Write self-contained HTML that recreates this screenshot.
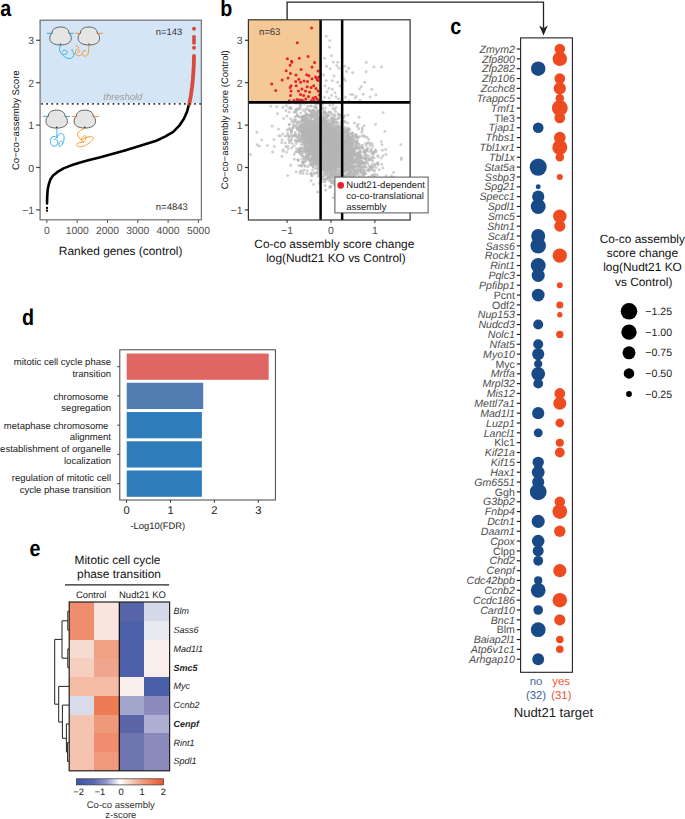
<!DOCTYPE html>
<html><head><meta charset="utf-8"><style>
html,body{margin:0;padding:0;background:#fff;}
body{width:685px;height:819px;overflow:hidden;}
svg{display:block;font-family:"Liberation Sans", sans-serif;text-rendering:geometricPrecision;}
</style></head><body>
<svg width="685" height="819" viewBox="0 0 685 819">
<rect width="685" height="819" fill="#fff"/>
<text transform="translate(0.2 15.6) scale(0.87 1)" font-size="22.7" font-weight="bold">a</text>
<text transform="translate(220.3 15.7) scale(0.87 1)" font-size="22.7" font-weight="bold">b</text>
<text transform="translate(450.2 33.5) scale(0.87 1)" font-size="22.7" font-weight="bold">c</text>
<text transform="translate(21.9 325.4) scale(0.87 1)" font-size="22.7" font-weight="bold">d</text>
<text transform="translate(29.6 555.5) scale(0.87 1)" font-size="22.7" font-weight="bold">e</text>
<rect x="40" y="20" width="161.5" height="83" fill="#d4e5f6"/>
<polyline fill="none" stroke="#000" stroke-width="2.6" stroke-linecap="round" stroke-linejoin="round" points="47.0,203.4 47.2,196.4 47.7,189.4 48.8,184.2 50.5,179.3 53.1,175.4 57.5,171.9 63.6,168.4 70.6,165.6 79.4,162.7 88.2,160.3 99.5,157.4 110.3,154.5 125.7,150.2 141,145.6 156.3,140.7 165.5,136.4 173.2,131.8 179.3,125.7 183.9,118.8 187,111.9 188.8,105 189.3,103.9"/>
<rect x="46" y="206.9" width="2" height="2" fill="#000"/><rect x="46" y="209.6" width="2" height="2" fill="#000"/>
<polyline fill="none" stroke="#d94a38" stroke-width="3.8" stroke-linecap="round" stroke-linejoin="round" points="189.3,103.9 190.8,96 191.9,88 192.8,80 193.4,72 193.8,64 194,56"/>
<circle cx="194" cy="28.8" r="2.0" fill="#d94a38"/>
<circle cx="194" cy="37" r="2.0" fill="#d94a38"/>
<circle cx="194" cy="39.9" r="2.0" fill="#d94a38"/>
<circle cx="194" cy="42.7" r="2.0" fill="#d94a38"/>
<circle cx="194" cy="47.8" r="2.0" fill="#d94a38"/>
<line x1="41.2" y1="103.9" x2="201.5" y2="103.9" stroke="#333" stroke-width="1.7" stroke-dasharray="1.7 3.4"/>
<rect x="40.1" y="20.2" width="161.3" height="199.6" fill="none" stroke="#7a7a7a" stroke-width="1.3"/>
<line x1="36.1" y1="40.3" x2="40" y2="40.3" stroke="#444" stroke-width="1.2"/>
<text x="34.20" y="44.31" font-size="10.5" text-anchor="end" fill="#4d4d4d">3</text>
<line x1="36.1" y1="82.7" x2="40" y2="82.7" stroke="#444" stroke-width="1.2"/>
<text x="34.20" y="86.71" font-size="10.5" text-anchor="end" fill="#4d4d4d">2</text>
<line x1="36.1" y1="125.1" x2="40" y2="125.1" stroke="#444" stroke-width="1.2"/>
<text x="34.20" y="129.11" font-size="10.5" text-anchor="end" fill="#4d4d4d">1</text>
<line x1="36.1" y1="167.5" x2="40" y2="167.5" stroke="#444" stroke-width="1.2"/>
<text x="34.20" y="171.51" font-size="10.5" text-anchor="end" fill="#4d4d4d">0</text>
<line x1="36.1" y1="209.9" x2="40" y2="209.9" stroke="#444" stroke-width="1.2"/>
<text x="34.20" y="213.91" font-size="10.5" text-anchor="end" fill="#4d4d4d">−1</text>
<line x1="46.9" y1="220" x2="46.9" y2="223" stroke="#555" stroke-width="1"/>
<text x="46.90" y="233.56" font-size="10.35" text-anchor="middle" fill="#4d4d4d">0</text>
<line x1="77.2" y1="220" x2="77.2" y2="223" stroke="#555" stroke-width="1"/>
<text x="77.20" y="233.56" font-size="10.35" text-anchor="middle" fill="#4d4d4d">1000</text>
<line x1="107.5" y1="220" x2="107.5" y2="223" stroke="#555" stroke-width="1"/>
<text x="107.50" y="233.56" font-size="10.35" text-anchor="middle" fill="#4d4d4d">2000</text>
<line x1="137.8" y1="220" x2="137.8" y2="223" stroke="#555" stroke-width="1"/>
<text x="137.80" y="233.56" font-size="10.35" text-anchor="middle" fill="#4d4d4d">3000</text>
<line x1="168.1" y1="220" x2="168.1" y2="223" stroke="#555" stroke-width="1"/>
<text x="168.10" y="233.56" font-size="10.35" text-anchor="middle" fill="#4d4d4d">4000</text>
<line x1="198.4" y1="220" x2="198.4" y2="223" stroke="#555" stroke-width="1"/>
<text x="198.40" y="233.56" font-size="10.35" text-anchor="middle" fill="#4d4d4d">5000</text>
<text x="120.65" y="254.70" font-size="11.9" text-anchor="middle" fill="#111">Ranked genes (control)</text>
<text x="19.20" y="120.20" font-size="9.6" text-anchor="middle" fill="#111" transform="rotate(-90 19.2 120.2)">Co−co−assemby Score</text>
<text x="155.80" y="34.60" font-size="9.4" fill="#333">n=143</text>
<text x="155.80" y="209.80" font-size="9.5" fill="#333">n=4843</text>
<text x="103.30" y="100.00" font-size="9.5" font-style="italic" fill="#a0a0a0">threshold</text>
<line x1="47" y1="33.3" x2="73.7" y2="33.3" stroke="#29abe2" stroke-width="1"/>
<path d="M-8.3,6.3 C-8.8,2.5 -5,0 0,0 C5,0 8.8,2.5 8.3,6.3 C10.5,7 11,10 10.6,12.5 C10,16 5.5,18 0,18 C-5.5,18 -10,16 -10.6,12.5 C-11,10 -10.5,7 -8.3,6.3 Z" transform="translate(60.5 27)" fill="#e5e5e5" stroke="#555" stroke-width="0.9"/>
<circle cx="60.5" cy="44.3" r="0.8" fill="#333"/>
<line x1="75.3" y1="33.3" x2="102.8" y2="33.3" stroke="#f7931e" stroke-width="1"/>
<path d="M-8.3,6.3 C-8.8,2.5 -5,0 0,0 C5,0 8.8,2.5 8.3,6.3 C10.5,7 11,10 10.6,12.5 C10,16 5.5,18 0,18 C-5.5,18 -10,16 -10.6,12.5 C-11,10 -10.5,7 -8.3,6.3 Z" transform="translate(88.9 27)" fill="#e5e5e5" stroke="#555" stroke-width="0.9"/>
<circle cx="88.9" cy="44.3" r="0.8" fill="#333"/>
<line x1="42.9" y1="116.39999999999999" x2="70.1" y2="116.39999999999999" stroke="#29abe2" stroke-width="1"/>
<path d="M-8.3,6.3 C-8.8,2.5 -5,0 0,0 C5,0 8.8,2.5 8.3,6.3 C10.5,7 11,10 10.6,12.5 C10,16 5.5,18 0,18 C-5.5,18 -10,16 -10.6,12.5 C-11,10 -10.5,7 -8.3,6.3 Z" transform="translate(56.65 110.1)" fill="#e5e5e5" stroke="#555" stroke-width="0.9"/>
<circle cx="56.65" cy="127.39999999999999" r="0.8" fill="#333"/>
<line x1="71.7" y1="116.39999999999999" x2="99" y2="116.39999999999999" stroke="#f7931e" stroke-width="1"/>
<path d="M-8.3,6.3 C-8.8,2.5 -5,0 0,0 C5,0 8.8,2.5 8.3,6.3 C10.5,7 11,10 10.6,12.5 C10,16 5.5,18 0,18 C-5.5,18 -10,16 -10.6,12.5 C-11,10 -10.5,7 -8.3,6.3 Z" transform="translate(84.8 110.1)" fill="#e5e5e5" stroke="#555" stroke-width="0.9"/>
<circle cx="84.8" cy="127.39999999999999" r="0.8" fill="#333"/>
<path d="M60.7,44.5 C59.5,47 58.8,50 60.5,52.5 C62.5,55.5 66,58.5 69.5,58.6 C72,58.6 74,56.5 74.2,53.5 M62,52.5 C62.5,49.5 66.5,49.5 67.2,52 C67.5,54 65,55 63,54" fill="none" stroke="#29abe2" stroke-width="0.9"/>
<path d="M72.5,49 C71.5,50 72,51.5 73,52 C74,52.5 74,54 73,54.5" fill="none" stroke="#29abe2" stroke-width="0.9"/>
<path d="M88.8,44.5 C89,48 88.5,52 88,54 C87,56.5 83.5,57 82.5,54.5 C81.5,52 83.5,50 86,51 M82,54 C80,57 76,56 75.5,53 C75,50 77.5,48 79,49.5 C80.5,51 78.5,53 77,52 M79,48 C78,46 76.5,45.5 75.5,46.5" fill="none" stroke="#f7931e" stroke-width="0.9"/>
<path d="M56.9,128.3 L56.9,138 C53,134 49.8,138 50.5,142.5 C51.2,147 56,147.5 57.5,144 C59,140.5 55,137.5 53.5,140 M56.9,138 C58,133 62.5,132 63.8,135.5 C65,139 63,144 61,146 C59.5,147.5 58,145 59.5,142.5 C61,140 63,141.5 62.5,144" fill="none" stroke="#29abe2" stroke-width="0.9"/>
<path d="M84.5,128.5 C83,129.5 78,131 77.5,134 C77,137 80.5,138 81.5,140 C82.5,142 80,139 83,136.5 C86,134 87,138 85,140.5 C83,143 80,141 83,139 C86.5,137 92,135.5 93,137.5 C94,140 89,143.5 85,145.5 C81,147.5 76.5,147 76.5,145 C76.5,143 80,142 84,142.5" fill="none" stroke="#f7931e" stroke-width="0.9"/>
<rect x="248.4" y="19.8" width="72.7" height="82.5" fill="#f5c995"/>
<polyline points="287.1,19.8 287.1,2.2 543.5,2.2 543.5,28" fill="none" stroke="#222" stroke-width="1.3"/>
<path d="M539.2,25.5 L543.5,35.4 L547.8,25.5 L543.5,28.2 Z" fill="#222"/>
<g fill="#b6b6b7" fill-opacity="0.65"><circle cx="343.1" cy="167.1" r="1.45"/><circle cx="340.1" cy="166.0" r="1.45"/><circle cx="339.7" cy="138.2" r="1.45"/><circle cx="320.5" cy="144.3" r="1.45"/><circle cx="328.8" cy="120.3" r="1.45"/><circle cx="341.4" cy="133.8" r="1.45"/><circle cx="330.6" cy="151.7" r="1.45"/><circle cx="335.4" cy="143.8" r="1.45"/><circle cx="342.3" cy="142.3" r="1.45"/><circle cx="335.7" cy="142.7" r="1.45"/><circle cx="315.6" cy="163.5" r="1.45"/><circle cx="319.1" cy="146.3" r="1.45"/><circle cx="304.4" cy="132.0" r="1.45"/><circle cx="328.4" cy="144.5" r="1.45"/><circle cx="345.1" cy="163.4" r="1.45"/><circle cx="332.7" cy="160.1" r="1.45"/><circle cx="342.8" cy="146.8" r="1.45"/><circle cx="327.0" cy="156.5" r="1.45"/><circle cx="306.1" cy="142.3" r="1.45"/><circle cx="383.0" cy="168.0" r="1.45"/><circle cx="330.2" cy="136.9" r="1.45"/><circle cx="323.6" cy="118.1" r="1.45"/><circle cx="328.9" cy="163.5" r="1.45"/><circle cx="320.6" cy="147.3" r="1.45"/><circle cx="330.9" cy="133.1" r="1.45"/><circle cx="376.0" cy="151.9" r="1.45"/><circle cx="369.0" cy="158.1" r="1.45"/><circle cx="364.2" cy="172.5" r="1.45"/><circle cx="332.9" cy="105.0" r="1.45"/><circle cx="356.5" cy="147.8" r="1.45"/><circle cx="311.8" cy="148.2" r="1.45"/><circle cx="319.7" cy="152.6" r="1.45"/><circle cx="351.4" cy="156.0" r="1.45"/><circle cx="336.2" cy="151.3" r="1.45"/><circle cx="358.3" cy="154.3" r="1.45"/><circle cx="345.9" cy="163.3" r="1.45"/><circle cx="326.5" cy="120.5" r="1.45"/><circle cx="300.1" cy="107.1" r="1.45"/><circle cx="378.1" cy="157.0" r="1.45"/><circle cx="319.6" cy="135.8" r="1.45"/><circle cx="323.4" cy="158.8" r="1.45"/><circle cx="329.1" cy="154.4" r="1.45"/><circle cx="306.8" cy="152.6" r="1.45"/><circle cx="326.4" cy="158.4" r="1.45"/><circle cx="321.6" cy="109.1" r="1.45"/><circle cx="335.5" cy="144.9" r="1.45"/><circle cx="319.1" cy="142.4" r="1.45"/><circle cx="366.3" cy="150.2" r="1.45"/><circle cx="333.2" cy="176.4" r="1.45"/><circle cx="339.2" cy="167.3" r="1.45"/><circle cx="267.3" cy="145.6" r="1.45"/><circle cx="321.2" cy="159.1" r="1.45"/><circle cx="300.1" cy="173.6" r="1.45"/><circle cx="354.1" cy="154.2" r="1.45"/><circle cx="345.3" cy="162.6" r="1.45"/><circle cx="331.2" cy="182.6" r="1.45"/><circle cx="321.6" cy="179.8" r="1.45"/><circle cx="305.0" cy="131.4" r="1.45"/><circle cx="314.5" cy="156.8" r="1.45"/><circle cx="311.0" cy="180.7" r="1.45"/><circle cx="315.5" cy="148.6" r="1.45"/><circle cx="326.8" cy="162.3" r="1.45"/><circle cx="294.3" cy="121.9" r="1.45"/><circle cx="335.1" cy="157.8" r="1.45"/><circle cx="295.0" cy="120.2" r="1.45"/><circle cx="355.5" cy="171.4" r="1.45"/><circle cx="329.1" cy="145.3" r="1.45"/><circle cx="315.4" cy="136.4" r="1.45"/><circle cx="324.6" cy="161.8" r="1.45"/><circle cx="297.2" cy="124.1" r="1.45"/><circle cx="331.3" cy="133.4" r="1.45"/><circle cx="328.6" cy="157.7" r="1.45"/><circle cx="338.2" cy="137.9" r="1.45"/><circle cx="355.5" cy="174.4" r="1.45"/><circle cx="319.0" cy="150.5" r="1.45"/><circle cx="310.1" cy="142.1" r="1.45"/><circle cx="312.2" cy="134.1" r="1.45"/><circle cx="317.1" cy="116.6" r="1.45"/><circle cx="322.6" cy="142.9" r="1.45"/><circle cx="327.5" cy="159.5" r="1.45"/><circle cx="323.8" cy="137.2" r="1.45"/><circle cx="317.4" cy="114.8" r="1.45"/><circle cx="329.1" cy="143.0" r="1.45"/><circle cx="345.9" cy="168.9" r="1.45"/><circle cx="291.3" cy="131.2" r="1.45"/><circle cx="340.8" cy="140.3" r="1.45"/><circle cx="319.7" cy="127.2" r="1.45"/><circle cx="335.3" cy="140.5" r="1.45"/><circle cx="315.3" cy="153.0" r="1.45"/><circle cx="314.1" cy="145.6" r="1.45"/><circle cx="321.2" cy="140.3" r="1.45"/><circle cx="320.9" cy="147.8" r="1.45"/><circle cx="318.3" cy="172.5" r="1.45"/><circle cx="329.1" cy="178.0" r="1.45"/><circle cx="314.5" cy="128.5" r="1.45"/><circle cx="346.7" cy="138.7" r="1.45"/><circle cx="318.5" cy="163.3" r="1.45"/><circle cx="290.4" cy="107.8" r="1.45"/><circle cx="333.7" cy="175.5" r="1.45"/><circle cx="302.0" cy="118.1" r="1.45"/><circle cx="327.2" cy="130.4" r="1.45"/><circle cx="328.9" cy="144.1" r="1.45"/><circle cx="332.4" cy="152.1" r="1.45"/><circle cx="333.2" cy="156.2" r="1.45"/><circle cx="310.8" cy="155.4" r="1.45"/><circle cx="316.7" cy="149.1" r="1.45"/><circle cx="352.2" cy="184.3" r="1.45"/><circle cx="317.5" cy="148.6" r="1.45"/><circle cx="318.0" cy="148.6" r="1.45"/><circle cx="323.3" cy="162.1" r="1.45"/><circle cx="350.4" cy="151.7" r="1.45"/><circle cx="374.7" cy="176.4" r="1.45"/><circle cx="334.1" cy="182.2" r="1.45"/><circle cx="328.0" cy="151.3" r="1.45"/><circle cx="315.5" cy="126.2" r="1.45"/><circle cx="308.8" cy="139.4" r="1.45"/><circle cx="323.3" cy="148.6" r="1.45"/><circle cx="373.0" cy="182.7" r="1.45"/><circle cx="346.9" cy="148.6" r="1.45"/><circle cx="355.2" cy="174.8" r="1.45"/><circle cx="335.2" cy="161.0" r="1.45"/><circle cx="319.5" cy="174.8" r="1.45"/><circle cx="323.7" cy="145.6" r="1.45"/><circle cx="349.1" cy="142.6" r="1.45"/><circle cx="354.2" cy="160.8" r="1.45"/><circle cx="320.8" cy="147.3" r="1.45"/><circle cx="337.7" cy="146.3" r="1.45"/><circle cx="340.3" cy="161.5" r="1.45"/><circle cx="329.4" cy="156.1" r="1.45"/><circle cx="320.5" cy="162.7" r="1.45"/><circle cx="307.3" cy="132.4" r="1.45"/><circle cx="351.6" cy="143.3" r="1.45"/><circle cx="315.4" cy="134.2" r="1.45"/><circle cx="318.2" cy="135.8" r="1.45"/><circle cx="319.5" cy="139.4" r="1.45"/><circle cx="339.9" cy="148.2" r="1.45"/><circle cx="335.6" cy="161.7" r="1.45"/><circle cx="329.2" cy="154.8" r="1.45"/><circle cx="316.7" cy="149.2" r="1.45"/><circle cx="361.8" cy="180.3" r="1.45"/><circle cx="302.4" cy="132.9" r="1.45"/><circle cx="331.7" cy="146.8" r="1.45"/><circle cx="329.9" cy="165.6" r="1.45"/><circle cx="331.7" cy="139.7" r="1.45"/><circle cx="283.6" cy="118.6" r="1.45"/><circle cx="327.7" cy="141.3" r="1.45"/><circle cx="347.3" cy="174.3" r="1.45"/><circle cx="340.0" cy="166.3" r="1.45"/><circle cx="326.3" cy="148.5" r="1.45"/><circle cx="317.7" cy="140.3" r="1.45"/><circle cx="314.6" cy="147.5" r="1.45"/><circle cx="356.3" cy="136.0" r="1.45"/><circle cx="327.6" cy="165.3" r="1.45"/><circle cx="326.3" cy="178.6" r="1.45"/><circle cx="346.4" cy="133.3" r="1.45"/><circle cx="352.3" cy="149.6" r="1.45"/><circle cx="340.7" cy="161.1" r="1.45"/><circle cx="355.6" cy="162.2" r="1.45"/><circle cx="336.0" cy="164.2" r="1.45"/><circle cx="350.5" cy="163.5" r="1.45"/><circle cx="338.2" cy="139.6" r="1.45"/><circle cx="319.8" cy="145.2" r="1.45"/><circle cx="324.6" cy="155.0" r="1.45"/><circle cx="318.4" cy="159.6" r="1.45"/><circle cx="356.8" cy="155.2" r="1.45"/><circle cx="259.2" cy="146.3" r="1.45"/><circle cx="321.9" cy="167.1" r="1.45"/><circle cx="331.7" cy="150.7" r="1.45"/><circle cx="334.6" cy="151.8" r="1.45"/><circle cx="310.6" cy="128.5" r="1.45"/><circle cx="314.4" cy="124.8" r="1.45"/><circle cx="301.6" cy="166.3" r="1.45"/><circle cx="377.9" cy="162.8" r="1.45"/><circle cx="314.7" cy="135.4" r="1.45"/><circle cx="322.6" cy="144.5" r="1.45"/><circle cx="315.0" cy="150.1" r="1.45"/><circle cx="315.8" cy="136.4" r="1.45"/><circle cx="313.0" cy="135.9" r="1.45"/><circle cx="328.2" cy="151.5" r="1.45"/><circle cx="334.5" cy="143.6" r="1.45"/><circle cx="305.3" cy="143.7" r="1.45"/><circle cx="354.6" cy="123.2" r="1.45"/><circle cx="346.2" cy="130.5" r="1.45"/><circle cx="287.1" cy="129.9" r="1.45"/><circle cx="295.3" cy="139.9" r="1.45"/><circle cx="295.6" cy="152.1" r="1.45"/><circle cx="317.9" cy="137.0" r="1.45"/><circle cx="333.2" cy="151.4" r="1.45"/><circle cx="329.1" cy="154.9" r="1.45"/><circle cx="318.6" cy="155.5" r="1.45"/><circle cx="326.6" cy="161.7" r="1.45"/><circle cx="342.4" cy="204.2" r="1.45"/><circle cx="318.1" cy="147.5" r="1.45"/><circle cx="303.6" cy="123.1" r="1.45"/><circle cx="341.5" cy="154.9" r="1.45"/><circle cx="328.7" cy="167.1" r="1.45"/><circle cx="318.5" cy="146.1" r="1.45"/><circle cx="307.6" cy="108.9" r="1.45"/><circle cx="325.5" cy="140.5" r="1.45"/><circle cx="348.7" cy="167.4" r="1.45"/><circle cx="315.6" cy="152.7" r="1.45"/><circle cx="326.5" cy="165.5" r="1.45"/><circle cx="335.9" cy="158.3" r="1.45"/><circle cx="323.2" cy="131.2" r="1.45"/><circle cx="338.0" cy="152.0" r="1.45"/><circle cx="340.9" cy="168.4" r="1.45"/><circle cx="324.1" cy="129.0" r="1.45"/><circle cx="350.4" cy="161.4" r="1.45"/><circle cx="326.4" cy="147.3" r="1.45"/><circle cx="338.6" cy="184.5" r="1.45"/><circle cx="330.0" cy="140.7" r="1.45"/><circle cx="306.6" cy="143.0" r="1.45"/><circle cx="326.6" cy="143.8" r="1.45"/><circle cx="326.7" cy="153.0" r="1.45"/><circle cx="326.1" cy="152.3" r="1.45"/><circle cx="350.2" cy="172.1" r="1.45"/><circle cx="317.3" cy="133.8" r="1.45"/><circle cx="299.0" cy="140.0" r="1.45"/><circle cx="351.6" cy="162.3" r="1.45"/><circle cx="326.9" cy="155.7" r="1.45"/><circle cx="347.7" cy="132.3" r="1.45"/><circle cx="325.0" cy="160.7" r="1.45"/><circle cx="311.8" cy="133.9" r="1.45"/><circle cx="302.2" cy="136.1" r="1.45"/><circle cx="344.2" cy="158.1" r="1.45"/><circle cx="336.7" cy="165.0" r="1.45"/><circle cx="369.6" cy="181.2" r="1.45"/><circle cx="296.2" cy="143.5" r="1.45"/><circle cx="336.6" cy="164.5" r="1.45"/><circle cx="319.2" cy="152.1" r="1.45"/><circle cx="318.9" cy="149.2" r="1.45"/><circle cx="329.1" cy="153.4" r="1.45"/><circle cx="343.6" cy="170.8" r="1.45"/><circle cx="316.1" cy="117.9" r="1.45"/><circle cx="363.2" cy="163.2" r="1.45"/><circle cx="309.6" cy="151.3" r="1.45"/><circle cx="345.1" cy="152.6" r="1.45"/><circle cx="318.3" cy="155.2" r="1.45"/><circle cx="362.4" cy="175.1" r="1.45"/><circle cx="329.8" cy="177.0" r="1.45"/><circle cx="340.0" cy="162.2" r="1.45"/><circle cx="353.7" cy="163.1" r="1.45"/><circle cx="312.1" cy="124.1" r="1.45"/><circle cx="314.5" cy="139.1" r="1.45"/><circle cx="336.2" cy="139.9" r="1.45"/><circle cx="311.7" cy="141.0" r="1.45"/><circle cx="358.4" cy="169.8" r="1.45"/><circle cx="327.1" cy="139.1" r="1.45"/><circle cx="332.5" cy="148.8" r="1.45"/><circle cx="318.7" cy="135.4" r="1.45"/><circle cx="342.7" cy="168.6" r="1.45"/><circle cx="321.9" cy="133.7" r="1.45"/><circle cx="341.9" cy="160.9" r="1.45"/><circle cx="368.2" cy="164.0" r="1.45"/><circle cx="307.2" cy="170.7" r="1.45"/><circle cx="332.9" cy="158.8" r="1.45"/><circle cx="329.3" cy="141.0" r="1.45"/><circle cx="323.4" cy="162.2" r="1.45"/><circle cx="312.3" cy="147.6" r="1.45"/><circle cx="336.6" cy="162.4" r="1.45"/><circle cx="312.5" cy="151.6" r="1.45"/><circle cx="334.2" cy="138.0" r="1.45"/><circle cx="310.0" cy="132.4" r="1.45"/><circle cx="320.7" cy="133.0" r="1.45"/><circle cx="339.8" cy="129.3" r="1.45"/><circle cx="343.0" cy="175.9" r="1.45"/><circle cx="328.1" cy="152.6" r="1.45"/><circle cx="299.6" cy="153.8" r="1.45"/><circle cx="331.1" cy="138.0" r="1.45"/><circle cx="358.1" cy="157.6" r="1.45"/><circle cx="316.9" cy="140.9" r="1.45"/><circle cx="329.5" cy="156.1" r="1.45"/><circle cx="319.6" cy="151.8" r="1.45"/><circle cx="316.7" cy="128.4" r="1.45"/><circle cx="348.8" cy="161.9" r="1.45"/><circle cx="349.0" cy="135.8" r="1.45"/><circle cx="346.8" cy="152.9" r="1.45"/><circle cx="327.7" cy="145.0" r="1.45"/><circle cx="358.2" cy="124.5" r="1.45"/><circle cx="331.1" cy="142.9" r="1.45"/><circle cx="306.4" cy="123.7" r="1.45"/><circle cx="314.1" cy="131.5" r="1.45"/><circle cx="320.3" cy="131.9" r="1.45"/><circle cx="307.8" cy="135.0" r="1.45"/><circle cx="309.9" cy="110.4" r="1.45"/><circle cx="340.1" cy="161.3" r="1.45"/><circle cx="314.1" cy="158.0" r="1.45"/><circle cx="361.8" cy="172.7" r="1.45"/><circle cx="328.0" cy="136.0" r="1.45"/><circle cx="343.9" cy="134.0" r="1.45"/><circle cx="312.5" cy="154.9" r="1.45"/><circle cx="334.6" cy="148.1" r="1.45"/><circle cx="331.0" cy="161.4" r="1.45"/><circle cx="315.2" cy="144.7" r="1.45"/><circle cx="317.6" cy="192.0" r="1.45"/><circle cx="344.3" cy="153.9" r="1.45"/><circle cx="329.7" cy="133.3" r="1.45"/><circle cx="301.2" cy="138.7" r="1.45"/><circle cx="339.3" cy="130.5" r="1.45"/><circle cx="329.4" cy="161.4" r="1.45"/><circle cx="335.8" cy="129.4" r="1.45"/><circle cx="335.7" cy="173.1" r="1.45"/><circle cx="352.8" cy="133.0" r="1.45"/><circle cx="332.1" cy="144.0" r="1.45"/><circle cx="327.5" cy="169.5" r="1.45"/><circle cx="315.6" cy="131.8" r="1.45"/><circle cx="338.1" cy="113.8" r="1.45"/><circle cx="310.6" cy="128.8" r="1.45"/><circle cx="328.2" cy="158.6" r="1.45"/><circle cx="312.5" cy="115.1" r="1.45"/><circle cx="334.3" cy="123.6" r="1.45"/><circle cx="316.9" cy="136.3" r="1.45"/><circle cx="317.5" cy="141.0" r="1.45"/><circle cx="326.9" cy="142.5" r="1.45"/><circle cx="307.7" cy="106.3" r="1.45"/><circle cx="356.2" cy="155.3" r="1.45"/><circle cx="351.8" cy="163.0" r="1.45"/><circle cx="322.9" cy="135.0" r="1.45"/><circle cx="333.5" cy="135.9" r="1.45"/><circle cx="338.5" cy="136.8" r="1.45"/><circle cx="327.8" cy="160.2" r="1.45"/><circle cx="321.1" cy="121.7" r="1.45"/><circle cx="313.2" cy="124.1" r="1.45"/><circle cx="350.4" cy="166.4" r="1.45"/><circle cx="305.5" cy="144.9" r="1.45"/><circle cx="312.4" cy="113.9" r="1.45"/><circle cx="344.4" cy="161.5" r="1.45"/><circle cx="311.1" cy="129.1" r="1.45"/><circle cx="361.6" cy="179.8" r="1.45"/><circle cx="323.1" cy="120.6" r="1.45"/><circle cx="311.2" cy="148.9" r="1.45"/><circle cx="348.4" cy="154.0" r="1.45"/><circle cx="320.8" cy="133.3" r="1.45"/><circle cx="315.4" cy="153.3" r="1.45"/><circle cx="345.9" cy="152.2" r="1.45"/><circle cx="324.6" cy="112.4" r="1.45"/><circle cx="312.4" cy="163.5" r="1.45"/><circle cx="316.7" cy="142.2" r="1.45"/><circle cx="343.7" cy="179.8" r="1.45"/><circle cx="316.2" cy="154.7" r="1.45"/><circle cx="340.3" cy="145.8" r="1.45"/><circle cx="323.6" cy="113.0" r="1.45"/><circle cx="342.8" cy="159.0" r="1.45"/><circle cx="326.0" cy="142.2" r="1.45"/><circle cx="349.5" cy="153.4" r="1.45"/><circle cx="316.8" cy="127.3" r="1.45"/><circle cx="372.1" cy="157.1" r="1.45"/><circle cx="348.0" cy="135.4" r="1.45"/><circle cx="332.8" cy="156.6" r="1.45"/><circle cx="321.7" cy="134.9" r="1.45"/><circle cx="351.9" cy="133.7" r="1.45"/><circle cx="309.4" cy="129.4" r="1.45"/><circle cx="311.2" cy="112.7" r="1.45"/><circle cx="320.3" cy="155.2" r="1.45"/><circle cx="339.3" cy="143.9" r="1.45"/><circle cx="334.7" cy="142.8" r="1.45"/><circle cx="314.3" cy="161.6" r="1.45"/><circle cx="312.5" cy="164.8" r="1.45"/><circle cx="339.5" cy="144.4" r="1.45"/><circle cx="320.8" cy="153.1" r="1.45"/><circle cx="329.8" cy="105.4" r="1.45"/><circle cx="319.1" cy="166.8" r="1.45"/><circle cx="373.5" cy="154.4" r="1.45"/><circle cx="358.6" cy="152.5" r="1.45"/><circle cx="349.9" cy="150.2" r="1.45"/><circle cx="270.9" cy="106.2" r="1.45"/><circle cx="302.6" cy="139.6" r="1.45"/><circle cx="323.1" cy="120.4" r="1.45"/><circle cx="307.1" cy="126.8" r="1.45"/><circle cx="304.2" cy="127.1" r="1.45"/><circle cx="321.5" cy="148.4" r="1.45"/><circle cx="350.9" cy="165.1" r="1.45"/><circle cx="308.8" cy="120.1" r="1.45"/><circle cx="334.5" cy="154.1" r="1.45"/><circle cx="341.2" cy="175.8" r="1.45"/><circle cx="304.8" cy="126.7" r="1.45"/><circle cx="324.6" cy="168.3" r="1.45"/><circle cx="318.0" cy="138.8" r="1.45"/><circle cx="320.2" cy="126.6" r="1.45"/><circle cx="337.1" cy="158.7" r="1.45"/><circle cx="325.5" cy="113.1" r="1.45"/><circle cx="332.8" cy="175.2" r="1.45"/><circle cx="309.7" cy="137.4" r="1.45"/><circle cx="308.1" cy="124.6" r="1.45"/><circle cx="354.4" cy="148.4" r="1.45"/><circle cx="319.5" cy="129.7" r="1.45"/><circle cx="285.4" cy="136.3" r="1.45"/><circle cx="342.2" cy="160.0" r="1.45"/><circle cx="323.9" cy="141.4" r="1.45"/><circle cx="289.3" cy="142.8" r="1.45"/><circle cx="340.8" cy="173.2" r="1.45"/><circle cx="320.2" cy="110.7" r="1.45"/><circle cx="325.6" cy="133.1" r="1.45"/><circle cx="314.2" cy="117.5" r="1.45"/><circle cx="338.3" cy="144.7" r="1.45"/><circle cx="344.5" cy="145.3" r="1.45"/><circle cx="343.6" cy="156.4" r="1.45"/><circle cx="325.9" cy="150.0" r="1.45"/><circle cx="324.6" cy="149.8" r="1.45"/><circle cx="308.3" cy="157.8" r="1.45"/><circle cx="311.7" cy="132.0" r="1.45"/><circle cx="312.8" cy="137.1" r="1.45"/><circle cx="339.6" cy="142.9" r="1.45"/><circle cx="328.4" cy="156.0" r="1.45"/><circle cx="342.2" cy="142.1" r="1.45"/><circle cx="375.7" cy="197.0" r="1.45"/><circle cx="317.2" cy="138.8" r="1.45"/><circle cx="325.9" cy="123.0" r="1.45"/><circle cx="330.0" cy="146.8" r="1.45"/><circle cx="344.0" cy="147.6" r="1.45"/><circle cx="318.3" cy="149.2" r="1.45"/><circle cx="342.6" cy="123.6" r="1.45"/><circle cx="305.9" cy="143.6" r="1.45"/><circle cx="322.0" cy="131.5" r="1.45"/><circle cx="327.6" cy="115.9" r="1.45"/><circle cx="311.5" cy="143.6" r="1.45"/><circle cx="331.7" cy="138.6" r="1.45"/><circle cx="339.3" cy="143.8" r="1.45"/><circle cx="319.0" cy="143.4" r="1.45"/><circle cx="326.4" cy="148.8" r="1.45"/><circle cx="320.7" cy="119.1" r="1.45"/><circle cx="319.9" cy="137.1" r="1.45"/><circle cx="343.2" cy="163.1" r="1.45"/><circle cx="344.3" cy="155.4" r="1.45"/><circle cx="319.7" cy="122.7" r="1.45"/><circle cx="288.5" cy="129.6" r="1.45"/><circle cx="310.0" cy="164.5" r="1.45"/><circle cx="313.6" cy="155.7" r="1.45"/><circle cx="316.5" cy="137.9" r="1.45"/><circle cx="328.0" cy="131.2" r="1.45"/><circle cx="325.1" cy="130.8" r="1.45"/><circle cx="332.6" cy="160.0" r="1.45"/><circle cx="346.2" cy="162.1" r="1.45"/><circle cx="315.5" cy="152.7" r="1.45"/><circle cx="330.9" cy="131.4" r="1.45"/><circle cx="306.8" cy="128.1" r="1.45"/><circle cx="325.1" cy="158.8" r="1.45"/><circle cx="309.0" cy="143.1" r="1.45"/><circle cx="342.8" cy="145.7" r="1.45"/><circle cx="371.3" cy="166.8" r="1.45"/><circle cx="352.7" cy="148.2" r="1.45"/><circle cx="341.8" cy="169.3" r="1.45"/><circle cx="352.2" cy="160.7" r="1.45"/><circle cx="308.2" cy="143.1" r="1.45"/><circle cx="343.7" cy="161.2" r="1.45"/><circle cx="297.5" cy="129.6" r="1.45"/><circle cx="323.1" cy="142.3" r="1.45"/><circle cx="332.2" cy="160.9" r="1.45"/><circle cx="321.6" cy="136.7" r="1.45"/><circle cx="349.1" cy="142.9" r="1.45"/><circle cx="317.9" cy="125.1" r="1.45"/><circle cx="345.2" cy="145.0" r="1.45"/><circle cx="330.9" cy="169.0" r="1.45"/><circle cx="289.3" cy="124.5" r="1.45"/><circle cx="370.7" cy="166.5" r="1.45"/><circle cx="310.4" cy="151.9" r="1.45"/><circle cx="308.7" cy="115.5" r="1.45"/><circle cx="322.6" cy="160.5" r="1.45"/><circle cx="341.7" cy="155.8" r="1.45"/><circle cx="329.7" cy="158.5" r="1.45"/><circle cx="338.5" cy="151.1" r="1.45"/><circle cx="355.0" cy="142.0" r="1.45"/><circle cx="331.2" cy="130.4" r="1.45"/><circle cx="314.3" cy="134.2" r="1.45"/><circle cx="329.8" cy="145.1" r="1.45"/><circle cx="306.4" cy="150.4" r="1.45"/><circle cx="325.2" cy="147.7" r="1.45"/><circle cx="326.7" cy="158.9" r="1.45"/><circle cx="335.3" cy="132.8" r="1.45"/><circle cx="320.7" cy="172.9" r="1.45"/><circle cx="333.7" cy="133.6" r="1.45"/><circle cx="324.5" cy="172.9" r="1.45"/><circle cx="320.2" cy="128.7" r="1.45"/><circle cx="365.5" cy="143.7" r="1.45"/><circle cx="328.5" cy="162.6" r="1.45"/><circle cx="310.6" cy="162.6" r="1.45"/><circle cx="336.6" cy="122.4" r="1.45"/><circle cx="335.2" cy="138.2" r="1.45"/><circle cx="333.1" cy="142.6" r="1.45"/><circle cx="347.4" cy="146.6" r="1.45"/><circle cx="317.8" cy="142.8" r="1.45"/><circle cx="328.6" cy="135.9" r="1.45"/><circle cx="316.0" cy="158.1" r="1.45"/><circle cx="320.1" cy="165.8" r="1.45"/><circle cx="322.0" cy="129.6" r="1.45"/><circle cx="364.2" cy="155.4" r="1.45"/><circle cx="310.2" cy="121.7" r="1.45"/><circle cx="347.6" cy="145.7" r="1.45"/><circle cx="318.6" cy="143.7" r="1.45"/><circle cx="318.9" cy="155.9" r="1.45"/><circle cx="331.5" cy="144.5" r="1.45"/><circle cx="324.0" cy="144.3" r="1.45"/><circle cx="282.1" cy="139.9" r="1.45"/><circle cx="336.0" cy="140.3" r="1.45"/><circle cx="309.9" cy="160.8" r="1.45"/><circle cx="330.8" cy="169.9" r="1.45"/><circle cx="371.6" cy="153.1" r="1.45"/><circle cx="318.5" cy="128.0" r="1.45"/><circle cx="333.2" cy="148.0" r="1.45"/><circle cx="336.3" cy="138.9" r="1.45"/><circle cx="350.6" cy="139.1" r="1.45"/><circle cx="278.8" cy="135.7" r="1.45"/><circle cx="336.4" cy="151.6" r="1.45"/><circle cx="351.3" cy="173.0" r="1.45"/><circle cx="349.6" cy="176.4" r="1.45"/><circle cx="311.2" cy="147.0" r="1.45"/><circle cx="322.8" cy="131.0" r="1.45"/><circle cx="329.9" cy="148.3" r="1.45"/><circle cx="307.3" cy="129.7" r="1.45"/><circle cx="329.9" cy="172.1" r="1.45"/><circle cx="319.7" cy="158.4" r="1.45"/><circle cx="360.3" cy="160.5" r="1.45"/><circle cx="311.5" cy="147.2" r="1.45"/><circle cx="331.9" cy="142.8" r="1.45"/><circle cx="306.5" cy="156.9" r="1.45"/><circle cx="320.1" cy="146.6" r="1.45"/><circle cx="326.4" cy="127.3" r="1.45"/><circle cx="312.9" cy="112.7" r="1.45"/><circle cx="301.4" cy="154.4" r="1.45"/><circle cx="302.8" cy="127.8" r="1.45"/><circle cx="317.9" cy="131.8" r="1.45"/><circle cx="312.7" cy="121.1" r="1.45"/><circle cx="330.9" cy="136.6" r="1.45"/><circle cx="314.1" cy="146.9" r="1.45"/><circle cx="300.5" cy="129.4" r="1.45"/><circle cx="326.3" cy="170.0" r="1.45"/><circle cx="360.9" cy="160.8" r="1.45"/><circle cx="300.4" cy="125.1" r="1.45"/><circle cx="316.9" cy="139.0" r="1.45"/><circle cx="310.4" cy="138.2" r="1.45"/><circle cx="322.3" cy="159.2" r="1.45"/><circle cx="324.2" cy="178.9" r="1.45"/><circle cx="365.2" cy="198.6" r="1.45"/><circle cx="359.5" cy="157.0" r="1.45"/><circle cx="364.2" cy="174.1" r="1.45"/><circle cx="317.6" cy="126.6" r="1.45"/><circle cx="306.1" cy="133.1" r="1.45"/><circle cx="301.3" cy="131.8" r="1.45"/><circle cx="323.9" cy="140.1" r="1.45"/><circle cx="318.8" cy="149.4" r="1.45"/><circle cx="342.3" cy="166.5" r="1.45"/><circle cx="336.7" cy="141.7" r="1.45"/><circle cx="326.1" cy="127.0" r="1.45"/><circle cx="332.7" cy="158.9" r="1.45"/><circle cx="302.5" cy="128.5" r="1.45"/><circle cx="304.0" cy="121.2" r="1.45"/><circle cx="301.4" cy="151.5" r="1.45"/><circle cx="318.3" cy="118.3" r="1.45"/><circle cx="311.4" cy="153.6" r="1.45"/><circle cx="322.0" cy="125.1" r="1.45"/><circle cx="334.8" cy="150.1" r="1.45"/><circle cx="315.9" cy="123.3" r="1.45"/><circle cx="329.3" cy="157.4" r="1.45"/><circle cx="319.2" cy="145.0" r="1.45"/><circle cx="302.4" cy="124.4" r="1.45"/><circle cx="354.4" cy="162.1" r="1.45"/><circle cx="323.3" cy="127.5" r="1.45"/><circle cx="315.2" cy="140.2" r="1.45"/><circle cx="359.6" cy="156.5" r="1.45"/><circle cx="320.2" cy="147.1" r="1.45"/><circle cx="334.3" cy="135.1" r="1.45"/><circle cx="324.5" cy="127.3" r="1.45"/><circle cx="303.8" cy="162.0" r="1.45"/><circle cx="324.7" cy="147.9" r="1.45"/><circle cx="326.1" cy="158.2" r="1.45"/><circle cx="324.8" cy="112.7" r="1.45"/><circle cx="353.9" cy="166.5" r="1.45"/><circle cx="313.8" cy="153.1" r="1.45"/><circle cx="339.2" cy="158.3" r="1.45"/><circle cx="318.1" cy="132.8" r="1.45"/><circle cx="321.0" cy="152.3" r="1.45"/><circle cx="337.2" cy="122.0" r="1.45"/><circle cx="340.8" cy="159.9" r="1.45"/><circle cx="307.8" cy="132.9" r="1.45"/><circle cx="299.2" cy="117.0" r="1.45"/><circle cx="318.4" cy="133.9" r="1.45"/><circle cx="301.6" cy="171.2" r="1.45"/><circle cx="321.7" cy="159.1" r="1.45"/><circle cx="336.3" cy="160.7" r="1.45"/><circle cx="321.2" cy="181.8" r="1.45"/><circle cx="319.0" cy="129.3" r="1.45"/><circle cx="317.6" cy="161.8" r="1.45"/><circle cx="325.4" cy="129.0" r="1.45"/><circle cx="322.2" cy="152.9" r="1.45"/><circle cx="339.6" cy="142.2" r="1.45"/><circle cx="353.2" cy="168.3" r="1.45"/><circle cx="303.3" cy="125.0" r="1.45"/><circle cx="347.3" cy="165.8" r="1.45"/><circle cx="355.7" cy="171.8" r="1.45"/><circle cx="293.1" cy="120.4" r="1.45"/><circle cx="322.0" cy="130.7" r="1.45"/><circle cx="328.7" cy="154.4" r="1.45"/><circle cx="349.6" cy="152.7" r="1.45"/><circle cx="309.9" cy="154.4" r="1.45"/><circle cx="329.2" cy="147.4" r="1.45"/><circle cx="344.6" cy="158.9" r="1.45"/><circle cx="312.2" cy="142.3" r="1.45"/><circle cx="357.3" cy="153.0" r="1.45"/><circle cx="334.1" cy="126.2" r="1.45"/><circle cx="309.5" cy="150.1" r="1.45"/><circle cx="334.2" cy="168.2" r="1.45"/><circle cx="337.2" cy="145.0" r="1.45"/><circle cx="361.7" cy="171.4" r="1.45"/><circle cx="329.8" cy="135.3" r="1.45"/><circle cx="326.7" cy="166.8" r="1.45"/><circle cx="324.8" cy="142.9" r="1.45"/><circle cx="316.4" cy="138.1" r="1.45"/><circle cx="343.6" cy="129.0" r="1.45"/><circle cx="311.1" cy="173.1" r="1.45"/><circle cx="320.6" cy="146.5" r="1.45"/><circle cx="306.9" cy="119.8" r="1.45"/><circle cx="312.9" cy="133.0" r="1.45"/><circle cx="334.9" cy="132.3" r="1.45"/><circle cx="332.6" cy="167.3" r="1.45"/><circle cx="333.5" cy="145.0" r="1.45"/><circle cx="349.1" cy="154.0" r="1.45"/><circle cx="274.3" cy="146.4" r="1.45"/><circle cx="334.1" cy="121.8" r="1.45"/><circle cx="315.2" cy="145.3" r="1.45"/><circle cx="314.2" cy="129.2" r="1.45"/><circle cx="311.7" cy="124.2" r="1.45"/><circle cx="311.1" cy="128.0" r="1.45"/><circle cx="339.9" cy="146.5" r="1.45"/><circle cx="359.5" cy="176.3" r="1.45"/><circle cx="374.3" cy="152.0" r="1.45"/><circle cx="322.9" cy="149.5" r="1.45"/><circle cx="287.6" cy="133.2" r="1.45"/><circle cx="322.6" cy="145.8" r="1.45"/><circle cx="332.8" cy="183.1" r="1.45"/><circle cx="314.7" cy="107.1" r="1.45"/><circle cx="326.6" cy="147.9" r="1.45"/><circle cx="351.6" cy="168.6" r="1.45"/><circle cx="321.8" cy="140.5" r="1.45"/><circle cx="351.0" cy="172.7" r="1.45"/><circle cx="340.7" cy="163.5" r="1.45"/><circle cx="365.6" cy="158.1" r="1.45"/><circle cx="310.0" cy="124.9" r="1.45"/><circle cx="347.3" cy="164.8" r="1.45"/><circle cx="296.7" cy="136.4" r="1.45"/><circle cx="319.4" cy="160.5" r="1.45"/><circle cx="343.2" cy="135.6" r="1.45"/><circle cx="330.3" cy="122.2" r="1.45"/><circle cx="312.2" cy="142.8" r="1.45"/><circle cx="336.4" cy="180.9" r="1.45"/><circle cx="359.0" cy="161.9" r="1.45"/><circle cx="312.4" cy="129.1" r="1.45"/><circle cx="337.6" cy="152.2" r="1.45"/><circle cx="308.9" cy="132.8" r="1.45"/><circle cx="336.3" cy="148.4" r="1.45"/><circle cx="297.9" cy="159.7" r="1.45"/><circle cx="321.3" cy="140.5" r="1.45"/><circle cx="329.5" cy="158.0" r="1.45"/><circle cx="372.2" cy="168.3" r="1.45"/><circle cx="318.7" cy="133.9" r="1.45"/><circle cx="302.7" cy="164.0" r="1.45"/><circle cx="320.0" cy="163.2" r="1.45"/><circle cx="324.5" cy="140.9" r="1.45"/><circle cx="332.7" cy="154.2" r="1.45"/><circle cx="314.0" cy="150.0" r="1.45"/><circle cx="356.7" cy="155.2" r="1.45"/><circle cx="314.6" cy="112.4" r="1.45"/><circle cx="332.0" cy="153.5" r="1.45"/><circle cx="317.2" cy="135.2" r="1.45"/><circle cx="306.0" cy="151.8" r="1.45"/><circle cx="329.7" cy="164.3" r="1.45"/><circle cx="330.8" cy="161.3" r="1.45"/><circle cx="330.9" cy="160.1" r="1.45"/><circle cx="356.0" cy="159.5" r="1.45"/><circle cx="323.0" cy="143.6" r="1.45"/><circle cx="311.7" cy="133.8" r="1.45"/><circle cx="323.5" cy="145.0" r="1.45"/><circle cx="332.3" cy="126.4" r="1.45"/><circle cx="303.0" cy="117.9" r="1.45"/><circle cx="314.6" cy="159.8" r="1.45"/><circle cx="310.3" cy="151.7" r="1.45"/><circle cx="315.9" cy="131.5" r="1.45"/><circle cx="343.6" cy="144.4" r="1.45"/><circle cx="299.6" cy="151.6" r="1.45"/><circle cx="328.0" cy="160.7" r="1.45"/><circle cx="321.5" cy="138.5" r="1.45"/><circle cx="324.1" cy="149.9" r="1.45"/><circle cx="329.5" cy="128.7" r="1.45"/><circle cx="319.8" cy="131.7" r="1.45"/><circle cx="347.8" cy="123.0" r="1.45"/><circle cx="348.8" cy="142.2" r="1.45"/><circle cx="299.2" cy="149.1" r="1.45"/><circle cx="329.7" cy="157.0" r="1.45"/><circle cx="349.5" cy="158.4" r="1.45"/><circle cx="316.4" cy="151.2" r="1.45"/><circle cx="326.7" cy="129.1" r="1.45"/><circle cx="315.0" cy="124.8" r="1.45"/><circle cx="343.8" cy="151.1" r="1.45"/><circle cx="296.2" cy="103.3" r="1.45"/><circle cx="303.2" cy="116.4" r="1.45"/><circle cx="320.5" cy="126.8" r="1.45"/><circle cx="314.8" cy="155.5" r="1.45"/><circle cx="321.8" cy="139.7" r="1.45"/><circle cx="324.1" cy="142.1" r="1.45"/><circle cx="359.1" cy="117.3" r="1.45"/><circle cx="318.4" cy="139.9" r="1.45"/><circle cx="290.7" cy="165.3" r="1.45"/><circle cx="324.9" cy="118.8" r="1.45"/><circle cx="312.1" cy="137.6" r="1.45"/><circle cx="329.7" cy="148.0" r="1.45"/><circle cx="349.9" cy="148.0" r="1.45"/><circle cx="357.0" cy="159.3" r="1.45"/><circle cx="358.0" cy="142.9" r="1.45"/><circle cx="332.8" cy="138.7" r="1.45"/><circle cx="314.5" cy="143.1" r="1.45"/><circle cx="321.8" cy="153.7" r="1.45"/><circle cx="361.6" cy="147.4" r="1.45"/><circle cx="339.7" cy="144.7" r="1.45"/><circle cx="310.0" cy="150.0" r="1.45"/><circle cx="328.1" cy="152.9" r="1.45"/><circle cx="338.1" cy="145.9" r="1.45"/><circle cx="319.1" cy="130.0" r="1.45"/><circle cx="332.9" cy="173.7" r="1.45"/><circle cx="327.0" cy="140.3" r="1.45"/><circle cx="325.5" cy="161.4" r="1.45"/><circle cx="321.9" cy="136.7" r="1.45"/><circle cx="358.8" cy="165.6" r="1.45"/><circle cx="359.1" cy="144.6" r="1.45"/><circle cx="328.1" cy="131.3" r="1.45"/><circle cx="323.7" cy="112.8" r="1.45"/><circle cx="347.2" cy="152.8" r="1.45"/><circle cx="320.5" cy="125.4" r="1.45"/><circle cx="340.8" cy="137.7" r="1.45"/><circle cx="322.9" cy="164.7" r="1.45"/><circle cx="381.2" cy="141.6" r="1.45"/><circle cx="318.7" cy="140.1" r="1.45"/><circle cx="335.2" cy="136.2" r="1.45"/><circle cx="301.6" cy="131.8" r="1.45"/><circle cx="339.0" cy="158.2" r="1.45"/><circle cx="340.6" cy="148.6" r="1.45"/><circle cx="339.9" cy="139.5" r="1.45"/><circle cx="322.7" cy="155.5" r="1.45"/><circle cx="328.0" cy="127.1" r="1.45"/><circle cx="325.8" cy="190.2" r="1.45"/><circle cx="352.9" cy="166.1" r="1.45"/><circle cx="333.0" cy="108.4" r="1.45"/><circle cx="333.7" cy="141.9" r="1.45"/><circle cx="308.7" cy="143.1" r="1.45"/><circle cx="351.5" cy="140.6" r="1.45"/><circle cx="319.9" cy="157.2" r="1.45"/><circle cx="318.4" cy="131.9" r="1.45"/><circle cx="307.4" cy="122.8" r="1.45"/><circle cx="316.1" cy="132.3" r="1.45"/><circle cx="309.4" cy="131.8" r="1.45"/><circle cx="319.5" cy="154.9" r="1.45"/><circle cx="328.9" cy="142.5" r="1.45"/><circle cx="316.0" cy="106.8" r="1.45"/><circle cx="344.3" cy="153.1" r="1.45"/><circle cx="325.7" cy="147.7" r="1.45"/><circle cx="357.3" cy="158.5" r="1.45"/><circle cx="328.8" cy="111.9" r="1.45"/><circle cx="307.1" cy="131.5" r="1.45"/><circle cx="327.5" cy="153.5" r="1.45"/><circle cx="332.5" cy="159.7" r="1.45"/><circle cx="304.2" cy="159.1" r="1.45"/><circle cx="305.9" cy="146.0" r="1.45"/><circle cx="336.2" cy="181.2" r="1.45"/><circle cx="328.5" cy="143.8" r="1.45"/><circle cx="312.7" cy="114.6" r="1.45"/><circle cx="297.5" cy="109.7" r="1.45"/><circle cx="308.5" cy="136.6" r="1.45"/><circle cx="336.6" cy="145.1" r="1.45"/><circle cx="338.2" cy="163.2" r="1.45"/><circle cx="335.1" cy="135.2" r="1.45"/><circle cx="336.3" cy="190.7" r="1.45"/><circle cx="352.9" cy="174.1" r="1.45"/><circle cx="345.9" cy="174.7" r="1.45"/><circle cx="335.7" cy="159.5" r="1.45"/><circle cx="315.3" cy="148.1" r="1.45"/><circle cx="342.2" cy="121.3" r="1.45"/><circle cx="363.9" cy="167.2" r="1.45"/><circle cx="351.9" cy="136.4" r="1.45"/><circle cx="338.7" cy="150.1" r="1.45"/><circle cx="335.0" cy="122.3" r="1.45"/><circle cx="326.9" cy="148.5" r="1.45"/><circle cx="332.7" cy="152.1" r="1.45"/><circle cx="312.1" cy="175.8" r="1.45"/><circle cx="321.6" cy="163.4" r="1.45"/><circle cx="335.9" cy="145.5" r="1.45"/><circle cx="329.2" cy="144.9" r="1.45"/><circle cx="311.4" cy="121.8" r="1.45"/><circle cx="333.4" cy="165.5" r="1.45"/><circle cx="310.7" cy="135.5" r="1.45"/><circle cx="390.3" cy="183.6" r="1.45"/><circle cx="360.1" cy="162.8" r="1.45"/><circle cx="332.0" cy="153.3" r="1.45"/><circle cx="328.9" cy="161.4" r="1.45"/><circle cx="309.4" cy="132.7" r="1.45"/><circle cx="317.5" cy="146.7" r="1.45"/><circle cx="326.7" cy="157.3" r="1.45"/><circle cx="326.7" cy="141.3" r="1.45"/><circle cx="338.5" cy="187.1" r="1.45"/><circle cx="343.1" cy="161.2" r="1.45"/><circle cx="354.6" cy="188.6" r="1.45"/><circle cx="349.8" cy="169.8" r="1.45"/><circle cx="330.1" cy="169.1" r="1.45"/><circle cx="316.9" cy="135.7" r="1.45"/><circle cx="317.8" cy="125.5" r="1.45"/><circle cx="322.2" cy="145.7" r="1.45"/><circle cx="328.8" cy="159.1" r="1.45"/><circle cx="316.8" cy="148.5" r="1.45"/><circle cx="317.8" cy="162.2" r="1.45"/><circle cx="333.2" cy="153.6" r="1.45"/><circle cx="329.7" cy="112.2" r="1.45"/><circle cx="319.7" cy="140.5" r="1.45"/><circle cx="319.4" cy="163.4" r="1.45"/><circle cx="307.9" cy="136.3" r="1.45"/><circle cx="318.0" cy="132.2" r="1.45"/><circle cx="332.1" cy="149.8" r="1.45"/><circle cx="331.0" cy="142.2" r="1.45"/><circle cx="320.6" cy="145.6" r="1.45"/><circle cx="337.3" cy="144.7" r="1.45"/><circle cx="319.0" cy="162.0" r="1.45"/><circle cx="339.9" cy="150.3" r="1.45"/><circle cx="333.1" cy="163.7" r="1.45"/><circle cx="316.3" cy="136.4" r="1.45"/><circle cx="315.7" cy="151.1" r="1.45"/><circle cx="342.3" cy="163.5" r="1.45"/><circle cx="322.9" cy="158.7" r="1.45"/><circle cx="312.1" cy="143.6" r="1.45"/><circle cx="311.7" cy="132.7" r="1.45"/><circle cx="291.1" cy="109.1" r="1.45"/><circle cx="353.3" cy="166.9" r="1.45"/><circle cx="358.0" cy="154.1" r="1.45"/><circle cx="317.3" cy="160.4" r="1.45"/><circle cx="322.3" cy="153.2" r="1.45"/><circle cx="337.3" cy="192.3" r="1.45"/><circle cx="324.7" cy="147.0" r="1.45"/><circle cx="316.6" cy="144.9" r="1.45"/><circle cx="341.2" cy="143.2" r="1.45"/><circle cx="282.7" cy="134.0" r="1.45"/><circle cx="343.5" cy="162.0" r="1.45"/><circle cx="327.7" cy="160.7" r="1.45"/><circle cx="329.9" cy="174.2" r="1.45"/><circle cx="314.9" cy="152.4" r="1.45"/><circle cx="350.8" cy="154.3" r="1.45"/><circle cx="312.9" cy="124.0" r="1.45"/><circle cx="329.9" cy="187.4" r="1.45"/><circle cx="343.0" cy="154.8" r="1.45"/><circle cx="312.8" cy="125.7" r="1.45"/><circle cx="325.5" cy="158.3" r="1.45"/><circle cx="310.1" cy="141.7" r="1.45"/><circle cx="296.9" cy="141.2" r="1.45"/><circle cx="334.4" cy="164.1" r="1.45"/><circle cx="322.7" cy="153.0" r="1.45"/><circle cx="329.5" cy="170.6" r="1.45"/><circle cx="320.1" cy="137.0" r="1.45"/><circle cx="323.1" cy="147.2" r="1.45"/><circle cx="359.7" cy="154.3" r="1.45"/><circle cx="349.2" cy="174.6" r="1.45"/><circle cx="304.1" cy="138.7" r="1.45"/><circle cx="357.5" cy="172.4" r="1.45"/><circle cx="347.9" cy="176.8" r="1.45"/><circle cx="302.9" cy="120.6" r="1.45"/><circle cx="303.8" cy="116.6" r="1.45"/><circle cx="333.6" cy="143.9" r="1.45"/><circle cx="349.9" cy="166.7" r="1.45"/><circle cx="321.9" cy="147.3" r="1.45"/><circle cx="322.2" cy="152.9" r="1.45"/><circle cx="334.3" cy="131.0" r="1.45"/><circle cx="350.9" cy="179.6" r="1.45"/><circle cx="326.9" cy="132.3" r="1.45"/><circle cx="314.2" cy="112.0" r="1.45"/><circle cx="319.2" cy="130.3" r="1.45"/><circle cx="360.2" cy="151.5" r="1.45"/><circle cx="316.1" cy="133.8" r="1.45"/><circle cx="391.5" cy="175.9" r="1.45"/><circle cx="321.6" cy="142.3" r="1.45"/><circle cx="318.5" cy="120.3" r="1.45"/><circle cx="353.7" cy="149.9" r="1.45"/><circle cx="348.6" cy="154.7" r="1.45"/><circle cx="328.4" cy="161.0" r="1.45"/><circle cx="340.4" cy="146.2" r="1.45"/><circle cx="321.8" cy="131.8" r="1.45"/><circle cx="335.2" cy="147.3" r="1.45"/><circle cx="339.7" cy="166.2" r="1.45"/><circle cx="304.3" cy="124.7" r="1.45"/><circle cx="316.5" cy="160.3" r="1.45"/><circle cx="342.7" cy="160.7" r="1.45"/><circle cx="340.1" cy="166.7" r="1.45"/><circle cx="297.8" cy="137.7" r="1.45"/><circle cx="330.4" cy="132.1" r="1.45"/><circle cx="334.2" cy="168.9" r="1.45"/><circle cx="333.4" cy="135.5" r="1.45"/><circle cx="335.3" cy="168.4" r="1.45"/><circle cx="310.4" cy="165.0" r="1.45"/><circle cx="308.5" cy="157.7" r="1.45"/><circle cx="370.2" cy="145.4" r="1.45"/><circle cx="331.6" cy="160.8" r="1.45"/><circle cx="351.9" cy="197.7" r="1.45"/><circle cx="336.6" cy="146.4" r="1.45"/><circle cx="334.7" cy="132.8" r="1.45"/><circle cx="301.7" cy="132.3" r="1.45"/><circle cx="315.3" cy="135.0" r="1.45"/><circle cx="350.3" cy="151.5" r="1.45"/><circle cx="318.2" cy="161.2" r="1.45"/><circle cx="307.7" cy="139.4" r="1.45"/><circle cx="347.3" cy="141.7" r="1.45"/><circle cx="325.8" cy="120.5" r="1.45"/><circle cx="313.8" cy="125.4" r="1.45"/><circle cx="322.9" cy="154.9" r="1.45"/><circle cx="370.7" cy="150.9" r="1.45"/><circle cx="336.5" cy="139.8" r="1.45"/><circle cx="336.7" cy="136.4" r="1.45"/><circle cx="341.4" cy="152.0" r="1.45"/><circle cx="341.7" cy="136.7" r="1.45"/><circle cx="323.2" cy="141.6" r="1.45"/><circle cx="363.2" cy="169.7" r="1.45"/><circle cx="319.9" cy="148.7" r="1.45"/><circle cx="319.7" cy="134.0" r="1.45"/><circle cx="324.4" cy="124.2" r="1.45"/><circle cx="316.0" cy="134.8" r="1.45"/><circle cx="332.9" cy="114.6" r="1.45"/><circle cx="313.4" cy="149.5" r="1.45"/><circle cx="333.4" cy="128.2" r="1.45"/><circle cx="322.2" cy="139.2" r="1.45"/><circle cx="318.6" cy="130.1" r="1.45"/><circle cx="335.9" cy="132.8" r="1.45"/><circle cx="339.0" cy="137.8" r="1.45"/><circle cx="309.9" cy="144.1" r="1.45"/><circle cx="326.6" cy="136.2" r="1.45"/><circle cx="335.2" cy="149.6" r="1.45"/><circle cx="304.4" cy="128.6" r="1.45"/><circle cx="333.9" cy="165.5" r="1.45"/><circle cx="340.4" cy="151.7" r="1.45"/><circle cx="317.2" cy="112.1" r="1.45"/><circle cx="327.3" cy="141.8" r="1.45"/><circle cx="354.3" cy="176.6" r="1.45"/><circle cx="325.5" cy="137.2" r="1.45"/><circle cx="318.7" cy="138.6" r="1.45"/><circle cx="318.3" cy="154.2" r="1.45"/><circle cx="314.8" cy="149.9" r="1.45"/><circle cx="326.6" cy="154.7" r="1.45"/><circle cx="346.8" cy="145.5" r="1.45"/><circle cx="308.9" cy="129.1" r="1.45"/><circle cx="335.1" cy="185.1" r="1.45"/><circle cx="356.6" cy="166.1" r="1.45"/><circle cx="326.4" cy="156.2" r="1.45"/><circle cx="320.9" cy="132.5" r="1.45"/><circle cx="351.9" cy="176.0" r="1.45"/><circle cx="346.8" cy="151.3" r="1.45"/><circle cx="371.1" cy="169.4" r="1.45"/><circle cx="317.2" cy="149.8" r="1.45"/><circle cx="333.2" cy="128.7" r="1.45"/><circle cx="369.3" cy="159.6" r="1.45"/><circle cx="335.7" cy="146.5" r="1.45"/><circle cx="321.6" cy="148.6" r="1.45"/><circle cx="350.7" cy="149.8" r="1.45"/><circle cx="315.4" cy="137.2" r="1.45"/><circle cx="295.1" cy="125.5" r="1.45"/><circle cx="321.2" cy="135.5" r="1.45"/><circle cx="329.5" cy="130.2" r="1.45"/><circle cx="306.2" cy="115.6" r="1.45"/><circle cx="326.2" cy="145.2" r="1.45"/><circle cx="386.0" cy="154.5" r="1.45"/><circle cx="324.7" cy="121.6" r="1.45"/><circle cx="341.9" cy="173.3" r="1.45"/><circle cx="314.8" cy="130.0" r="1.45"/><circle cx="341.4" cy="158.0" r="1.45"/><circle cx="344.7" cy="171.4" r="1.45"/><circle cx="291.5" cy="137.2" r="1.45"/><circle cx="316.5" cy="153.8" r="1.45"/><circle cx="322.4" cy="140.7" r="1.45"/><circle cx="334.0" cy="168.2" r="1.45"/><circle cx="322.3" cy="128.0" r="1.45"/><circle cx="316.0" cy="154.9" r="1.45"/><circle cx="335.3" cy="152.1" r="1.45"/><circle cx="326.2" cy="134.2" r="1.45"/><circle cx="318.1" cy="141.1" r="1.45"/><circle cx="334.4" cy="148.0" r="1.45"/><circle cx="322.9" cy="160.2" r="1.45"/><circle cx="321.3" cy="170.4" r="1.45"/><circle cx="315.0" cy="153.8" r="1.45"/><circle cx="349.2" cy="187.6" r="1.45"/><circle cx="360.9" cy="170.0" r="1.45"/><circle cx="314.3" cy="145.0" r="1.45"/><circle cx="341.1" cy="158.4" r="1.45"/><circle cx="309.7" cy="143.0" r="1.45"/><circle cx="342.8" cy="193.4" r="1.45"/><circle cx="323.5" cy="128.2" r="1.45"/><circle cx="320.9" cy="162.3" r="1.45"/><circle cx="400.9" cy="144.6" r="1.45"/><circle cx="333.2" cy="151.9" r="1.45"/><circle cx="331.4" cy="140.7" r="1.45"/><circle cx="323.7" cy="169.4" r="1.45"/><circle cx="344.7" cy="150.8" r="1.45"/><circle cx="328.8" cy="145.7" r="1.45"/><circle cx="331.4" cy="155.3" r="1.45"/><circle cx="310.0" cy="124.5" r="1.45"/><circle cx="341.9" cy="156.8" r="1.45"/><circle cx="316.4" cy="132.2" r="1.45"/><circle cx="310.3" cy="144.8" r="1.45"/><circle cx="361.6" cy="161.9" r="1.45"/><circle cx="360.4" cy="163.8" r="1.45"/><circle cx="315.3" cy="139.8" r="1.45"/><circle cx="308.8" cy="110.4" r="1.45"/><circle cx="352.1" cy="151.5" r="1.45"/><circle cx="325.4" cy="153.7" r="1.45"/><circle cx="369.3" cy="182.5" r="1.45"/><circle cx="295.7" cy="141.2" r="1.45"/><circle cx="331.7" cy="158.2" r="1.45"/><circle cx="328.4" cy="124.8" r="1.45"/><circle cx="309.9" cy="121.9" r="1.45"/><circle cx="318.4" cy="131.2" r="1.45"/><circle cx="344.7" cy="165.0" r="1.45"/><circle cx="306.5" cy="140.5" r="1.45"/><circle cx="321.2" cy="145.7" r="1.45"/><circle cx="318.3" cy="138.6" r="1.45"/><circle cx="315.0" cy="151.8" r="1.45"/><circle cx="312.7" cy="159.8" r="1.45"/><circle cx="320.8" cy="168.1" r="1.45"/><circle cx="311.1" cy="132.7" r="1.45"/><circle cx="316.2" cy="137.7" r="1.45"/><circle cx="327.9" cy="133.7" r="1.45"/><circle cx="323.3" cy="170.5" r="1.45"/><circle cx="317.7" cy="130.3" r="1.45"/><circle cx="335.0" cy="139.1" r="1.45"/><circle cx="336.9" cy="153.1" r="1.45"/><circle cx="329.0" cy="140.0" r="1.45"/><circle cx="329.2" cy="150.8" r="1.45"/><circle cx="323.2" cy="158.4" r="1.45"/><circle cx="317.0" cy="131.0" r="1.45"/><circle cx="319.1" cy="129.1" r="1.45"/><circle cx="333.4" cy="150.5" r="1.45"/><circle cx="338.3" cy="160.6" r="1.45"/><circle cx="323.0" cy="141.6" r="1.45"/><circle cx="315.0" cy="148.1" r="1.45"/><circle cx="341.1" cy="160.2" r="1.45"/><circle cx="374.6" cy="170.7" r="1.45"/><circle cx="327.0" cy="154.2" r="1.45"/><circle cx="339.8" cy="128.0" r="1.45"/><circle cx="348.0" cy="136.7" r="1.45"/><circle cx="294.0" cy="112.4" r="1.45"/><circle cx="320.4" cy="158.0" r="1.45"/><circle cx="322.3" cy="151.1" r="1.45"/><circle cx="346.5" cy="163.8" r="1.45"/><circle cx="315.2" cy="154.5" r="1.45"/><circle cx="320.4" cy="142.9" r="1.45"/><circle cx="325.2" cy="136.7" r="1.45"/><circle cx="347.4" cy="153.0" r="1.45"/><circle cx="327.9" cy="158.9" r="1.45"/><circle cx="367.0" cy="162.4" r="1.45"/><circle cx="324.6" cy="124.9" r="1.45"/><circle cx="326.1" cy="150.6" r="1.45"/><circle cx="308.3" cy="117.4" r="1.45"/><circle cx="339.3" cy="161.5" r="1.45"/><circle cx="316.5" cy="128.2" r="1.45"/><circle cx="336.8" cy="153.5" r="1.45"/><circle cx="357.3" cy="126.5" r="1.45"/><circle cx="321.0" cy="145.4" r="1.45"/><circle cx="333.2" cy="139.5" r="1.45"/><circle cx="343.8" cy="147.8" r="1.45"/><circle cx="352.2" cy="182.6" r="1.45"/><circle cx="350.8" cy="139.3" r="1.45"/><circle cx="349.4" cy="168.2" r="1.45"/><circle cx="310.2" cy="134.9" r="1.45"/><circle cx="323.1" cy="168.0" r="1.45"/><circle cx="314.3" cy="139.1" r="1.45"/><circle cx="318.3" cy="132.7" r="1.45"/><circle cx="336.3" cy="160.9" r="1.45"/><circle cx="329.7" cy="142.2" r="1.45"/><circle cx="367.6" cy="182.5" r="1.45"/><circle cx="322.8" cy="131.8" r="1.45"/><circle cx="336.8" cy="149.8" r="1.45"/><circle cx="312.7" cy="137.5" r="1.45"/><circle cx="327.4" cy="144.0" r="1.45"/><circle cx="350.7" cy="143.0" r="1.45"/><circle cx="327.4" cy="136.8" r="1.45"/><circle cx="305.3" cy="143.0" r="1.45"/><circle cx="338.4" cy="161.5" r="1.45"/><circle cx="315.9" cy="142.7" r="1.45"/><circle cx="310.2" cy="126.2" r="1.45"/><circle cx="319.8" cy="136.7" r="1.45"/><circle cx="348.1" cy="136.9" r="1.45"/><circle cx="347.4" cy="152.3" r="1.45"/><circle cx="321.1" cy="151.1" r="1.45"/><circle cx="316.6" cy="132.9" r="1.45"/><circle cx="295.3" cy="132.5" r="1.45"/><circle cx="320.6" cy="126.5" r="1.45"/><circle cx="327.7" cy="152.2" r="1.45"/><circle cx="338.9" cy="161.7" r="1.45"/><circle cx="313.8" cy="144.2" r="1.45"/><circle cx="328.1" cy="151.2" r="1.45"/><circle cx="318.0" cy="143.3" r="1.45"/><circle cx="319.1" cy="129.4" r="1.45"/><circle cx="335.7" cy="140.8" r="1.45"/><circle cx="328.4" cy="149.6" r="1.45"/><circle cx="347.4" cy="158.0" r="1.45"/><circle cx="324.4" cy="138.5" r="1.45"/><circle cx="329.3" cy="164.8" r="1.45"/><circle cx="312.0" cy="146.1" r="1.45"/><circle cx="296.6" cy="127.9" r="1.45"/><circle cx="318.1" cy="155.0" r="1.45"/><circle cx="327.0" cy="164.5" r="1.45"/><circle cx="322.0" cy="142.8" r="1.45"/><circle cx="322.6" cy="163.4" r="1.45"/><circle cx="323.6" cy="128.0" r="1.45"/><circle cx="320.3" cy="136.7" r="1.45"/><circle cx="336.7" cy="128.8" r="1.45"/><circle cx="316.7" cy="147.6" r="1.45"/><circle cx="322.1" cy="134.2" r="1.45"/><circle cx="303.1" cy="125.0" r="1.45"/><circle cx="327.0" cy="123.0" r="1.45"/><circle cx="322.8" cy="109.5" r="1.45"/><circle cx="321.9" cy="127.3" r="1.45"/><circle cx="331.7" cy="118.3" r="1.45"/><circle cx="331.9" cy="133.2" r="1.45"/><circle cx="323.0" cy="150.1" r="1.45"/><circle cx="345.4" cy="162.5" r="1.45"/><circle cx="323.8" cy="179.4" r="1.45"/><circle cx="302.9" cy="119.7" r="1.45"/><circle cx="344.7" cy="145.6" r="1.45"/><circle cx="324.7" cy="158.6" r="1.45"/><circle cx="337.0" cy="147.6" r="1.45"/><circle cx="317.7" cy="119.7" r="1.45"/><circle cx="329.8" cy="150.5" r="1.45"/><circle cx="313.8" cy="116.5" r="1.45"/><circle cx="346.9" cy="138.4" r="1.45"/><circle cx="328.2" cy="151.1" r="1.45"/><circle cx="336.6" cy="175.3" r="1.45"/><circle cx="310.2" cy="125.8" r="1.45"/><circle cx="326.6" cy="124.7" r="1.45"/><circle cx="368.1" cy="148.4" r="1.45"/><circle cx="350.7" cy="156.5" r="1.45"/><circle cx="333.7" cy="174.0" r="1.45"/><circle cx="288.2" cy="149.0" r="1.45"/><circle cx="324.1" cy="120.8" r="1.45"/><circle cx="286.4" cy="105.6" r="1.45"/><circle cx="315.1" cy="157.6" r="1.45"/><circle cx="364.7" cy="162.6" r="1.45"/><circle cx="340.5" cy="162.3" r="1.45"/><circle cx="316.3" cy="164.2" r="1.45"/><circle cx="324.4" cy="138.6" r="1.45"/><circle cx="326.6" cy="145.4" r="1.45"/><circle cx="305.2" cy="134.1" r="1.45"/><circle cx="320.0" cy="133.1" r="1.45"/><circle cx="312.4" cy="149.4" r="1.45"/><circle cx="351.2" cy="163.7" r="1.45"/><circle cx="324.3" cy="149.2" r="1.45"/><circle cx="308.1" cy="124.9" r="1.45"/><circle cx="291.2" cy="131.0" r="1.45"/><circle cx="292.9" cy="127.5" r="1.45"/><circle cx="351.1" cy="162.2" r="1.45"/><circle cx="372.3" cy="164.0" r="1.45"/><circle cx="348.2" cy="145.4" r="1.45"/><circle cx="334.8" cy="148.4" r="1.45"/><circle cx="333.3" cy="197.8" r="1.45"/><circle cx="344.6" cy="153.5" r="1.45"/><circle cx="340.4" cy="157.0" r="1.45"/><circle cx="328.7" cy="134.4" r="1.45"/><circle cx="332.5" cy="130.0" r="1.45"/><circle cx="314.0" cy="141.3" r="1.45"/><circle cx="341.4" cy="139.3" r="1.45"/><circle cx="321.7" cy="132.0" r="1.45"/><circle cx="348.5" cy="151.4" r="1.45"/><circle cx="315.9" cy="148.4" r="1.45"/><circle cx="331.8" cy="135.0" r="1.45"/><circle cx="317.2" cy="173.0" r="1.45"/><circle cx="344.8" cy="165.4" r="1.45"/><circle cx="351.2" cy="143.2" r="1.45"/><circle cx="362.6" cy="189.5" r="1.45"/><circle cx="313.8" cy="127.9" r="1.45"/><circle cx="319.2" cy="151.9" r="1.45"/><circle cx="323.5" cy="147.2" r="1.45"/><circle cx="324.3" cy="142.0" r="1.45"/><circle cx="313.3" cy="134.4" r="1.45"/><circle cx="377.7" cy="155.6" r="1.45"/><circle cx="354.0" cy="175.4" r="1.45"/><circle cx="346.2" cy="152.4" r="1.45"/><circle cx="331.4" cy="112.7" r="1.45"/><circle cx="330.7" cy="150.5" r="1.45"/><circle cx="354.0" cy="152.1" r="1.45"/><circle cx="332.3" cy="166.8" r="1.45"/><circle cx="345.5" cy="145.0" r="1.45"/><circle cx="321.8" cy="141.3" r="1.45"/><circle cx="326.5" cy="153.9" r="1.45"/><circle cx="321.4" cy="160.8" r="1.45"/><circle cx="328.4" cy="154.6" r="1.45"/><circle cx="308.5" cy="132.5" r="1.45"/><circle cx="317.1" cy="122.7" r="1.45"/><circle cx="326.7" cy="145.5" r="1.45"/><circle cx="352.0" cy="194.3" r="1.45"/><circle cx="323.0" cy="164.3" r="1.45"/><circle cx="340.2" cy="149.8" r="1.45"/><circle cx="328.7" cy="143.8" r="1.45"/><circle cx="341.6" cy="160.5" r="1.45"/><circle cx="364.9" cy="158.7" r="1.45"/><circle cx="327.6" cy="143.0" r="1.45"/><circle cx="322.2" cy="142.5" r="1.45"/><circle cx="349.8" cy="143.5" r="1.45"/><circle cx="318.3" cy="148.1" r="1.45"/><circle cx="305.7" cy="109.4" r="1.45"/><circle cx="327.8" cy="151.6" r="1.45"/><circle cx="321.9" cy="141.0" r="1.45"/><circle cx="319.8" cy="112.6" r="1.45"/><circle cx="327.3" cy="132.5" r="1.45"/><circle cx="347.4" cy="167.7" r="1.45"/><circle cx="278.5" cy="129.1" r="1.45"/><circle cx="320.2" cy="135.2" r="1.45"/><circle cx="340.2" cy="114.9" r="1.45"/><circle cx="329.7" cy="166.1" r="1.45"/><circle cx="310.3" cy="121.6" r="1.45"/><circle cx="340.9" cy="140.2" r="1.45"/><circle cx="327.7" cy="153.2" r="1.45"/><circle cx="331.4" cy="151.0" r="1.45"/><circle cx="304.6" cy="116.0" r="1.45"/><circle cx="387.3" cy="183.9" r="1.45"/><circle cx="300.1" cy="152.4" r="1.45"/><circle cx="333.8" cy="137.5" r="1.45"/><circle cx="329.7" cy="168.2" r="1.45"/><circle cx="331.8" cy="145.1" r="1.45"/><circle cx="310.1" cy="139.4" r="1.45"/><circle cx="348.5" cy="170.2" r="1.45"/><circle cx="319.1" cy="135.3" r="1.45"/><circle cx="317.2" cy="146.1" r="1.45"/><circle cx="374.6" cy="174.3" r="1.45"/><circle cx="338.4" cy="163.2" r="1.45"/><circle cx="361.5" cy="157.4" r="1.45"/><circle cx="334.5" cy="136.3" r="1.45"/><circle cx="356.9" cy="147.5" r="1.45"/><circle cx="379.9" cy="179.5" r="1.45"/><circle cx="334.0" cy="172.2" r="1.45"/><circle cx="348.2" cy="150.4" r="1.45"/><circle cx="325.0" cy="152.2" r="1.45"/><circle cx="343.4" cy="148.9" r="1.45"/><circle cx="321.5" cy="137.8" r="1.45"/><circle cx="336.5" cy="179.5" r="1.45"/><circle cx="314.4" cy="144.2" r="1.45"/><circle cx="325.4" cy="153.7" r="1.45"/><circle cx="341.1" cy="144.7" r="1.45"/><circle cx="332.6" cy="137.8" r="1.45"/><circle cx="328.3" cy="166.9" r="1.45"/><circle cx="340.3" cy="149.6" r="1.45"/><circle cx="331.9" cy="165.3" r="1.45"/><circle cx="306.7" cy="150.2" r="1.45"/><circle cx="310.8" cy="132.7" r="1.45"/><circle cx="328.8" cy="162.5" r="1.45"/><circle cx="368.4" cy="143.2" r="1.45"/><circle cx="314.2" cy="140.8" r="1.45"/><circle cx="327.0" cy="157.6" r="1.45"/><circle cx="306.0" cy="122.4" r="1.45"/><circle cx="324.9" cy="157.3" r="1.45"/><circle cx="361.7" cy="148.1" r="1.45"/><circle cx="314.5" cy="134.1" r="1.45"/><circle cx="326.6" cy="157.7" r="1.45"/><circle cx="314.1" cy="149.4" r="1.45"/><circle cx="355.7" cy="154.4" r="1.45"/><circle cx="319.8" cy="129.0" r="1.45"/><circle cx="365.6" cy="159.8" r="1.45"/><circle cx="358.2" cy="159.4" r="1.45"/><circle cx="316.1" cy="149.1" r="1.45"/><circle cx="321.5" cy="161.9" r="1.45"/><circle cx="304.9" cy="131.1" r="1.45"/><circle cx="338.4" cy="172.7" r="1.45"/><circle cx="303.2" cy="142.3" r="1.45"/><circle cx="304.5" cy="133.1" r="1.45"/><circle cx="320.8" cy="148.9" r="1.45"/><circle cx="335.6" cy="165.8" r="1.45"/><circle cx="350.3" cy="137.6" r="1.45"/><circle cx="324.5" cy="173.2" r="1.45"/><circle cx="368.8" cy="155.6" r="1.45"/><circle cx="338.9" cy="144.4" r="1.45"/><circle cx="331.8" cy="143.9" r="1.45"/><circle cx="340.0" cy="134.8" r="1.45"/><circle cx="322.4" cy="160.1" r="1.45"/><circle cx="347.9" cy="151.7" r="1.45"/><circle cx="348.7" cy="140.3" r="1.45"/><circle cx="314.3" cy="123.1" r="1.45"/><circle cx="315.9" cy="144.7" r="1.45"/><circle cx="351.7" cy="171.5" r="1.45"/><circle cx="349.9" cy="129.6" r="1.45"/><circle cx="352.3" cy="202.0" r="1.45"/><circle cx="296.6" cy="151.7" r="1.45"/><circle cx="316.6" cy="160.9" r="1.45"/><circle cx="333.9" cy="166.0" r="1.45"/><circle cx="318.8" cy="169.4" r="1.45"/><circle cx="352.8" cy="153.8" r="1.45"/><circle cx="291.7" cy="132.6" r="1.45"/><circle cx="326.4" cy="126.7" r="1.45"/><circle cx="333.3" cy="128.7" r="1.45"/><circle cx="312.2" cy="115.7" r="1.45"/><circle cx="338.9" cy="156.4" r="1.45"/><circle cx="372.7" cy="146.4" r="1.45"/><circle cx="309.3" cy="144.5" r="1.45"/><circle cx="330.7" cy="138.6" r="1.45"/><circle cx="325.6" cy="132.7" r="1.45"/><circle cx="313.8" cy="152.4" r="1.45"/><circle cx="316.2" cy="142.5" r="1.45"/><circle cx="322.3" cy="155.1" r="1.45"/><circle cx="333.7" cy="154.2" r="1.45"/><circle cx="318.1" cy="150.2" r="1.45"/><circle cx="328.2" cy="145.2" r="1.45"/><circle cx="311.3" cy="128.2" r="1.45"/><circle cx="308.3" cy="154.3" r="1.45"/><circle cx="328.0" cy="141.3" r="1.45"/><circle cx="341.3" cy="152.9" r="1.45"/><circle cx="349.1" cy="170.0" r="1.45"/><circle cx="315.7" cy="137.8" r="1.45"/><circle cx="340.8" cy="162.2" r="1.45"/><circle cx="333.2" cy="167.5" r="1.45"/><circle cx="319.9" cy="119.7" r="1.45"/><circle cx="355.9" cy="146.5" r="1.45"/><circle cx="331.3" cy="136.1" r="1.45"/><circle cx="327.6" cy="144.4" r="1.45"/><circle cx="333.5" cy="149.1" r="1.45"/><circle cx="294.1" cy="145.9" r="1.45"/><circle cx="338.8" cy="143.8" r="1.45"/><circle cx="329.8" cy="164.2" r="1.45"/><circle cx="325.3" cy="157.4" r="1.45"/><circle cx="318.0" cy="145.3" r="1.45"/><circle cx="330.6" cy="145.1" r="1.45"/><circle cx="343.9" cy="159.0" r="1.45"/><circle cx="305.0" cy="139.4" r="1.45"/><circle cx="320.8" cy="147.2" r="1.45"/><circle cx="354.2" cy="167.2" r="1.45"/><circle cx="312.7" cy="146.7" r="1.45"/><circle cx="343.5" cy="140.7" r="1.45"/><circle cx="327.2" cy="133.9" r="1.45"/><circle cx="330.2" cy="144.8" r="1.45"/><circle cx="314.9" cy="133.8" r="1.45"/><circle cx="347.6" cy="143.1" r="1.45"/><circle cx="308.3" cy="147.1" r="1.45"/><circle cx="332.2" cy="152.6" r="1.45"/><circle cx="339.8" cy="158.8" r="1.45"/><circle cx="332.4" cy="140.9" r="1.45"/><circle cx="331.5" cy="126.3" r="1.45"/><circle cx="347.8" cy="152.6" r="1.45"/><circle cx="316.8" cy="152.6" r="1.45"/><circle cx="311.2" cy="145.5" r="1.45"/><circle cx="333.8" cy="178.4" r="1.45"/><circle cx="345.0" cy="127.4" r="1.45"/><circle cx="337.9" cy="166.5" r="1.45"/><circle cx="317.9" cy="147.8" r="1.45"/><circle cx="348.9" cy="146.0" r="1.45"/><circle cx="317.8" cy="153.5" r="1.45"/><circle cx="327.9" cy="153.9" r="1.45"/><circle cx="340.8" cy="146.6" r="1.45"/><circle cx="342.6" cy="173.9" r="1.45"/><circle cx="324.5" cy="152.1" r="1.45"/><circle cx="328.1" cy="143.7" r="1.45"/><circle cx="316.5" cy="130.5" r="1.45"/><circle cx="348.5" cy="171.2" r="1.45"/><circle cx="353.0" cy="143.2" r="1.45"/><circle cx="345.1" cy="144.3" r="1.45"/><circle cx="324.3" cy="162.8" r="1.45"/><circle cx="326.4" cy="136.3" r="1.45"/><circle cx="325.3" cy="161.8" r="1.45"/><circle cx="329.0" cy="168.8" r="1.45"/><circle cx="309.2" cy="134.9" r="1.45"/><circle cx="311.5" cy="114.6" r="1.45"/><circle cx="315.4" cy="154.2" r="1.45"/><circle cx="330.0" cy="126.3" r="1.45"/><circle cx="323.3" cy="162.6" r="1.45"/><circle cx="337.4" cy="157.6" r="1.45"/><circle cx="307.2" cy="157.9" r="1.45"/><circle cx="347.8" cy="153.5" r="1.45"/><circle cx="319.3" cy="165.5" r="1.45"/><circle cx="304.1" cy="136.4" r="1.45"/><circle cx="340.9" cy="163.8" r="1.45"/><circle cx="365.1" cy="158.8" r="1.45"/><circle cx="329.4" cy="165.5" r="1.45"/><circle cx="321.7" cy="132.6" r="1.45"/><circle cx="321.0" cy="137.5" r="1.45"/><circle cx="310.6" cy="116.7" r="1.45"/><circle cx="295.2" cy="111.6" r="1.45"/><circle cx="300.2" cy="108.0" r="1.45"/><circle cx="364.0" cy="174.3" r="1.45"/><circle cx="348.4" cy="160.7" r="1.45"/><circle cx="354.9" cy="152.4" r="1.45"/><circle cx="332.5" cy="146.5" r="1.45"/><circle cx="326.1" cy="169.3" r="1.45"/><circle cx="308.6" cy="121.3" r="1.45"/><circle cx="318.0" cy="138.8" r="1.45"/><circle cx="330.3" cy="168.1" r="1.45"/><circle cx="324.1" cy="148.6" r="1.45"/><circle cx="333.9" cy="157.6" r="1.45"/><circle cx="318.8" cy="169.4" r="1.45"/><circle cx="345.8" cy="147.0" r="1.45"/><circle cx="352.7" cy="159.7" r="1.45"/><circle cx="287.7" cy="146.5" r="1.45"/><circle cx="306.7" cy="150.7" r="1.45"/><circle cx="312.4" cy="125.3" r="1.45"/><circle cx="317.7" cy="158.0" r="1.45"/><circle cx="334.6" cy="119.5" r="1.45"/><circle cx="329.0" cy="153.9" r="1.45"/><circle cx="322.6" cy="156.1" r="1.45"/><circle cx="342.9" cy="135.7" r="1.45"/><circle cx="313.7" cy="141.8" r="1.45"/><circle cx="373.6" cy="187.6" r="1.45"/><circle cx="307.7" cy="155.3" r="1.45"/><circle cx="314.7" cy="130.4" r="1.45"/><circle cx="326.0" cy="131.7" r="1.45"/><circle cx="326.2" cy="147.8" r="1.45"/><circle cx="326.4" cy="130.4" r="1.45"/><circle cx="306.6" cy="133.2" r="1.45"/><circle cx="321.4" cy="152.5" r="1.45"/><circle cx="372.9" cy="182.6" r="1.45"/><circle cx="342.0" cy="148.3" r="1.45"/><circle cx="340.7" cy="153.6" r="1.45"/><circle cx="316.1" cy="165.7" r="1.45"/><circle cx="297.9" cy="122.4" r="1.45"/><circle cx="330.7" cy="145.5" r="1.45"/><circle cx="322.8" cy="143.3" r="1.45"/><circle cx="324.9" cy="136.2" r="1.45"/><circle cx="311.3" cy="143.7" r="1.45"/><circle cx="322.0" cy="147.2" r="1.45"/><circle cx="333.5" cy="160.5" r="1.45"/><circle cx="334.6" cy="166.9" r="1.45"/><circle cx="318.0" cy="115.3" r="1.45"/><circle cx="319.9" cy="142.6" r="1.45"/><circle cx="383.0" cy="155.8" r="1.45"/><circle cx="358.2" cy="162.1" r="1.45"/><circle cx="315.3" cy="146.3" r="1.45"/><circle cx="323.0" cy="157.8" r="1.45"/><circle cx="348.3" cy="160.6" r="1.45"/><circle cx="326.6" cy="142.6" r="1.45"/><circle cx="339.5" cy="165.6" r="1.45"/><circle cx="335.9" cy="166.5" r="1.45"/><circle cx="316.8" cy="104.1" r="1.45"/><circle cx="334.6" cy="185.1" r="1.45"/><circle cx="322.7" cy="149.6" r="1.45"/><circle cx="324.0" cy="159.6" r="1.45"/><circle cx="356.0" cy="160.0" r="1.45"/><circle cx="335.4" cy="164.2" r="1.45"/><circle cx="325.3" cy="134.4" r="1.45"/><circle cx="337.0" cy="136.6" r="1.45"/><circle cx="322.7" cy="167.6" r="1.45"/><circle cx="317.4" cy="129.8" r="1.45"/><circle cx="323.8" cy="146.2" r="1.45"/><circle cx="349.7" cy="149.2" r="1.45"/><circle cx="310.0" cy="133.3" r="1.45"/><circle cx="326.8" cy="124.4" r="1.45"/><circle cx="323.3" cy="161.0" r="1.45"/><circle cx="336.5" cy="155.4" r="1.45"/><circle cx="290.1" cy="140.6" r="1.45"/><circle cx="330.9" cy="167.4" r="1.45"/><circle cx="339.3" cy="155.0" r="1.45"/><circle cx="324.2" cy="127.9" r="1.45"/><circle cx="323.9" cy="134.8" r="1.45"/><circle cx="320.1" cy="142.0" r="1.45"/><circle cx="319.2" cy="157.5" r="1.45"/><circle cx="314.9" cy="137.6" r="1.45"/><circle cx="312.3" cy="161.6" r="1.45"/><circle cx="307.6" cy="149.5" r="1.45"/><circle cx="332.6" cy="125.5" r="1.45"/><circle cx="307.3" cy="139.3" r="1.45"/><circle cx="326.6" cy="131.9" r="1.45"/><circle cx="328.0" cy="142.7" r="1.45"/><circle cx="306.8" cy="131.9" r="1.45"/><circle cx="327.3" cy="118.2" r="1.45"/><circle cx="320.1" cy="149.8" r="1.45"/><circle cx="322.8" cy="135.9" r="1.45"/><circle cx="323.9" cy="141.9" r="1.45"/><circle cx="307.1" cy="149.2" r="1.45"/><circle cx="326.3" cy="116.8" r="1.45"/><circle cx="316.8" cy="127.9" r="1.45"/><circle cx="354.8" cy="170.8" r="1.45"/><circle cx="361.0" cy="171.3" r="1.45"/><circle cx="313.7" cy="149.1" r="1.45"/><circle cx="351.9" cy="169.0" r="1.45"/><circle cx="313.2" cy="151.2" r="1.45"/><circle cx="324.3" cy="165.3" r="1.45"/><circle cx="330.1" cy="171.7" r="1.45"/><circle cx="339.8" cy="134.0" r="1.45"/><circle cx="338.0" cy="143.4" r="1.45"/><circle cx="312.0" cy="148.4" r="1.45"/><circle cx="322.9" cy="118.2" r="1.45"/><circle cx="315.0" cy="130.9" r="1.45"/><circle cx="312.3" cy="127.8" r="1.45"/><circle cx="316.5" cy="116.1" r="1.45"/><circle cx="320.4" cy="123.5" r="1.45"/><circle cx="328.0" cy="152.6" r="1.45"/><circle cx="331.0" cy="160.6" r="1.45"/><circle cx="335.9" cy="135.4" r="1.45"/><circle cx="326.2" cy="168.1" r="1.45"/><circle cx="324.9" cy="156.5" r="1.45"/><circle cx="343.7" cy="139.8" r="1.45"/><circle cx="309.6" cy="139.9" r="1.45"/><circle cx="312.3" cy="116.3" r="1.45"/><circle cx="351.6" cy="148.8" r="1.45"/><circle cx="331.6" cy="143.0" r="1.45"/><circle cx="372.0" cy="175.3" r="1.45"/><circle cx="330.7" cy="161.5" r="1.45"/><circle cx="325.7" cy="138.5" r="1.45"/><circle cx="328.9" cy="146.9" r="1.45"/><circle cx="360.4" cy="167.7" r="1.45"/><circle cx="322.8" cy="139.5" r="1.45"/><circle cx="325.4" cy="148.6" r="1.45"/><circle cx="341.2" cy="159.8" r="1.45"/><circle cx="334.4" cy="142.9" r="1.45"/><circle cx="337.6" cy="185.6" r="1.45"/><circle cx="305.7" cy="147.7" r="1.45"/><circle cx="320.3" cy="147.6" r="1.45"/><circle cx="344.6" cy="150.5" r="1.45"/><circle cx="327.4" cy="137.4" r="1.45"/><circle cx="333.0" cy="147.8" r="1.45"/><circle cx="328.3" cy="140.9" r="1.45"/><circle cx="308.1" cy="123.9" r="1.45"/><circle cx="318.8" cy="137.0" r="1.45"/><circle cx="336.3" cy="161.7" r="1.45"/><circle cx="312.0" cy="152.4" r="1.45"/><circle cx="338.9" cy="114.9" r="1.45"/><circle cx="328.9" cy="152.7" r="1.45"/><circle cx="334.5" cy="167.3" r="1.45"/><circle cx="326.6" cy="159.0" r="1.45"/><circle cx="322.0" cy="115.5" r="1.45"/><circle cx="335.1" cy="139.7" r="1.45"/><circle cx="330.1" cy="115.4" r="1.45"/><circle cx="332.6" cy="151.9" r="1.45"/><circle cx="320.3" cy="135.7" r="1.45"/><circle cx="331.1" cy="169.5" r="1.45"/><circle cx="345.8" cy="141.9" r="1.45"/><circle cx="319.5" cy="120.6" r="1.45"/><circle cx="299.2" cy="134.8" r="1.45"/><circle cx="353.3" cy="154.7" r="1.45"/><circle cx="321.8" cy="161.4" r="1.45"/><circle cx="317.4" cy="145.8" r="1.45"/><circle cx="359.5" cy="149.8" r="1.45"/><circle cx="331.9" cy="176.3" r="1.45"/><circle cx="343.7" cy="158.2" r="1.45"/><circle cx="295.6" cy="134.7" r="1.45"/><circle cx="328.1" cy="140.1" r="1.45"/><circle cx="288.6" cy="108.0" r="1.45"/><circle cx="327.1" cy="146.2" r="1.45"/><circle cx="338.1" cy="175.7" r="1.45"/><circle cx="327.9" cy="162.1" r="1.45"/><circle cx="324.8" cy="142.2" r="1.45"/><circle cx="296.4" cy="126.4" r="1.45"/><circle cx="328.4" cy="167.8" r="1.45"/><circle cx="363.3" cy="172.4" r="1.45"/><circle cx="316.8" cy="157.4" r="1.45"/><circle cx="326.8" cy="152.8" r="1.45"/><circle cx="314.9" cy="135.8" r="1.45"/><circle cx="325.3" cy="121.4" r="1.45"/><circle cx="311.8" cy="146.2" r="1.45"/><circle cx="335.9" cy="130.8" r="1.45"/><circle cx="335.0" cy="129.6" r="1.45"/><circle cx="310.2" cy="133.5" r="1.45"/><circle cx="371.3" cy="159.4" r="1.45"/><circle cx="337.4" cy="148.6" r="1.45"/><circle cx="344.5" cy="169.5" r="1.45"/><circle cx="330.1" cy="146.4" r="1.45"/><circle cx="316.0" cy="115.2" r="1.45"/><circle cx="315.8" cy="127.0" r="1.45"/><circle cx="344.1" cy="168.5" r="1.45"/><circle cx="323.7" cy="149.7" r="1.45"/><circle cx="314.4" cy="123.7" r="1.45"/><circle cx="256.9" cy="132.3" r="1.45"/><circle cx="320.3" cy="165.8" r="1.45"/><circle cx="317.6" cy="148.4" r="1.45"/><circle cx="334.7" cy="140.2" r="1.45"/><circle cx="310.9" cy="150.5" r="1.45"/><circle cx="357.8" cy="174.9" r="1.45"/><circle cx="310.9" cy="132.0" r="1.45"/><circle cx="346.8" cy="130.2" r="1.45"/><circle cx="323.5" cy="141.2" r="1.45"/><circle cx="329.9" cy="161.8" r="1.45"/><circle cx="314.3" cy="173.0" r="1.45"/><circle cx="339.3" cy="139.2" r="1.45"/><circle cx="346.1" cy="169.2" r="1.45"/><circle cx="307.3" cy="124.9" r="1.45"/><circle cx="346.7" cy="153.2" r="1.45"/><circle cx="330.8" cy="143.1" r="1.45"/><circle cx="312.1" cy="123.3" r="1.45"/><circle cx="333.0" cy="129.9" r="1.45"/><circle cx="307.6" cy="133.2" r="1.45"/><circle cx="295.8" cy="109.9" r="1.45"/><circle cx="332.3" cy="152.9" r="1.45"/><circle cx="349.0" cy="142.1" r="1.45"/><circle cx="313.3" cy="110.8" r="1.45"/><circle cx="332.9" cy="148.7" r="1.45"/><circle cx="360.5" cy="173.0" r="1.45"/><circle cx="314.7" cy="130.4" r="1.45"/><circle cx="312.5" cy="147.7" r="1.45"/><circle cx="336.3" cy="139.8" r="1.45"/><circle cx="336.9" cy="153.1" r="1.45"/><circle cx="317.5" cy="119.5" r="1.45"/><circle cx="330.2" cy="135.5" r="1.45"/><circle cx="317.1" cy="161.9" r="1.45"/><circle cx="345.9" cy="142.3" r="1.45"/><circle cx="335.9" cy="158.7" r="1.45"/><circle cx="339.2" cy="152.2" r="1.45"/><circle cx="324.2" cy="134.2" r="1.45"/><circle cx="344.9" cy="132.8" r="1.45"/><circle cx="319.5" cy="139.4" r="1.45"/><circle cx="350.0" cy="154.1" r="1.45"/><circle cx="341.1" cy="129.3" r="1.45"/><circle cx="324.3" cy="143.7" r="1.45"/><circle cx="349.6" cy="145.5" r="1.45"/><circle cx="313.1" cy="121.5" r="1.45"/><circle cx="334.7" cy="136.7" r="1.45"/><circle cx="322.8" cy="134.4" r="1.45"/><circle cx="315.7" cy="147.7" r="1.45"/><circle cx="313.1" cy="122.8" r="1.45"/><circle cx="323.2" cy="126.0" r="1.45"/><circle cx="276.8" cy="106.8" r="1.45"/><circle cx="372.3" cy="143.9" r="1.45"/><circle cx="324.3" cy="135.1" r="1.45"/><circle cx="304.0" cy="138.4" r="1.45"/><circle cx="314.8" cy="106.9" r="1.45"/><circle cx="310.3" cy="143.4" r="1.45"/><circle cx="337.6" cy="183.8" r="1.45"/><circle cx="364.1" cy="172.4" r="1.45"/><circle cx="328.9" cy="155.0" r="1.45"/><circle cx="356.3" cy="145.7" r="1.45"/><circle cx="342.1" cy="152.4" r="1.45"/><circle cx="323.1" cy="141.3" r="1.45"/><circle cx="318.0" cy="139.0" r="1.45"/><circle cx="309.3" cy="150.5" r="1.45"/><circle cx="345.0" cy="156.1" r="1.45"/><circle cx="359.7" cy="147.0" r="1.45"/><circle cx="330.4" cy="128.3" r="1.45"/><circle cx="333.8" cy="118.7" r="1.45"/><circle cx="302.6" cy="120.7" r="1.45"/><circle cx="305.7" cy="122.7" r="1.45"/><circle cx="342.2" cy="153.1" r="1.45"/><circle cx="364.2" cy="173.4" r="1.45"/><circle cx="323.4" cy="137.1" r="1.45"/><circle cx="330.1" cy="142.9" r="1.45"/><circle cx="354.2" cy="172.6" r="1.45"/><circle cx="309.5" cy="150.8" r="1.45"/><circle cx="312.0" cy="123.4" r="1.45"/><circle cx="339.0" cy="140.3" r="1.45"/><circle cx="338.8" cy="174.7" r="1.45"/><circle cx="302.1" cy="118.2" r="1.45"/><circle cx="304.4" cy="149.2" r="1.45"/><circle cx="346.7" cy="135.5" r="1.45"/><circle cx="317.5" cy="123.9" r="1.45"/><circle cx="308.2" cy="139.3" r="1.45"/><circle cx="318.0" cy="111.0" r="1.45"/><circle cx="314.6" cy="155.1" r="1.45"/><circle cx="333.3" cy="163.7" r="1.45"/><circle cx="325.4" cy="134.7" r="1.45"/><circle cx="343.9" cy="152.4" r="1.45"/><circle cx="294.1" cy="154.5" r="1.45"/><circle cx="319.4" cy="155.5" r="1.45"/><circle cx="313.1" cy="123.5" r="1.45"/><circle cx="313.2" cy="151.8" r="1.45"/><circle cx="352.6" cy="155.0" r="1.45"/><circle cx="323.4" cy="141.4" r="1.45"/><circle cx="333.0" cy="134.8" r="1.45"/><circle cx="318.9" cy="171.1" r="1.45"/><circle cx="325.3" cy="175.5" r="1.45"/><circle cx="344.0" cy="148.2" r="1.45"/><circle cx="311.0" cy="123.6" r="1.45"/><circle cx="334.7" cy="150.4" r="1.45"/><circle cx="348.0" cy="143.4" r="1.45"/><circle cx="340.2" cy="171.9" r="1.45"/><circle cx="304.9" cy="138.8" r="1.45"/><circle cx="317.8" cy="118.9" r="1.45"/><circle cx="335.6" cy="156.6" r="1.45"/><circle cx="311.6" cy="159.8" r="1.45"/><circle cx="391.1" cy="177.6" r="1.45"/><circle cx="401.2" cy="157.9" r="1.45"/><circle cx="316.0" cy="152.8" r="1.45"/><circle cx="340.6" cy="156.8" r="1.45"/><circle cx="346.4" cy="142.6" r="1.45"/><circle cx="345.2" cy="132.8" r="1.45"/><circle cx="326.9" cy="148.2" r="1.45"/><circle cx="334.6" cy="157.8" r="1.45"/><circle cx="329.1" cy="139.9" r="1.45"/><circle cx="374.2" cy="158.1" r="1.45"/><circle cx="343.7" cy="117.6" r="1.45"/><circle cx="375.4" cy="149.9" r="1.45"/><circle cx="336.5" cy="131.7" r="1.45"/><circle cx="303.8" cy="117.1" r="1.45"/><circle cx="299.6" cy="150.4" r="1.45"/><circle cx="311.1" cy="118.0" r="1.45"/><circle cx="316.5" cy="151.6" r="1.45"/><circle cx="272.1" cy="126.3" r="1.45"/><circle cx="318.4" cy="135.2" r="1.45"/><circle cx="335.0" cy="165.1" r="1.45"/><circle cx="333.1" cy="158.4" r="1.45"/><circle cx="346.7" cy="147.7" r="1.45"/><circle cx="343.0" cy="152.4" r="1.45"/><circle cx="315.1" cy="162.9" r="1.45"/><circle cx="320.5" cy="139.3" r="1.45"/><circle cx="359.2" cy="170.8" r="1.45"/><circle cx="310.9" cy="111.9" r="1.45"/><circle cx="304.8" cy="148.4" r="1.45"/><circle cx="310.8" cy="160.6" r="1.45"/><circle cx="329.0" cy="144.0" r="1.45"/><circle cx="317.5" cy="141.9" r="1.45"/><circle cx="319.1" cy="145.9" r="1.45"/><circle cx="317.6" cy="159.3" r="1.45"/><circle cx="317.8" cy="136.4" r="1.45"/><circle cx="321.2" cy="138.2" r="1.45"/><circle cx="333.1" cy="182.2" r="1.45"/><circle cx="338.2" cy="156.8" r="1.45"/><circle cx="336.8" cy="162.2" r="1.45"/><circle cx="322.5" cy="148.4" r="1.45"/><circle cx="330.0" cy="187.2" r="1.45"/><circle cx="310.1" cy="135.8" r="1.45"/><circle cx="324.5" cy="136.4" r="1.45"/><circle cx="308.8" cy="144.8" r="1.45"/><circle cx="337.9" cy="134.7" r="1.45"/><circle cx="337.5" cy="173.9" r="1.45"/><circle cx="330.7" cy="162.2" r="1.45"/><circle cx="316.8" cy="151.8" r="1.45"/><circle cx="318.5" cy="137.6" r="1.45"/><circle cx="347.4" cy="162.3" r="1.45"/><circle cx="347.0" cy="169.0" r="1.45"/><circle cx="303.2" cy="136.0" r="1.45"/><circle cx="313.5" cy="123.6" r="1.45"/><circle cx="302.7" cy="161.7" r="1.45"/><circle cx="314.6" cy="146.8" r="1.45"/><circle cx="346.4" cy="165.8" r="1.45"/><circle cx="309.4" cy="126.5" r="1.45"/><circle cx="331.1" cy="172.8" r="1.45"/><circle cx="309.3" cy="136.8" r="1.45"/><circle cx="332.8" cy="145.2" r="1.45"/><circle cx="356.9" cy="179.2" r="1.45"/><circle cx="345.6" cy="161.3" r="1.45"/><circle cx="316.0" cy="125.6" r="1.45"/><circle cx="341.6" cy="135.2" r="1.45"/><circle cx="346.2" cy="163.0" r="1.45"/><circle cx="312.4" cy="156.3" r="1.45"/><circle cx="314.6" cy="146.0" r="1.45"/><circle cx="360.4" cy="155.7" r="1.45"/><circle cx="323.1" cy="152.5" r="1.45"/><circle cx="332.1" cy="146.7" r="1.45"/><circle cx="317.8" cy="130.6" r="1.45"/><circle cx="315.4" cy="112.6" r="1.45"/><circle cx="319.8" cy="146.9" r="1.45"/><circle cx="293.9" cy="126.4" r="1.45"/><circle cx="321.6" cy="168.0" r="1.45"/><circle cx="314.8" cy="125.8" r="1.45"/><circle cx="325.5" cy="108.3" r="1.45"/><circle cx="339.2" cy="136.7" r="1.45"/><circle cx="326.7" cy="171.0" r="1.45"/><circle cx="305.2" cy="147.3" r="1.45"/><circle cx="347.5" cy="135.0" r="1.45"/><circle cx="317.3" cy="149.8" r="1.45"/><circle cx="336.4" cy="155.9" r="1.45"/><circle cx="325.3" cy="155.5" r="1.45"/><circle cx="315.9" cy="160.7" r="1.45"/><circle cx="302.6" cy="133.9" r="1.45"/><circle cx="326.1" cy="174.3" r="1.45"/><circle cx="323.0" cy="144.2" r="1.45"/><circle cx="326.1" cy="152.9" r="1.45"/><circle cx="313.9" cy="122.2" r="1.45"/><circle cx="299.0" cy="134.0" r="1.45"/><circle cx="319.6" cy="159.9" r="1.45"/><circle cx="320.0" cy="169.2" r="1.45"/><circle cx="322.8" cy="135.5" r="1.45"/><circle cx="392.6" cy="184.5" r="1.45"/><circle cx="333.3" cy="131.3" r="1.45"/><circle cx="327.3" cy="129.2" r="1.45"/><circle cx="303.6" cy="125.3" r="1.45"/><circle cx="333.4" cy="150.9" r="1.45"/><circle cx="349.4" cy="173.0" r="1.45"/><circle cx="339.9" cy="163.2" r="1.45"/><circle cx="320.9" cy="141.7" r="1.45"/><circle cx="327.8" cy="157.6" r="1.45"/><circle cx="326.2" cy="127.2" r="1.45"/><circle cx="319.6" cy="148.1" r="1.45"/><circle cx="360.5" cy="158.3" r="1.45"/><circle cx="306.9" cy="118.4" r="1.45"/><circle cx="352.2" cy="152.3" r="1.45"/><circle cx="330.6" cy="161.0" r="1.45"/><circle cx="345.3" cy="176.4" r="1.45"/><circle cx="331.5" cy="149.5" r="1.45"/><circle cx="350.3" cy="159.8" r="1.45"/><circle cx="348.5" cy="152.8" r="1.45"/><circle cx="339.6" cy="137.9" r="1.45"/><circle cx="327.9" cy="171.2" r="1.45"/><circle cx="357.1" cy="136.9" r="1.45"/><circle cx="346.6" cy="152.1" r="1.45"/><circle cx="352.1" cy="138.1" r="1.45"/><circle cx="330.9" cy="168.5" r="1.45"/><circle cx="334.1" cy="154.5" r="1.45"/><circle cx="304.4" cy="150.4" r="1.45"/><circle cx="330.7" cy="132.1" r="1.45"/><circle cx="377.1" cy="174.9" r="1.45"/><circle cx="321.5" cy="142.0" r="1.45"/><circle cx="308.9" cy="157.0" r="1.45"/><circle cx="303.0" cy="128.3" r="1.45"/><circle cx="314.5" cy="151.6" r="1.45"/><circle cx="301.7" cy="119.9" r="1.45"/><circle cx="305.0" cy="143.6" r="1.45"/><circle cx="314.5" cy="146.3" r="1.45"/><circle cx="307.9" cy="146.9" r="1.45"/><circle cx="320.4" cy="134.7" r="1.45"/><circle cx="316.0" cy="135.2" r="1.45"/><circle cx="323.6" cy="130.5" r="1.45"/><circle cx="374.5" cy="194.3" r="1.45"/><circle cx="325.3" cy="149.4" r="1.45"/><circle cx="326.2" cy="160.5" r="1.45"/><circle cx="330.0" cy="147.5" r="1.45"/><circle cx="352.6" cy="144.6" r="1.45"/><circle cx="370.2" cy="167.6" r="1.45"/><circle cx="346.1" cy="143.3" r="1.45"/><circle cx="314.9" cy="142.6" r="1.45"/><circle cx="320.0" cy="163.8" r="1.45"/><circle cx="344.0" cy="141.1" r="1.45"/><circle cx="321.5" cy="131.2" r="1.45"/><circle cx="355.9" cy="147.2" r="1.45"/><circle cx="334.7" cy="128.7" r="1.45"/><circle cx="326.6" cy="143.3" r="1.45"/><circle cx="309.5" cy="130.6" r="1.45"/><circle cx="348.8" cy="164.6" r="1.45"/><circle cx="324.4" cy="169.3" r="1.45"/><circle cx="303.6" cy="124.7" r="1.45"/><circle cx="342.6" cy="150.9" r="1.45"/><circle cx="324.7" cy="150.5" r="1.45"/><circle cx="347.6" cy="166.9" r="1.45"/><circle cx="312.0" cy="130.2" r="1.45"/><circle cx="363.3" cy="148.5" r="1.45"/><circle cx="330.1" cy="163.7" r="1.45"/><circle cx="328.8" cy="165.7" r="1.45"/><circle cx="336.0" cy="159.3" r="1.45"/><circle cx="333.5" cy="146.9" r="1.45"/><circle cx="333.8" cy="121.6" r="1.45"/><circle cx="328.0" cy="154.6" r="1.45"/><circle cx="316.1" cy="125.1" r="1.45"/><circle cx="339.0" cy="160.5" r="1.45"/><circle cx="322.4" cy="144.8" r="1.45"/><circle cx="322.3" cy="158.6" r="1.45"/><circle cx="303.0" cy="130.8" r="1.45"/><circle cx="328.5" cy="152.4" r="1.45"/><circle cx="328.1" cy="124.3" r="1.45"/><circle cx="350.1" cy="160.1" r="1.45"/><circle cx="353.5" cy="154.2" r="1.45"/><circle cx="332.5" cy="150.6" r="1.45"/><circle cx="330.8" cy="169.1" r="1.45"/><circle cx="361.4" cy="157.4" r="1.45"/><circle cx="323.1" cy="144.8" r="1.45"/><circle cx="363.2" cy="191.4" r="1.45"/><circle cx="346.4" cy="137.0" r="1.45"/><circle cx="323.0" cy="124.6" r="1.45"/><circle cx="321.0" cy="137.0" r="1.45"/><circle cx="341.0" cy="149.7" r="1.45"/><circle cx="315.8" cy="115.2" r="1.45"/><circle cx="300.1" cy="116.9" r="1.45"/><circle cx="310.5" cy="106.3" r="1.45"/><circle cx="316.6" cy="163.1" r="1.45"/><circle cx="330.0" cy="136.8" r="1.45"/><circle cx="331.5" cy="134.6" r="1.45"/><circle cx="335.7" cy="154.5" r="1.45"/><circle cx="363.0" cy="163.8" r="1.45"/><circle cx="300.2" cy="131.2" r="1.45"/><circle cx="330.0" cy="163.9" r="1.45"/><circle cx="315.3" cy="133.1" r="1.45"/><circle cx="322.6" cy="107.6" r="1.45"/><circle cx="322.2" cy="149.9" r="1.45"/><circle cx="339.0" cy="165.1" r="1.45"/><circle cx="339.5" cy="127.3" r="1.45"/><circle cx="306.7" cy="146.9" r="1.45"/><circle cx="329.1" cy="160.0" r="1.45"/><circle cx="354.2" cy="173.2" r="1.45"/><circle cx="329.7" cy="151.5" r="1.45"/><circle cx="314.7" cy="143.3" r="1.45"/><circle cx="342.0" cy="138.7" r="1.45"/><circle cx="313.3" cy="138.6" r="1.45"/><circle cx="356.5" cy="158.5" r="1.45"/><circle cx="311.5" cy="127.6" r="1.45"/><circle cx="351.5" cy="199.1" r="1.45"/><circle cx="330.7" cy="161.7" r="1.45"/><circle cx="319.4" cy="129.1" r="1.45"/><circle cx="297.7" cy="128.5" r="1.45"/><circle cx="311.3" cy="137.0" r="1.45"/><circle cx="375.5" cy="124.4" r="1.45"/><circle cx="304.1" cy="130.4" r="1.45"/><circle cx="314.9" cy="174.1" r="1.45"/><circle cx="322.0" cy="176.1" r="1.45"/><circle cx="299.2" cy="131.1" r="1.45"/><circle cx="341.6" cy="146.6" r="1.45"/><circle cx="328.6" cy="132.1" r="1.45"/><circle cx="346.4" cy="130.1" r="1.45"/><circle cx="313.0" cy="143.5" r="1.45"/><circle cx="316.7" cy="126.4" r="1.45"/><circle cx="359.3" cy="136.7" r="1.45"/><circle cx="334.9" cy="181.5" r="1.45"/><circle cx="343.2" cy="170.7" r="1.45"/><circle cx="341.4" cy="138.3" r="1.45"/><circle cx="345.3" cy="143.7" r="1.45"/><circle cx="351.3" cy="158.0" r="1.45"/><circle cx="330.0" cy="138.7" r="1.45"/><circle cx="365.4" cy="166.6" r="1.45"/><circle cx="334.2" cy="142.3" r="1.45"/><circle cx="312.6" cy="134.5" r="1.45"/><circle cx="369.4" cy="170.0" r="1.45"/><circle cx="306.2" cy="114.4" r="1.45"/><circle cx="335.2" cy="116.2" r="1.45"/><circle cx="316.9" cy="147.4" r="1.45"/><circle cx="340.2" cy="157.2" r="1.45"/><circle cx="325.9" cy="153.2" r="1.45"/><circle cx="318.0" cy="144.2" r="1.45"/><circle cx="322.6" cy="119.0" r="1.45"/><circle cx="320.7" cy="150.3" r="1.45"/><circle cx="322.2" cy="135.7" r="1.45"/><circle cx="337.3" cy="148.1" r="1.45"/><circle cx="293.8" cy="135.4" r="1.45"/><circle cx="289.1" cy="136.9" r="1.45"/><circle cx="324.6" cy="124.3" r="1.45"/><circle cx="315.0" cy="124.0" r="1.45"/><circle cx="320.0" cy="166.2" r="1.45"/><circle cx="316.9" cy="110.5" r="1.45"/><circle cx="305.3" cy="166.4" r="1.45"/><circle cx="335.9" cy="138.4" r="1.45"/><circle cx="314.0" cy="150.8" r="1.45"/><circle cx="336.6" cy="154.2" r="1.45"/><circle cx="317.9" cy="155.1" r="1.45"/><circle cx="371.4" cy="149.1" r="1.45"/><circle cx="333.4" cy="173.7" r="1.45"/><circle cx="325.4" cy="149.3" r="1.45"/><circle cx="342.5" cy="140.0" r="1.45"/><circle cx="338.9" cy="118.1" r="1.45"/><circle cx="343.5" cy="144.3" r="1.45"/><circle cx="332.1" cy="156.8" r="1.45"/><circle cx="310.5" cy="124.5" r="1.45"/><circle cx="309.1" cy="138.0" r="1.45"/><circle cx="286.6" cy="152.2" r="1.45"/><circle cx="321.2" cy="137.0" r="1.45"/><circle cx="348.7" cy="150.6" r="1.45"/><circle cx="321.4" cy="140.3" r="1.45"/><circle cx="315.5" cy="134.6" r="1.45"/><circle cx="343.2" cy="180.5" r="1.45"/><circle cx="330.4" cy="139.0" r="1.45"/><circle cx="339.4" cy="126.9" r="1.45"/><circle cx="344.0" cy="175.8" r="1.45"/><circle cx="328.6" cy="151.2" r="1.45"/><circle cx="311.5" cy="126.6" r="1.45"/><circle cx="321.4" cy="159.7" r="1.45"/><circle cx="319.2" cy="163.8" r="1.45"/><circle cx="304.3" cy="103.5" r="1.45"/><circle cx="311.7" cy="158.8" r="1.45"/><circle cx="348.6" cy="135.8" r="1.45"/><circle cx="317.9" cy="118.5" r="1.45"/><circle cx="368.5" cy="151.6" r="1.45"/><circle cx="315.5" cy="140.1" r="1.45"/><circle cx="350.7" cy="162.3" r="1.45"/><circle cx="319.4" cy="148.6" r="1.45"/><circle cx="333.9" cy="139.9" r="1.45"/><circle cx="334.8" cy="136.2" r="1.45"/><circle cx="326.6" cy="155.5" r="1.45"/><circle cx="317.3" cy="128.0" r="1.45"/><circle cx="323.4" cy="133.3" r="1.45"/><circle cx="324.7" cy="153.5" r="1.45"/><circle cx="336.4" cy="129.0" r="1.45"/><circle cx="342.9" cy="150.2" r="1.45"/><circle cx="330.6" cy="167.3" r="1.45"/><circle cx="337.0" cy="132.7" r="1.45"/><circle cx="371.9" cy="151.6" r="1.45"/><circle cx="318.3" cy="132.1" r="1.45"/><circle cx="321.1" cy="147.1" r="1.45"/><circle cx="352.8" cy="155.1" r="1.45"/><circle cx="344.7" cy="145.7" r="1.45"/><circle cx="299.6" cy="126.9" r="1.45"/><circle cx="334.7" cy="175.6" r="1.45"/><circle cx="299.2" cy="130.4" r="1.45"/><circle cx="305.2" cy="118.3" r="1.45"/><circle cx="324.4" cy="144.2" r="1.45"/><circle cx="336.1" cy="143.3" r="1.45"/><circle cx="318.8" cy="104.1" r="1.45"/><circle cx="318.9" cy="152.8" r="1.45"/><circle cx="328.9" cy="164.7" r="1.45"/><circle cx="328.6" cy="163.5" r="1.45"/><circle cx="307.1" cy="139.0" r="1.45"/><circle cx="317.8" cy="127.4" r="1.45"/><circle cx="335.3" cy="138.0" r="1.45"/><circle cx="385.7" cy="149.4" r="1.45"/><circle cx="318.0" cy="162.8" r="1.45"/><circle cx="300.5" cy="141.6" r="1.45"/><circle cx="328.8" cy="169.0" r="1.45"/><circle cx="325.0" cy="136.0" r="1.45"/><circle cx="317.3" cy="168.1" r="1.45"/><circle cx="336.5" cy="137.6" r="1.45"/><circle cx="346.6" cy="147.4" r="1.45"/><circle cx="328.9" cy="138.0" r="1.45"/><circle cx="329.9" cy="156.8" r="1.45"/><circle cx="330.7" cy="186.3" r="1.45"/><circle cx="324.9" cy="151.4" r="1.45"/><circle cx="314.6" cy="148.1" r="1.45"/><circle cx="334.8" cy="169.4" r="1.45"/><circle cx="303.6" cy="134.2" r="1.45"/><circle cx="357.6" cy="154.8" r="1.45"/><circle cx="347.3" cy="155.9" r="1.45"/><circle cx="349.2" cy="139.0" r="1.45"/><circle cx="338.7" cy="142.0" r="1.45"/><circle cx="336.1" cy="137.3" r="1.45"/><circle cx="308.9" cy="125.4" r="1.45"/><circle cx="335.9" cy="132.7" r="1.45"/><circle cx="321.8" cy="146.6" r="1.45"/><circle cx="313.8" cy="133.7" r="1.45"/><circle cx="317.2" cy="122.5" r="1.45"/><circle cx="321.7" cy="141.6" r="1.45"/><circle cx="315.4" cy="133.4" r="1.45"/><circle cx="309.7" cy="131.5" r="1.45"/><circle cx="306.1" cy="115.0" r="1.45"/><circle cx="328.4" cy="144.7" r="1.45"/><circle cx="319.2" cy="135.9" r="1.45"/><circle cx="323.0" cy="134.6" r="1.45"/><circle cx="321.7" cy="138.2" r="1.45"/><circle cx="324.7" cy="148.2" r="1.45"/><circle cx="345.3" cy="152.7" r="1.45"/><circle cx="326.2" cy="169.2" r="1.45"/><circle cx="343.3" cy="153.0" r="1.45"/><circle cx="316.8" cy="172.5" r="1.45"/><circle cx="319.5" cy="183.0" r="1.45"/><circle cx="261.7" cy="140.1" r="1.45"/><circle cx="344.5" cy="176.0" r="1.45"/><circle cx="335.1" cy="137.8" r="1.45"/><circle cx="364.1" cy="150.5" r="1.45"/><circle cx="320.9" cy="135.2" r="1.45"/><circle cx="336.6" cy="136.6" r="1.45"/><circle cx="362.2" cy="158.1" r="1.45"/><circle cx="302.9" cy="136.9" r="1.45"/><circle cx="327.0" cy="138.6" r="1.45"/><circle cx="319.2" cy="134.2" r="1.45"/><circle cx="301.2" cy="144.6" r="1.45"/><circle cx="331.5" cy="144.6" r="1.45"/><circle cx="357.6" cy="162.8" r="1.45"/><circle cx="322.7" cy="155.0" r="1.45"/><circle cx="325.0" cy="181.4" r="1.45"/><circle cx="322.3" cy="145.2" r="1.45"/><circle cx="322.7" cy="148.6" r="1.45"/><circle cx="317.3" cy="137.2" r="1.45"/><circle cx="310.8" cy="174.0" r="1.45"/><circle cx="369.0" cy="169.8" r="1.45"/><circle cx="314.9" cy="132.5" r="1.45"/><circle cx="302.8" cy="131.7" r="1.45"/><circle cx="307.1" cy="173.8" r="1.45"/><circle cx="329.8" cy="169.5" r="1.45"/><circle cx="343.9" cy="159.1" r="1.45"/><circle cx="323.2" cy="157.0" r="1.45"/><circle cx="321.3" cy="118.8" r="1.45"/><circle cx="300.9" cy="124.9" r="1.45"/><circle cx="328.6" cy="136.8" r="1.45"/><circle cx="344.8" cy="115.8" r="1.45"/><circle cx="311.2" cy="145.1" r="1.45"/><circle cx="328.4" cy="140.2" r="1.45"/><circle cx="316.4" cy="154.1" r="1.45"/><circle cx="325.3" cy="141.4" r="1.45"/><circle cx="313.0" cy="135.4" r="1.45"/><circle cx="333.2" cy="149.9" r="1.45"/><circle cx="312.4" cy="142.2" r="1.45"/><circle cx="326.1" cy="139.3" r="1.45"/><circle cx="340.0" cy="146.6" r="1.45"/><circle cx="306.6" cy="142.5" r="1.45"/><circle cx="322.2" cy="139.0" r="1.45"/><circle cx="327.0" cy="152.3" r="1.45"/><circle cx="326.6" cy="127.1" r="1.45"/><circle cx="323.5" cy="123.3" r="1.45"/><circle cx="326.0" cy="155.7" r="1.45"/><circle cx="332.8" cy="160.1" r="1.45"/><circle cx="329.8" cy="147.5" r="1.45"/><circle cx="291.0" cy="108.0" r="1.45"/><circle cx="324.0" cy="142.7" r="1.45"/><circle cx="347.2" cy="130.5" r="1.45"/><circle cx="335.0" cy="152.7" r="1.45"/><circle cx="336.7" cy="182.9" r="1.45"/><circle cx="312.4" cy="131.9" r="1.45"/><circle cx="319.5" cy="141.4" r="1.45"/><circle cx="323.8" cy="117.6" r="1.45"/><circle cx="319.1" cy="136.6" r="1.45"/><circle cx="314.9" cy="153.2" r="1.45"/><circle cx="310.8" cy="139.7" r="1.45"/><circle cx="315.3" cy="131.8" r="1.45"/><circle cx="361.9" cy="179.3" r="1.45"/><circle cx="342.9" cy="159.5" r="1.45"/><circle cx="316.3" cy="159.2" r="1.45"/><circle cx="300.2" cy="171.4" r="1.45"/><circle cx="322.3" cy="142.8" r="1.45"/><circle cx="393.9" cy="177.2" r="1.45"/><circle cx="340.8" cy="166.2" r="1.45"/><circle cx="335.5" cy="156.4" r="1.45"/><circle cx="301.3" cy="125.8" r="1.45"/><circle cx="316.5" cy="114.4" r="1.45"/><circle cx="304.8" cy="145.2" r="1.45"/><circle cx="325.9" cy="146.3" r="1.45"/><circle cx="340.2" cy="143.5" r="1.45"/><circle cx="372.5" cy="153.4" r="1.45"/><circle cx="349.7" cy="143.4" r="1.45"/><circle cx="337.1" cy="149.9" r="1.45"/><circle cx="304.0" cy="127.9" r="1.45"/><circle cx="336.3" cy="150.8" r="1.45"/><circle cx="293.6" cy="136.3" r="1.45"/><circle cx="327.1" cy="139.2" r="1.45"/><circle cx="316.2" cy="118.7" r="1.45"/><circle cx="326.3" cy="132.1" r="1.45"/><circle cx="325.8" cy="143.5" r="1.45"/><circle cx="305.8" cy="133.9" r="1.45"/><circle cx="324.3" cy="143.8" r="1.45"/><circle cx="368.1" cy="184.5" r="1.45"/><circle cx="330.4" cy="136.7" r="1.45"/><circle cx="332.7" cy="139.2" r="1.45"/><circle cx="310.6" cy="141.7" r="1.45"/><circle cx="311.0" cy="146.6" r="1.45"/><circle cx="292.1" cy="143.4" r="1.45"/><circle cx="315.9" cy="137.8" r="1.45"/><circle cx="314.1" cy="126.2" r="1.45"/><circle cx="323.9" cy="130.3" r="1.45"/><circle cx="301.9" cy="148.6" r="1.45"/><circle cx="330.5" cy="159.6" r="1.45"/><circle cx="321.3" cy="149.3" r="1.45"/><circle cx="356.2" cy="158.5" r="1.45"/><circle cx="319.0" cy="148.6" r="1.45"/><circle cx="326.7" cy="151.4" r="1.45"/><circle cx="318.4" cy="143.8" r="1.45"/><circle cx="357.2" cy="140.4" r="1.45"/><circle cx="315.7" cy="128.5" r="1.45"/><circle cx="300.8" cy="125.5" r="1.45"/><circle cx="338.3" cy="126.5" r="1.45"/><circle cx="348.0" cy="159.8" r="1.45"/><circle cx="318.8" cy="123.7" r="1.45"/><circle cx="354.7" cy="151.0" r="1.45"/><circle cx="319.4" cy="146.0" r="1.45"/><circle cx="334.2" cy="169.4" r="1.45"/><circle cx="348.6" cy="167.5" r="1.45"/><circle cx="335.7" cy="130.4" r="1.45"/><circle cx="343.4" cy="137.2" r="1.45"/><circle cx="348.1" cy="131.9" r="1.45"/><circle cx="326.9" cy="174.5" r="1.45"/><circle cx="322.2" cy="157.4" r="1.45"/><circle cx="317.8" cy="155.5" r="1.45"/><circle cx="322.8" cy="151.5" r="1.45"/><circle cx="322.1" cy="177.5" r="1.45"/><circle cx="329.0" cy="141.1" r="1.45"/><circle cx="326.5" cy="129.3" r="1.45"/><circle cx="357.2" cy="178.4" r="1.45"/><circle cx="333.6" cy="159.5" r="1.45"/><circle cx="326.8" cy="154.0" r="1.45"/><circle cx="357.7" cy="153.1" r="1.45"/><circle cx="337.3" cy="143.7" r="1.45"/><circle cx="326.9" cy="172.8" r="1.45"/><circle cx="321.6" cy="153.2" r="1.45"/><circle cx="325.6" cy="145.3" r="1.45"/><circle cx="322.5" cy="153.6" r="1.45"/><circle cx="360.9" cy="155.6" r="1.45"/><circle cx="328.1" cy="115.8" r="1.45"/><circle cx="341.1" cy="134.2" r="1.45"/><circle cx="324.4" cy="160.8" r="1.45"/><circle cx="344.3" cy="121.3" r="1.45"/><circle cx="347.5" cy="160.7" r="1.45"/><circle cx="334.5" cy="172.5" r="1.45"/><circle cx="340.8" cy="136.7" r="1.45"/><circle cx="351.4" cy="153.5" r="1.45"/><circle cx="320.9" cy="149.3" r="1.45"/><circle cx="331.1" cy="134.2" r="1.45"/><circle cx="342.2" cy="126.6" r="1.45"/><circle cx="323.7" cy="149.6" r="1.45"/><circle cx="330.0" cy="125.3" r="1.45"/><circle cx="327.3" cy="150.5" r="1.45"/><circle cx="373.2" cy="166.6" r="1.45"/><circle cx="302.9" cy="156.1" r="1.45"/><circle cx="324.2" cy="145.1" r="1.45"/><circle cx="324.5" cy="136.3" r="1.45"/><circle cx="319.6" cy="145.9" r="1.45"/><circle cx="308.3" cy="137.2" r="1.45"/><circle cx="314.8" cy="134.5" r="1.45"/><circle cx="313.5" cy="184.4" r="1.45"/><circle cx="321.0" cy="135.8" r="1.45"/><circle cx="355.3" cy="166.3" r="1.45"/><circle cx="361.5" cy="152.0" r="1.45"/><circle cx="324.1" cy="170.0" r="1.45"/><circle cx="337.7" cy="140.2" r="1.45"/><circle cx="316.9" cy="157.6" r="1.45"/><circle cx="328.1" cy="154.4" r="1.45"/><circle cx="331.1" cy="133.5" r="1.45"/><circle cx="335.6" cy="144.4" r="1.45"/><circle cx="361.4" cy="169.5" r="1.45"/><circle cx="307.8" cy="130.5" r="1.45"/><circle cx="372.0" cy="167.2" r="1.45"/><circle cx="331.9" cy="140.7" r="1.45"/><circle cx="345.6" cy="131.8" r="1.45"/><circle cx="348.3" cy="150.9" r="1.45"/><circle cx="323.6" cy="117.4" r="1.45"/><circle cx="285.9" cy="110.7" r="1.45"/><circle cx="342.0" cy="131.4" r="1.45"/><circle cx="362.9" cy="163.6" r="1.45"/><circle cx="344.4" cy="160.4" r="1.45"/><circle cx="316.3" cy="122.5" r="1.45"/><circle cx="337.0" cy="145.6" r="1.45"/><circle cx="319.0" cy="148.6" r="1.45"/><circle cx="324.1" cy="163.8" r="1.45"/><circle cx="329.2" cy="148.8" r="1.45"/><circle cx="312.4" cy="164.9" r="1.45"/><circle cx="323.3" cy="152.3" r="1.45"/><circle cx="374.4" cy="183.7" r="1.45"/><circle cx="312.0" cy="141.6" r="1.45"/><circle cx="326.1" cy="163.9" r="1.45"/><circle cx="341.6" cy="156.8" r="1.45"/><circle cx="324.9" cy="139.8" r="1.45"/><circle cx="358.0" cy="138.0" r="1.45"/><circle cx="328.0" cy="150.5" r="1.45"/><circle cx="314.3" cy="148.4" r="1.45"/><circle cx="337.3" cy="156.6" r="1.45"/><circle cx="321.2" cy="146.1" r="1.45"/><circle cx="288.5" cy="139.5" r="1.45"/><circle cx="315.3" cy="143.4" r="1.45"/><circle cx="330.8" cy="165.4" r="1.45"/><circle cx="339.6" cy="161.9" r="1.45"/><circle cx="311.5" cy="174.1" r="1.45"/><circle cx="319.9" cy="143.7" r="1.45"/><circle cx="339.8" cy="176.3" r="1.45"/><circle cx="328.5" cy="145.5" r="1.45"/><circle cx="318.6" cy="131.1" r="1.45"/><circle cx="344.3" cy="158.8" r="1.45"/><circle cx="307.3" cy="159.3" r="1.45"/><circle cx="335.1" cy="164.9" r="1.45"/><circle cx="339.3" cy="184.0" r="1.45"/><circle cx="318.8" cy="117.6" r="1.45"/><circle cx="303.9" cy="170.2" r="1.45"/><circle cx="322.9" cy="158.6" r="1.45"/><circle cx="325.3" cy="129.1" r="1.45"/><circle cx="312.2" cy="135.7" r="1.45"/><circle cx="350.6" cy="162.3" r="1.45"/><circle cx="331.4" cy="170.7" r="1.45"/><circle cx="321.8" cy="140.1" r="1.45"/><circle cx="314.5" cy="137.6" r="1.45"/><circle cx="323.8" cy="136.7" r="1.45"/><circle cx="318.4" cy="166.1" r="1.45"/><circle cx="317.6" cy="141.7" r="1.45"/><circle cx="323.3" cy="128.1" r="1.45"/><circle cx="323.4" cy="135.0" r="1.45"/><circle cx="318.2" cy="131.0" r="1.45"/><circle cx="323.6" cy="146.6" r="1.45"/><circle cx="337.3" cy="142.5" r="1.45"/><circle cx="316.0" cy="142.1" r="1.45"/><circle cx="326.0" cy="133.3" r="1.45"/><circle cx="356.5" cy="141.3" r="1.45"/><circle cx="315.5" cy="126.8" r="1.45"/><circle cx="327.1" cy="141.7" r="1.45"/><circle cx="353.3" cy="140.0" r="1.45"/><circle cx="330.6" cy="166.1" r="1.45"/><circle cx="328.3" cy="149.5" r="1.45"/><circle cx="343.8" cy="159.0" r="1.45"/><circle cx="311.3" cy="129.9" r="1.45"/><circle cx="328.7" cy="151.6" r="1.45"/><circle cx="329.6" cy="143.3" r="1.45"/><circle cx="329.0" cy="164.2" r="1.45"/><circle cx="314.0" cy="157.3" r="1.45"/><circle cx="303.9" cy="130.8" r="1.45"/><circle cx="345.2" cy="140.5" r="1.45"/><circle cx="318.8" cy="154.1" r="1.45"/><circle cx="299.5" cy="130.0" r="1.45"/><circle cx="332.4" cy="152.1" r="1.45"/><circle cx="345.0" cy="160.8" r="1.45"/><circle cx="329.8" cy="132.8" r="1.45"/><circle cx="315.5" cy="144.2" r="1.45"/><circle cx="332.4" cy="167.9" r="1.45"/><circle cx="330.6" cy="168.9" r="1.45"/><circle cx="344.1" cy="192.3" r="1.45"/><circle cx="257.2" cy="144.8" r="1.45"/><circle cx="327.1" cy="161.6" r="1.45"/><circle cx="317.6" cy="158.0" r="1.45"/><circle cx="328.9" cy="180.7" r="1.45"/><circle cx="320.4" cy="155.8" r="1.45"/><circle cx="326.1" cy="116.2" r="1.45"/><circle cx="318.8" cy="147.3" r="1.45"/><circle cx="365.8" cy="155.5" r="1.45"/><circle cx="341.6" cy="134.7" r="1.45"/><circle cx="336.6" cy="170.3" r="1.45"/><circle cx="360.1" cy="157.2" r="1.45"/><circle cx="347.5" cy="135.7" r="1.45"/><circle cx="294.3" cy="159.3" r="1.45"/><circle cx="356.3" cy="169.0" r="1.45"/><circle cx="318.3" cy="113.0" r="1.45"/><circle cx="337.9" cy="145.6" r="1.45"/><circle cx="334.6" cy="114.9" r="1.45"/><circle cx="321.0" cy="130.8" r="1.45"/><circle cx="312.2" cy="145.2" r="1.45"/><circle cx="325.7" cy="141.6" r="1.45"/><circle cx="308.8" cy="145.7" r="1.45"/><circle cx="304.7" cy="133.9" r="1.45"/><circle cx="338.7" cy="161.9" r="1.45"/><circle cx="327.8" cy="126.5" r="1.45"/><circle cx="324.7" cy="148.5" r="1.45"/><circle cx="333.4" cy="130.8" r="1.45"/><circle cx="351.0" cy="146.8" r="1.45"/><circle cx="316.1" cy="140.3" r="1.45"/><circle cx="323.6" cy="131.0" r="1.45"/><circle cx="343.5" cy="156.1" r="1.45"/><circle cx="351.7" cy="142.7" r="1.45"/><circle cx="322.6" cy="143.3" r="1.45"/><circle cx="302.4" cy="138.9" r="1.45"/><circle cx="330.7" cy="126.3" r="1.45"/><circle cx="342.0" cy="175.1" r="1.45"/><circle cx="353.8" cy="163.3" r="1.45"/><circle cx="310.5" cy="111.0" r="1.45"/><circle cx="345.9" cy="164.5" r="1.45"/><circle cx="327.0" cy="132.1" r="1.45"/><circle cx="368.4" cy="171.1" r="1.45"/><circle cx="339.7" cy="184.0" r="1.45"/><circle cx="318.3" cy="123.7" r="1.45"/><circle cx="344.9" cy="152.2" r="1.45"/><circle cx="309.2" cy="130.2" r="1.45"/><circle cx="323.9" cy="176.0" r="1.45"/><circle cx="329.8" cy="163.9" r="1.45"/><circle cx="313.3" cy="122.3" r="1.45"/><circle cx="301.8" cy="125.8" r="1.45"/><circle cx="319.0" cy="144.2" r="1.45"/><circle cx="317.8" cy="138.8" r="1.45"/><circle cx="324.2" cy="143.0" r="1.45"/><circle cx="322.6" cy="154.0" r="1.45"/><circle cx="340.2" cy="140.1" r="1.45"/><circle cx="347.3" cy="129.0" r="1.45"/><circle cx="363.1" cy="167.1" r="1.45"/><circle cx="307.9" cy="118.8" r="1.45"/><circle cx="327.7" cy="157.2" r="1.45"/><circle cx="325.6" cy="128.5" r="1.45"/><circle cx="334.9" cy="157.3" r="1.45"/><circle cx="307.1" cy="133.4" r="1.45"/><circle cx="332.5" cy="154.3" r="1.45"/><circle cx="320.2" cy="159.0" r="1.45"/><circle cx="331.3" cy="178.2" r="1.45"/><circle cx="291.3" cy="131.2" r="1.45"/><circle cx="345.6" cy="149.4" r="1.45"/><circle cx="335.8" cy="177.4" r="1.45"/><circle cx="332.2" cy="139.5" r="1.45"/><circle cx="337.7" cy="160.1" r="1.45"/><circle cx="332.5" cy="155.0" r="1.45"/><circle cx="325.9" cy="166.5" r="1.45"/><circle cx="339.7" cy="155.2" r="1.45"/><circle cx="351.6" cy="175.6" r="1.45"/><circle cx="305.6" cy="136.9" r="1.45"/><circle cx="341.3" cy="173.4" r="1.45"/><circle cx="340.1" cy="160.9" r="1.45"/><circle cx="315.7" cy="149.7" r="1.45"/><circle cx="323.3" cy="122.4" r="1.45"/><circle cx="315.1" cy="103.7" r="1.45"/><circle cx="339.9" cy="162.2" r="1.45"/><circle cx="300.2" cy="147.9" r="1.45"/><circle cx="336.0" cy="170.2" r="1.45"/><circle cx="329.8" cy="137.1" r="1.45"/><circle cx="324.8" cy="132.7" r="1.45"/><circle cx="295.4" cy="135.8" r="1.45"/><circle cx="327.9" cy="147.2" r="1.45"/><circle cx="345.5" cy="163.8" r="1.45"/><circle cx="315.2" cy="151.7" r="1.45"/><circle cx="322.8" cy="143.2" r="1.45"/><circle cx="338.8" cy="155.3" r="1.45"/><circle cx="332.8" cy="161.9" r="1.45"/><circle cx="319.7" cy="123.1" r="1.45"/><circle cx="320.1" cy="132.4" r="1.45"/><circle cx="332.8" cy="167.5" r="1.45"/><circle cx="301.9" cy="141.5" r="1.45"/><circle cx="322.2" cy="138.4" r="1.45"/><circle cx="316.6" cy="137.0" r="1.45"/><circle cx="346.2" cy="166.0" r="1.45"/><circle cx="342.7" cy="136.5" r="1.45"/><circle cx="327.4" cy="145.7" r="1.45"/><circle cx="321.8" cy="122.0" r="1.45"/><circle cx="334.6" cy="165.4" r="1.45"/><circle cx="358.6" cy="178.8" r="1.45"/><circle cx="328.2" cy="143.1" r="1.45"/><circle cx="367.0" cy="137.3" r="1.45"/><circle cx="329.6" cy="149.5" r="1.45"/><circle cx="311.1" cy="144.5" r="1.45"/><circle cx="316.5" cy="108.3" r="1.45"/><circle cx="322.7" cy="130.8" r="1.45"/><circle cx="323.5" cy="141.4" r="1.45"/><circle cx="342.3" cy="141.8" r="1.45"/><circle cx="305.9" cy="149.5" r="1.45"/><circle cx="372.5" cy="157.0" r="1.45"/><circle cx="308.0" cy="166.7" r="1.45"/><circle cx="359.4" cy="166.3" r="1.45"/><circle cx="341.0" cy="147.3" r="1.45"/><circle cx="333.5" cy="136.7" r="1.45"/><circle cx="289.2" cy="103.1" r="1.45"/><circle cx="325.7" cy="158.4" r="1.45"/><circle cx="332.9" cy="172.6" r="1.45"/><circle cx="307.6" cy="132.2" r="1.45"/><circle cx="324.5" cy="140.0" r="1.45"/><circle cx="346.3" cy="155.7" r="1.45"/><circle cx="329.0" cy="131.7" r="1.45"/><circle cx="309.1" cy="151.2" r="1.45"/><circle cx="350.2" cy="143.2" r="1.45"/><circle cx="320.4" cy="137.0" r="1.45"/><circle cx="333.6" cy="161.6" r="1.45"/><circle cx="329.6" cy="130.3" r="1.45"/><circle cx="390.1" cy="179.6" r="1.45"/><circle cx="344.7" cy="156.8" r="1.45"/><circle cx="328.6" cy="130.4" r="1.45"/><circle cx="344.9" cy="144.4" r="1.45"/><circle cx="326.3" cy="155.1" r="1.45"/><circle cx="359.0" cy="180.6" r="1.45"/><circle cx="315.1" cy="119.8" r="1.45"/><circle cx="318.8" cy="146.3" r="1.45"/><circle cx="355.2" cy="142.1" r="1.45"/><circle cx="328.7" cy="162.4" r="1.45"/><circle cx="361.8" cy="132.2" r="1.45"/><circle cx="351.1" cy="160.3" r="1.45"/><circle cx="359.2" cy="159.8" r="1.45"/><circle cx="341.0" cy="124.4" r="1.45"/><circle cx="304.0" cy="157.4" r="1.45"/><circle cx="304.8" cy="145.2" r="1.45"/><circle cx="319.9" cy="138.3" r="1.45"/><circle cx="316.1" cy="125.8" r="1.45"/><circle cx="352.3" cy="166.3" r="1.45"/><circle cx="310.1" cy="153.2" r="1.45"/><circle cx="317.8" cy="145.6" r="1.45"/><circle cx="303.8" cy="138.6" r="1.45"/><circle cx="327.1" cy="149.1" r="1.45"/><circle cx="322.4" cy="153.9" r="1.45"/><circle cx="351.7" cy="154.6" r="1.45"/><circle cx="286.9" cy="116.1" r="1.45"/><circle cx="331.3" cy="166.1" r="1.45"/><circle cx="318.0" cy="111.5" r="1.45"/><circle cx="317.5" cy="141.0" r="1.45"/><circle cx="337.5" cy="141.3" r="1.45"/><circle cx="324.8" cy="143.9" r="1.45"/><circle cx="310.8" cy="152.8" r="1.45"/><circle cx="360.3" cy="162.9" r="1.45"/><circle cx="337.5" cy="137.0" r="1.45"/><circle cx="336.7" cy="147.1" r="1.45"/><circle cx="329.3" cy="132.3" r="1.45"/><circle cx="331.2" cy="139.5" r="1.45"/><circle cx="320.4" cy="133.5" r="1.45"/><circle cx="323.7" cy="154.9" r="1.45"/><circle cx="319.6" cy="144.5" r="1.45"/><circle cx="334.2" cy="142.9" r="1.45"/><circle cx="327.5" cy="121.4" r="1.45"/><circle cx="311.7" cy="137.3" r="1.45"/><circle cx="355.7" cy="161.0" r="1.45"/><circle cx="316.0" cy="151.3" r="1.45"/><circle cx="325.5" cy="157.2" r="1.45"/><circle cx="304.0" cy="142.1" r="1.45"/><circle cx="317.8" cy="135.9" r="1.45"/><circle cx="338.2" cy="151.2" r="1.45"/><circle cx="362.1" cy="136.1" r="1.45"/><circle cx="307.1" cy="125.1" r="1.45"/><circle cx="325.5" cy="164.1" r="1.45"/><circle cx="329.3" cy="160.8" r="1.45"/><circle cx="326.2" cy="172.2" r="1.45"/><circle cx="309.4" cy="126.9" r="1.45"/><circle cx="327.9" cy="155.7" r="1.45"/><circle cx="314.4" cy="145.7" r="1.45"/><circle cx="308.4" cy="132.4" r="1.45"/><circle cx="362.0" cy="161.7" r="1.45"/><circle cx="323.2" cy="123.8" r="1.45"/><circle cx="311.9" cy="126.9" r="1.45"/><circle cx="308.9" cy="130.2" r="1.45"/><circle cx="306.8" cy="156.0" r="1.45"/><circle cx="302.5" cy="136.3" r="1.45"/><circle cx="310.2" cy="149.8" r="1.45"/><circle cx="306.1" cy="118.9" r="1.45"/><circle cx="329.4" cy="157.0" r="1.45"/><circle cx="304.6" cy="152.9" r="1.45"/><circle cx="337.1" cy="162.1" r="1.45"/><circle cx="355.2" cy="148.5" r="1.45"/><circle cx="324.5" cy="120.6" r="1.45"/><circle cx="309.8" cy="130.6" r="1.45"/><circle cx="333.8" cy="159.6" r="1.45"/><circle cx="317.4" cy="140.4" r="1.45"/><circle cx="326.3" cy="146.8" r="1.45"/><circle cx="315.1" cy="143.7" r="1.45"/><circle cx="364.6" cy="170.3" r="1.45"/><circle cx="336.3" cy="159.2" r="1.45"/><circle cx="339.4" cy="159.3" r="1.45"/><circle cx="305.7" cy="123.2" r="1.45"/><circle cx="308.3" cy="142.4" r="1.45"/><circle cx="351.4" cy="160.9" r="1.45"/><circle cx="297.6" cy="129.3" r="1.45"/><circle cx="332.6" cy="155.9" r="1.45"/><circle cx="322.4" cy="169.1" r="1.45"/><circle cx="324.8" cy="154.2" r="1.45"/><circle cx="319.4" cy="131.8" r="1.45"/><circle cx="309.8" cy="135.6" r="1.45"/><circle cx="324.8" cy="152.6" r="1.45"/><circle cx="370.4" cy="184.9" r="1.45"/><circle cx="326.6" cy="130.5" r="1.45"/><circle cx="348.0" cy="128.5" r="1.45"/><circle cx="327.4" cy="145.3" r="1.45"/><circle cx="314.4" cy="136.4" r="1.45"/><circle cx="346.6" cy="157.6" r="1.45"/><circle cx="322.6" cy="140.5" r="1.45"/><circle cx="308.3" cy="153.0" r="1.45"/><circle cx="330.8" cy="147.1" r="1.45"/><circle cx="330.9" cy="179.8" r="1.45"/><circle cx="325.3" cy="160.0" r="1.45"/><circle cx="316.2" cy="127.4" r="1.45"/><circle cx="330.1" cy="159.0" r="1.45"/><circle cx="326.4" cy="130.5" r="1.45"/><circle cx="327.5" cy="161.5" r="1.45"/><circle cx="359.5" cy="165.9" r="1.45"/><circle cx="318.4" cy="176.5" r="1.45"/><circle cx="352.9" cy="151.4" r="1.45"/><circle cx="307.0" cy="155.4" r="1.45"/><circle cx="319.3" cy="122.4" r="1.45"/><circle cx="312.2" cy="158.8" r="1.45"/><circle cx="338.0" cy="140.4" r="1.45"/><circle cx="304.5" cy="133.8" r="1.45"/><circle cx="331.5" cy="172.7" r="1.45"/><circle cx="348.8" cy="128.4" r="1.45"/><circle cx="336.4" cy="168.1" r="1.45"/><circle cx="331.9" cy="145.7" r="1.45"/><circle cx="315.7" cy="141.2" r="1.45"/><circle cx="338.3" cy="158.9" r="1.45"/><circle cx="339.4" cy="146.1" r="1.45"/><circle cx="304.6" cy="129.3" r="1.45"/><circle cx="329.1" cy="142.8" r="1.45"/><circle cx="322.9" cy="152.1" r="1.45"/><circle cx="322.1" cy="143.1" r="1.45"/><circle cx="306.0" cy="134.6" r="1.45"/><circle cx="299.9" cy="148.8" r="1.45"/><circle cx="321.9" cy="162.9" r="1.45"/><circle cx="313.4" cy="121.6" r="1.45"/><circle cx="332.0" cy="132.3" r="1.45"/><circle cx="317.3" cy="154.7" r="1.45"/><circle cx="346.4" cy="137.5" r="1.45"/><circle cx="318.1" cy="144.9" r="1.45"/><circle cx="329.6" cy="138.5" r="1.45"/><circle cx="373.4" cy="152.8" r="1.45"/><circle cx="329.3" cy="153.8" r="1.45"/><circle cx="331.3" cy="119.7" r="1.45"/><circle cx="334.9" cy="151.2" r="1.45"/><circle cx="325.8" cy="123.7" r="1.45"/><circle cx="353.2" cy="150.2" r="1.45"/><circle cx="324.0" cy="111.9" r="1.45"/><circle cx="295.3" cy="134.8" r="1.45"/><circle cx="332.3" cy="133.9" r="1.45"/><circle cx="322.7" cy="149.8" r="1.45"/><circle cx="311.1" cy="139.6" r="1.45"/><circle cx="312.2" cy="134.0" r="1.45"/><circle cx="328.6" cy="173.2" r="1.45"/><circle cx="331.8" cy="139.7" r="1.45"/><circle cx="250.6" cy="154.5" r="1.45"/><circle cx="310.8" cy="125.6" r="1.45"/><circle cx="321.7" cy="139.9" r="1.45"/><circle cx="316.0" cy="148.6" r="1.45"/><circle cx="331.9" cy="148.8" r="1.45"/><circle cx="324.9" cy="141.9" r="1.45"/><circle cx="341.1" cy="170.7" r="1.45"/><circle cx="317.3" cy="137.3" r="1.45"/><circle cx="377.1" cy="163.6" r="1.45"/><circle cx="301.4" cy="126.5" r="1.45"/><circle cx="309.4" cy="126.6" r="1.45"/><circle cx="314.8" cy="132.6" r="1.45"/><circle cx="327.9" cy="145.7" r="1.45"/><circle cx="301.7" cy="121.1" r="1.45"/><circle cx="344.3" cy="151.5" r="1.45"/><circle cx="324.0" cy="129.2" r="1.45"/><circle cx="308.4" cy="147.3" r="1.45"/><circle cx="313.7" cy="123.6" r="1.45"/><circle cx="325.7" cy="155.7" r="1.45"/><circle cx="366.6" cy="150.6" r="1.45"/><circle cx="329.9" cy="126.6" r="1.45"/><circle cx="319.2" cy="145.0" r="1.45"/><circle cx="330.1" cy="132.5" r="1.45"/><circle cx="346.3" cy="157.0" r="1.45"/><circle cx="318.0" cy="130.4" r="1.45"/><circle cx="327.4" cy="150.7" r="1.45"/><circle cx="352.3" cy="146.2" r="1.45"/><circle cx="340.1" cy="156.2" r="1.45"/><circle cx="348.8" cy="158.2" r="1.45"/><circle cx="337.7" cy="161.5" r="1.45"/><circle cx="326.0" cy="161.7" r="1.45"/><circle cx="329.6" cy="158.1" r="1.45"/><circle cx="358.8" cy="157.6" r="1.45"/><circle cx="320.5" cy="130.9" r="1.45"/><circle cx="361.9" cy="161.4" r="1.45"/><circle cx="306.9" cy="121.0" r="1.45"/><circle cx="330.5" cy="153.4" r="1.45"/><circle cx="358.1" cy="148.6" r="1.45"/><circle cx="319.5" cy="165.9" r="1.45"/><circle cx="281.9" cy="156.5" r="1.45"/><circle cx="302.1" cy="151.3" r="1.45"/><circle cx="326.2" cy="145.7" r="1.45"/><circle cx="320.3" cy="136.3" r="1.45"/><circle cx="348.6" cy="138.7" r="1.45"/><circle cx="332.2" cy="154.9" r="1.45"/><circle cx="311.1" cy="126.5" r="1.45"/><circle cx="332.1" cy="155.7" r="1.45"/><circle cx="317.6" cy="160.0" r="1.45"/><circle cx="338.3" cy="155.4" r="1.45"/><circle cx="340.1" cy="163.7" r="1.45"/><circle cx="331.1" cy="167.9" r="1.45"/><circle cx="290.6" cy="140.6" r="1.45"/><circle cx="329.5" cy="148.9" r="1.45"/><circle cx="318.3" cy="146.1" r="1.45"/><circle cx="325.4" cy="137.3" r="1.45"/><circle cx="346.6" cy="141.2" r="1.45"/><circle cx="312.3" cy="144.4" r="1.45"/><circle cx="336.1" cy="154.3" r="1.45"/><circle cx="335.8" cy="174.9" r="1.45"/><circle cx="338.8" cy="145.2" r="1.45"/><circle cx="314.0" cy="150.1" r="1.45"/><circle cx="318.2" cy="130.3" r="1.45"/><circle cx="338.5" cy="143.9" r="1.45"/><circle cx="333.0" cy="163.9" r="1.45"/><circle cx="313.5" cy="138.2" r="1.45"/><circle cx="341.5" cy="187.4" r="1.45"/><circle cx="315.7" cy="131.7" r="1.45"/><circle cx="349.9" cy="138.1" r="1.45"/><circle cx="323.1" cy="154.6" r="1.45"/><circle cx="341.5" cy="162.5" r="1.45"/><circle cx="311.5" cy="105.9" r="1.45"/><circle cx="355.1" cy="137.5" r="1.45"/><circle cx="317.4" cy="128.1" r="1.45"/><circle cx="318.5" cy="141.1" r="1.45"/><circle cx="305.3" cy="149.6" r="1.45"/><circle cx="340.5" cy="148.9" r="1.45"/><circle cx="323.9" cy="159.5" r="1.45"/><circle cx="332.3" cy="159.5" r="1.45"/><circle cx="304.6" cy="136.7" r="1.45"/><circle cx="354.4" cy="174.2" r="1.45"/><circle cx="331.3" cy="121.4" r="1.45"/><circle cx="338.6" cy="153.9" r="1.45"/><circle cx="342.6" cy="131.1" r="1.45"/><circle cx="316.2" cy="154.0" r="1.45"/><circle cx="339.7" cy="139.3" r="1.45"/><circle cx="350.1" cy="156.6" r="1.45"/><circle cx="346.7" cy="164.3" r="1.45"/><circle cx="313.0" cy="136.6" r="1.45"/><circle cx="331.3" cy="147.3" r="1.45"/><circle cx="311.9" cy="130.0" r="1.45"/><circle cx="320.1" cy="122.0" r="1.45"/><circle cx="343.0" cy="161.4" r="1.45"/><circle cx="345.4" cy="161.2" r="1.45"/><circle cx="337.6" cy="151.6" r="1.45"/><circle cx="322.8" cy="155.2" r="1.45"/><circle cx="339.6" cy="116.6" r="1.45"/><circle cx="358.1" cy="158.2" r="1.45"/><circle cx="318.1" cy="144.4" r="1.45"/><circle cx="303.0" cy="110.1" r="1.45"/><circle cx="320.8" cy="148.5" r="1.45"/><circle cx="326.3" cy="148.4" r="1.45"/><circle cx="303.4" cy="137.2" r="1.45"/><circle cx="302.0" cy="131.5" r="1.45"/><circle cx="335.0" cy="155.3" r="1.45"/><circle cx="339.1" cy="139.2" r="1.45"/><circle cx="313.1" cy="121.5" r="1.45"/><circle cx="318.0" cy="140.7" r="1.45"/><circle cx="318.5" cy="136.2" r="1.45"/><circle cx="314.5" cy="119.6" r="1.45"/><circle cx="302.9" cy="134.3" r="1.45"/><circle cx="326.2" cy="140.1" r="1.45"/><circle cx="322.0" cy="123.9" r="1.45"/><circle cx="319.5" cy="156.4" r="1.45"/><circle cx="346.6" cy="174.1" r="1.45"/><circle cx="347.5" cy="148.6" r="1.45"/><circle cx="324.0" cy="159.2" r="1.45"/><circle cx="327.4" cy="137.7" r="1.45"/><circle cx="326.5" cy="153.6" r="1.45"/><circle cx="330.0" cy="129.0" r="1.45"/><circle cx="300.8" cy="131.3" r="1.45"/><circle cx="329.8" cy="144.3" r="1.45"/><circle cx="312.1" cy="158.5" r="1.45"/><circle cx="348.7" cy="154.8" r="1.45"/><circle cx="330.7" cy="170.4" r="1.45"/><circle cx="348.4" cy="179.7" r="1.45"/><circle cx="334.4" cy="135.6" r="1.45"/><circle cx="322.6" cy="149.6" r="1.45"/><circle cx="333.1" cy="120.7" r="1.45"/><circle cx="343.5" cy="147.8" r="1.45"/><circle cx="333.0" cy="117.5" r="1.45"/><circle cx="308.9" cy="122.3" r="1.45"/><circle cx="316.0" cy="143.7" r="1.45"/><circle cx="343.0" cy="177.6" r="1.45"/><circle cx="319.4" cy="123.7" r="1.45"/><circle cx="302.6" cy="130.6" r="1.45"/><circle cx="327.1" cy="157.5" r="1.45"/><circle cx="321.1" cy="152.9" r="1.45"/><circle cx="325.4" cy="123.3" r="1.45"/><circle cx="348.4" cy="141.0" r="1.45"/><circle cx="328.4" cy="145.9" r="1.45"/><circle cx="322.2" cy="139.4" r="1.45"/><circle cx="329.6" cy="167.1" r="1.45"/><circle cx="370.5" cy="143.2" r="1.45"/><circle cx="315.8" cy="162.6" r="1.45"/><circle cx="353.1" cy="162.6" r="1.45"/><circle cx="334.3" cy="147.9" r="1.45"/><circle cx="333.0" cy="145.8" r="1.45"/><circle cx="317.1" cy="127.4" r="1.45"/><circle cx="341.1" cy="164.5" r="1.45"/><circle cx="313.9" cy="156.2" r="1.45"/><circle cx="345.6" cy="158.3" r="1.45"/><circle cx="340.5" cy="143.8" r="1.45"/><circle cx="324.4" cy="163.8" r="1.45"/><circle cx="320.4" cy="152.1" r="1.45"/><circle cx="368.3" cy="179.1" r="1.45"/><circle cx="331.0" cy="124.4" r="1.45"/><circle cx="321.0" cy="169.5" r="1.45"/><circle cx="318.8" cy="147.9" r="1.45"/><circle cx="320.0" cy="147.5" r="1.45"/><circle cx="341.8" cy="146.0" r="1.45"/><circle cx="340.4" cy="193.6" r="1.45"/><circle cx="334.9" cy="153.3" r="1.45"/><circle cx="328.9" cy="150.5" r="1.45"/><circle cx="320.4" cy="134.3" r="1.45"/><circle cx="324.6" cy="161.6" r="1.45"/><circle cx="317.3" cy="122.4" r="1.45"/><circle cx="329.5" cy="152.2" r="1.45"/><circle cx="331.4" cy="118.5" r="1.45"/><circle cx="309.2" cy="144.0" r="1.45"/><circle cx="331.7" cy="168.1" r="1.45"/><circle cx="323.3" cy="147.5" r="1.45"/><circle cx="318.4" cy="136.3" r="1.45"/><circle cx="330.4" cy="135.2" r="1.45"/><circle cx="338.0" cy="155.4" r="1.45"/><circle cx="295.5" cy="119.7" r="1.45"/><circle cx="326.8" cy="140.2" r="1.45"/><circle cx="315.1" cy="126.2" r="1.45"/><circle cx="346.6" cy="177.1" r="1.45"/><circle cx="291.7" cy="121.8" r="1.45"/><circle cx="333.5" cy="168.7" r="1.45"/><circle cx="331.7" cy="169.0" r="1.45"/><circle cx="337.1" cy="149.0" r="1.45"/><circle cx="324.4" cy="132.3" r="1.45"/><circle cx="307.9" cy="132.4" r="1.45"/><circle cx="287.4" cy="135.6" r="1.45"/><circle cx="338.5" cy="151.4" r="1.45"/><circle cx="314.6" cy="147.5" r="1.45"/><circle cx="361.0" cy="165.5" r="1.45"/><circle cx="343.2" cy="175.8" r="1.45"/><circle cx="327.8" cy="114.0" r="1.45"/><circle cx="349.4" cy="172.3" r="1.45"/><circle cx="325.1" cy="140.0" r="1.45"/><circle cx="326.5" cy="129.8" r="1.45"/><circle cx="298.0" cy="151.6" r="1.45"/><circle cx="356.1" cy="135.9" r="1.45"/><circle cx="357.6" cy="167.3" r="1.45"/><circle cx="351.7" cy="133.2" r="1.45"/><circle cx="342.7" cy="147.2" r="1.45"/><circle cx="349.9" cy="152.9" r="1.45"/><circle cx="356.4" cy="171.1" r="1.45"/><circle cx="373.3" cy="170.5" r="1.45"/><circle cx="358.3" cy="165.4" r="1.45"/><circle cx="365.6" cy="153.5" r="1.45"/><circle cx="336.5" cy="166.7" r="1.45"/><circle cx="335.9" cy="184.6" r="1.45"/><circle cx="315.0" cy="163.7" r="1.45"/><circle cx="351.0" cy="170.7" r="1.45"/><circle cx="331.1" cy="152.8" r="1.45"/><circle cx="313.3" cy="114.3" r="1.45"/><circle cx="323.7" cy="163.5" r="1.45"/><circle cx="337.0" cy="147.4" r="1.45"/><circle cx="349.5" cy="158.9" r="1.45"/><circle cx="386.2" cy="175.9" r="1.45"/><circle cx="336.3" cy="119.2" r="1.45"/><circle cx="321.2" cy="119.8" r="1.45"/><circle cx="344.0" cy="149.4" r="1.45"/><circle cx="324.3" cy="165.9" r="1.45"/><circle cx="316.7" cy="136.3" r="1.45"/><circle cx="316.6" cy="130.2" r="1.45"/><circle cx="342.7" cy="141.3" r="1.45"/><circle cx="324.5" cy="152.9" r="1.45"/><circle cx="315.3" cy="139.2" r="1.45"/><circle cx="335.4" cy="156.5" r="1.45"/><circle cx="353.6" cy="165.6" r="1.45"/><circle cx="311.1" cy="142.1" r="1.45"/><circle cx="352.9" cy="157.8" r="1.45"/><circle cx="312.9" cy="134.1" r="1.45"/><circle cx="336.4" cy="140.4" r="1.45"/><circle cx="326.3" cy="141.9" r="1.45"/><circle cx="359.9" cy="186.3" r="1.45"/><circle cx="344.2" cy="144.3" r="1.45"/><circle cx="341.8" cy="139.2" r="1.45"/><circle cx="345.7" cy="152.8" r="1.45"/><circle cx="307.7" cy="137.7" r="1.45"/><circle cx="305.5" cy="124.2" r="1.45"/><circle cx="369.3" cy="177.2" r="1.45"/><circle cx="332.0" cy="133.3" r="1.45"/><circle cx="339.5" cy="180.1" r="1.45"/><circle cx="283.1" cy="151.4" r="1.45"/><circle cx="346.2" cy="136.9" r="1.45"/><circle cx="352.5" cy="189.3" r="1.45"/><circle cx="364.4" cy="152.3" r="1.45"/><circle cx="315.5" cy="144.9" r="1.45"/><circle cx="325.4" cy="156.8" r="1.45"/><circle cx="307.4" cy="120.2" r="1.45"/><circle cx="316.2" cy="144.1" r="1.45"/><circle cx="342.4" cy="141.9" r="1.45"/><circle cx="357.9" cy="167.0" r="1.45"/><circle cx="274.0" cy="139.6" r="1.45"/><circle cx="300.7" cy="136.4" r="1.45"/><circle cx="366.9" cy="160.6" r="1.45"/><circle cx="336.8" cy="153.8" r="1.45"/><circle cx="333.7" cy="181.3" r="1.45"/><circle cx="313.3" cy="123.8" r="1.45"/><circle cx="333.9" cy="169.2" r="1.45"/><circle cx="332.7" cy="169.0" r="1.45"/><circle cx="320.1" cy="145.1" r="1.45"/><circle cx="323.1" cy="151.7" r="1.45"/><circle cx="298.7" cy="141.2" r="1.45"/><circle cx="333.2" cy="134.6" r="1.45"/><circle cx="345.3" cy="136.2" r="1.45"/><circle cx="326.6" cy="146.3" r="1.45"/><circle cx="356.9" cy="143.5" r="1.45"/><circle cx="301.7" cy="132.7" r="1.45"/><circle cx="324.0" cy="155.5" r="1.45"/><circle cx="328.7" cy="131.4" r="1.45"/><circle cx="332.1" cy="182.5" r="1.45"/><circle cx="336.2" cy="176.3" r="1.45"/><circle cx="333.3" cy="145.5" r="1.45"/><circle cx="308.4" cy="152.0" r="1.45"/><circle cx="341.5" cy="159.2" r="1.45"/><circle cx="321.3" cy="140.9" r="1.45"/><circle cx="338.1" cy="162.6" r="1.45"/><circle cx="332.7" cy="154.4" r="1.45"/><circle cx="366.9" cy="155.8" r="1.45"/><circle cx="335.6" cy="143.7" r="1.45"/><circle cx="298.1" cy="127.9" r="1.45"/><circle cx="322.1" cy="156.6" r="1.45"/><circle cx="333.2" cy="120.2" r="1.45"/><circle cx="330.9" cy="154.1" r="1.45"/><circle cx="314.0" cy="130.1" r="1.45"/><circle cx="351.6" cy="140.9" r="1.45"/><circle cx="320.6" cy="161.6" r="1.45"/><circle cx="355.2" cy="159.4" r="1.45"/><circle cx="300.9" cy="165.5" r="1.45"/><circle cx="311.9" cy="159.0" r="1.45"/><circle cx="323.5" cy="127.0" r="1.45"/><circle cx="322.3" cy="168.3" r="1.45"/><circle cx="304.6" cy="137.0" r="1.45"/><circle cx="343.4" cy="144.2" r="1.45"/><circle cx="309.8" cy="131.5" r="1.45"/><circle cx="330.7" cy="174.4" r="1.45"/><circle cx="312.5" cy="166.0" r="1.45"/><circle cx="301.8" cy="159.1" r="1.45"/><circle cx="320.5" cy="149.4" r="1.45"/><circle cx="326.1" cy="155.4" r="1.45"/><circle cx="321.9" cy="153.4" r="1.45"/><circle cx="309.6" cy="131.2" r="1.45"/><circle cx="325.2" cy="185.7" r="1.45"/><circle cx="311.4" cy="141.5" r="1.45"/><circle cx="340.1" cy="138.2" r="1.45"/><circle cx="316.8" cy="139.8" r="1.45"/><circle cx="323.9" cy="142.8" r="1.45"/><circle cx="339.8" cy="141.9" r="1.45"/><circle cx="316.9" cy="145.6" r="1.45"/><circle cx="337.8" cy="142.5" r="1.45"/><circle cx="330.1" cy="138.9" r="1.45"/><circle cx="313.8" cy="162.6" r="1.45"/><circle cx="350.9" cy="151.2" r="1.45"/><circle cx="272.6" cy="152.0" r="1.45"/><circle cx="342.0" cy="134.2" r="1.45"/><circle cx="324.4" cy="155.8" r="1.45"/><circle cx="323.7" cy="138.1" r="1.45"/><circle cx="333.7" cy="150.5" r="1.45"/><circle cx="318.3" cy="123.3" r="1.45"/><circle cx="349.7" cy="161.9" r="1.45"/><circle cx="320.4" cy="145.0" r="1.45"/><circle cx="342.9" cy="164.1" r="1.45"/><circle cx="309.0" cy="143.5" r="1.45"/><circle cx="328.6" cy="176.9" r="1.45"/><circle cx="326.8" cy="156.6" r="1.45"/><circle cx="337.2" cy="127.4" r="1.45"/><circle cx="315.1" cy="126.9" r="1.45"/><circle cx="336.1" cy="137.4" r="1.45"/><circle cx="337.5" cy="140.0" r="1.45"/><circle cx="324.6" cy="150.5" r="1.45"/><circle cx="324.6" cy="145.0" r="1.45"/><circle cx="323.3" cy="146.8" r="1.45"/><circle cx="323.1" cy="140.0" r="1.45"/><circle cx="319.0" cy="132.7" r="1.45"/><circle cx="325.3" cy="145.8" r="1.45"/><circle cx="330.3" cy="161.5" r="1.45"/><circle cx="317.1" cy="149.6" r="1.45"/><circle cx="367.1" cy="158.3" r="1.45"/><circle cx="315.9" cy="148.9" r="1.45"/><circle cx="318.4" cy="130.5" r="1.45"/><circle cx="365.8" cy="192.6" r="1.45"/><circle cx="328.8" cy="129.1" r="1.45"/><circle cx="324.6" cy="155.3" r="1.45"/><circle cx="325.2" cy="168.0" r="1.45"/><circle cx="344.5" cy="165.5" r="1.45"/><circle cx="342.1" cy="158.5" r="1.45"/><circle cx="318.0" cy="136.6" r="1.45"/><circle cx="332.6" cy="149.3" r="1.45"/><circle cx="337.9" cy="185.0" r="1.45"/><circle cx="323.2" cy="129.9" r="1.45"/><circle cx="349.1" cy="143.8" r="1.45"/><circle cx="325.5" cy="147.6" r="1.45"/><circle cx="339.6" cy="141.6" r="1.45"/><circle cx="328.2" cy="141.0" r="1.45"/><circle cx="308.4" cy="137.9" r="1.45"/><circle cx="344.1" cy="169.9" r="1.45"/><circle cx="332.6" cy="135.9" r="1.45"/><circle cx="331.1" cy="141.9" r="1.45"/><circle cx="311.5" cy="115.3" r="1.45"/><circle cx="393.5" cy="172.4" r="1.45"/><circle cx="326.1" cy="152.0" r="1.45"/><circle cx="314.9" cy="146.4" r="1.45"/><circle cx="339.3" cy="133.1" r="1.45"/><circle cx="328.9" cy="139.5" r="1.45"/><circle cx="349.0" cy="162.9" r="1.45"/><circle cx="334.5" cy="142.2" r="1.45"/><circle cx="328.2" cy="146.0" r="1.45"/><circle cx="351.3" cy="167.3" r="1.45"/><circle cx="362.3" cy="129.9" r="1.45"/><circle cx="348.4" cy="130.9" r="1.45"/><circle cx="325.3" cy="169.8" r="1.45"/><circle cx="321.6" cy="159.4" r="1.45"/><circle cx="324.3" cy="115.0" r="1.45"/><circle cx="317.7" cy="154.6" r="1.45"/><circle cx="336.6" cy="166.5" r="1.45"/><circle cx="343.3" cy="139.3" r="1.45"/><circle cx="314.8" cy="121.8" r="1.45"/><circle cx="401.2" cy="159.6" r="1.45"/><circle cx="316.8" cy="147.5" r="1.45"/><circle cx="323.5" cy="168.2" r="1.45"/><circle cx="316.1" cy="144.9" r="1.45"/><circle cx="324.2" cy="149.4" r="1.45"/><circle cx="334.6" cy="142.9" r="1.45"/><circle cx="320.4" cy="124.9" r="1.45"/><circle cx="296.5" cy="149.0" r="1.45"/><circle cx="313.0" cy="166.1" r="1.45"/><circle cx="356.0" cy="178.0" r="1.45"/><circle cx="335.5" cy="158.9" r="1.45"/><circle cx="341.2" cy="146.5" r="1.45"/><circle cx="348.1" cy="115.1" r="1.45"/><circle cx="315.9" cy="119.4" r="1.45"/><circle cx="326.0" cy="149.8" r="1.45"/><circle cx="382.0" cy="144.6" r="1.45"/><circle cx="320.1" cy="150.0" r="1.45"/><circle cx="316.5" cy="118.0" r="1.45"/><circle cx="322.6" cy="104.2" r="1.45"/><circle cx="333.0" cy="153.3" r="1.45"/><circle cx="339.6" cy="141.0" r="1.45"/><circle cx="352.7" cy="136.3" r="1.45"/><circle cx="311.8" cy="121.9" r="1.45"/><circle cx="340.4" cy="143.0" r="1.45"/><circle cx="311.2" cy="136.7" r="1.45"/><circle cx="338.6" cy="179.4" r="1.45"/><circle cx="309.5" cy="139.7" r="1.45"/><circle cx="353.4" cy="139.3" r="1.45"/><circle cx="322.4" cy="131.3" r="1.45"/><circle cx="335.9" cy="148.5" r="1.45"/><circle cx="346.8" cy="166.2" r="1.45"/><circle cx="341.9" cy="147.2" r="1.45"/><circle cx="340.1" cy="173.0" r="1.45"/><circle cx="362.0" cy="145.3" r="1.45"/><circle cx="329.0" cy="142.9" r="1.45"/><circle cx="339.8" cy="126.4" r="1.45"/><circle cx="331.2" cy="159.8" r="1.45"/><circle cx="329.9" cy="147.5" r="1.45"/><circle cx="306.3" cy="128.8" r="1.45"/><circle cx="322.2" cy="143.2" r="1.45"/><circle cx="336.0" cy="148.7" r="1.45"/><circle cx="329.7" cy="164.5" r="1.45"/><circle cx="345.2" cy="155.2" r="1.45"/><circle cx="323.9" cy="153.6" r="1.45"/><circle cx="313.5" cy="134.8" r="1.45"/><circle cx="320.5" cy="172.8" r="1.45"/><circle cx="346.6" cy="167.1" r="1.45"/><circle cx="334.0" cy="141.3" r="1.45"/><circle cx="322.6" cy="138.1" r="1.45"/><circle cx="322.5" cy="164.8" r="1.45"/><circle cx="325.1" cy="166.3" r="1.45"/><circle cx="329.9" cy="130.7" r="1.45"/><circle cx="321.5" cy="132.1" r="1.45"/><circle cx="329.4" cy="160.2" r="1.45"/><circle cx="345.6" cy="169.6" r="1.45"/><circle cx="322.4" cy="132.7" r="1.45"/><circle cx="325.7" cy="144.1" r="1.45"/><circle cx="386.2" cy="187.4" r="1.45"/><circle cx="348.3" cy="151.0" r="1.45"/><circle cx="362.1" cy="127.9" r="1.45"/><circle cx="366.4" cy="167.6" r="1.45"/><circle cx="335.2" cy="127.2" r="1.45"/><circle cx="326.3" cy="179.3" r="1.45"/><circle cx="315.5" cy="168.6" r="1.45"/><circle cx="313.4" cy="167.6" r="1.45"/><circle cx="338.3" cy="118.8" r="1.45"/><circle cx="324.7" cy="123.4" r="1.45"/><circle cx="336.6" cy="180.3" r="1.45"/><circle cx="314.8" cy="160.3" r="1.45"/><circle cx="299.0" cy="127.2" r="1.45"/><circle cx="326.4" cy="135.5" r="1.45"/><circle cx="331.4" cy="167.3" r="1.45"/><circle cx="323.0" cy="157.8" r="1.45"/><circle cx="332.5" cy="157.2" r="1.45"/><circle cx="329.3" cy="141.9" r="1.45"/><circle cx="318.6" cy="136.8" r="1.45"/><circle cx="334.4" cy="138.8" r="1.45"/><circle cx="315.3" cy="127.6" r="1.45"/><circle cx="328.7" cy="157.5" r="1.45"/><circle cx="358.7" cy="128.7" r="1.45"/><circle cx="313.6" cy="113.6" r="1.45"/><circle cx="328.9" cy="136.5" r="1.45"/><circle cx="343.3" cy="157.0" r="1.45"/><circle cx="313.6" cy="143.4" r="1.45"/><circle cx="306.6" cy="156.8" r="1.45"/><circle cx="352.9" cy="157.9" r="1.45"/><circle cx="326.8" cy="123.8" r="1.45"/><circle cx="328.0" cy="154.6" r="1.45"/><circle cx="374.7" cy="164.2" r="1.45"/><circle cx="331.5" cy="130.9" r="1.45"/><circle cx="370.0" cy="159.2" r="1.45"/><circle cx="327.5" cy="168.3" r="1.45"/><circle cx="350.0" cy="173.8" r="1.45"/><circle cx="312.9" cy="115.8" r="1.45"/><circle cx="322.4" cy="127.8" r="1.45"/><circle cx="333.8" cy="148.6" r="1.45"/><circle cx="342.6" cy="167.1" r="1.45"/><circle cx="346.9" cy="142.1" r="1.45"/><circle cx="291.3" cy="134.9" r="1.45"/><circle cx="347.6" cy="171.4" r="1.45"/><circle cx="322.3" cy="136.6" r="1.45"/><circle cx="336.3" cy="167.6" r="1.45"/><circle cx="364.9" cy="162.9" r="1.45"/><circle cx="313.6" cy="133.4" r="1.45"/><circle cx="357.4" cy="187.9" r="1.45"/><circle cx="315.1" cy="146.0" r="1.45"/><circle cx="324.0" cy="147.9" r="1.45"/><circle cx="353.7" cy="170.8" r="1.45"/><circle cx="302.4" cy="137.2" r="1.45"/><circle cx="345.9" cy="145.6" r="1.45"/><circle cx="366.3" cy="150.5" r="1.45"/><circle cx="341.9" cy="144.5" r="1.45"/><circle cx="298.0" cy="136.4" r="1.45"/><circle cx="351.6" cy="159.0" r="1.45"/><circle cx="293.2" cy="124.5" r="1.45"/><circle cx="344.1" cy="156.7" r="1.45"/><circle cx="311.1" cy="136.7" r="1.45"/><circle cx="338.1" cy="160.9" r="1.45"/><circle cx="323.1" cy="134.4" r="1.45"/><circle cx="330.1" cy="130.5" r="1.45"/><circle cx="309.4" cy="126.4" r="1.45"/><circle cx="313.0" cy="153.6" r="1.45"/><circle cx="321.2" cy="151.6" r="1.45"/><circle cx="315.0" cy="146.1" r="1.45"/><circle cx="331.9" cy="170.7" r="1.45"/><circle cx="315.2" cy="114.1" r="1.45"/><circle cx="306.1" cy="129.1" r="1.45"/><circle cx="343.1" cy="148.3" r="1.45"/><circle cx="372.6" cy="161.0" r="1.45"/><circle cx="361.7" cy="188.5" r="1.45"/><circle cx="327.4" cy="148.6" r="1.45"/><circle cx="333.3" cy="131.4" r="1.45"/><circle cx="367.2" cy="148.8" r="1.45"/><circle cx="344.2" cy="129.8" r="1.45"/><circle cx="332.3" cy="141.6" r="1.45"/><circle cx="315.0" cy="136.4" r="1.45"/><circle cx="324.0" cy="151.9" r="1.45"/><circle cx="337.8" cy="148.8" r="1.45"/><circle cx="383.1" cy="112.6" r="1.45"/><circle cx="347.0" cy="151.2" r="1.45"/><circle cx="350.8" cy="160.8" r="1.45"/><circle cx="337.3" cy="141.8" r="1.45"/><circle cx="313.6" cy="124.3" r="1.45"/><circle cx="356.0" cy="144.4" r="1.45"/><circle cx="392.5" cy="185.3" r="1.45"/><circle cx="343.7" cy="143.3" r="1.45"/><circle cx="344.8" cy="141.2" r="1.45"/><circle cx="317.3" cy="147.6" r="1.45"/><circle cx="336.4" cy="138.5" r="1.45"/><circle cx="335.3" cy="137.1" r="1.45"/><circle cx="311.4" cy="117.3" r="1.45"/><circle cx="334.6" cy="169.0" r="1.45"/><circle cx="319.9" cy="135.6" r="1.45"/><circle cx="351.1" cy="137.9" r="1.45"/><circle cx="296.2" cy="112.5" r="1.45"/><circle cx="361.4" cy="189.9" r="1.45"/><circle cx="316.3" cy="156.8" r="1.45"/><circle cx="325.7" cy="140.2" r="1.45"/><circle cx="350.5" cy="162.8" r="1.45"/><circle cx="324.9" cy="160.6" r="1.45"/><circle cx="324.6" cy="143.9" r="1.45"/><circle cx="317.2" cy="130.0" r="1.45"/><circle cx="301.4" cy="131.5" r="1.45"/><circle cx="334.3" cy="166.3" r="1.45"/><circle cx="305.7" cy="135.8" r="1.45"/><circle cx="325.9" cy="128.4" r="1.45"/><circle cx="310.0" cy="121.1" r="1.45"/><circle cx="335.6" cy="143.7" r="1.45"/><circle cx="344.9" cy="171.1" r="1.45"/><circle cx="325.9" cy="151.7" r="1.45"/><circle cx="323.0" cy="154.2" r="1.45"/><circle cx="323.6" cy="141.7" r="1.45"/><circle cx="307.9" cy="125.1" r="1.45"/><circle cx="347.1" cy="152.6" r="1.45"/><circle cx="328.3" cy="162.6" r="1.45"/><circle cx="328.0" cy="144.7" r="1.45"/><circle cx="339.2" cy="140.0" r="1.45"/><circle cx="336.9" cy="135.0" r="1.45"/><circle cx="316.8" cy="140.3" r="1.45"/><circle cx="328.0" cy="177.3" r="1.45"/><circle cx="342.1" cy="152.4" r="1.45"/><circle cx="332.2" cy="148.7" r="1.45"/><circle cx="340.9" cy="160.9" r="1.45"/><circle cx="337.2" cy="146.3" r="1.45"/><circle cx="289.5" cy="128.5" r="1.45"/><circle cx="341.0" cy="145.8" r="1.45"/><circle cx="301.9" cy="124.9" r="1.45"/><circle cx="312.0" cy="129.4" r="1.45"/><circle cx="319.5" cy="165.5" r="1.45"/><circle cx="351.4" cy="159.5" r="1.45"/><circle cx="318.8" cy="148.4" r="1.45"/><circle cx="318.5" cy="154.4" r="1.45"/><circle cx="301.0" cy="104.8" r="1.45"/><circle cx="330.8" cy="123.6" r="1.45"/><circle cx="344.8" cy="177.3" r="1.45"/><circle cx="325.8" cy="139.1" r="1.45"/><circle cx="318.6" cy="141.6" r="1.45"/><circle cx="334.3" cy="134.6" r="1.45"/><circle cx="350.7" cy="186.1" r="1.45"/><circle cx="320.6" cy="124.6" r="1.45"/><circle cx="340.3" cy="126.9" r="1.45"/><circle cx="313.0" cy="143.3" r="1.45"/><circle cx="344.6" cy="132.4" r="1.45"/><circle cx="320.8" cy="122.7" r="1.45"/><circle cx="362.3" cy="146.8" r="1.45"/><circle cx="324.3" cy="118.6" r="1.45"/><circle cx="311.9" cy="135.8" r="1.45"/><circle cx="339.1" cy="155.9" r="1.45"/><circle cx="331.2" cy="179.7" r="1.45"/><circle cx="300.9" cy="129.9" r="1.45"/><circle cx="378.1" cy="164.8" r="1.45"/><circle cx="320.0" cy="124.9" r="1.45"/><circle cx="323.5" cy="154.0" r="1.45"/><circle cx="336.9" cy="161.0" r="1.45"/><circle cx="334.3" cy="156.0" r="1.45"/><circle cx="349.4" cy="174.5" r="1.45"/><circle cx="342.3" cy="159.0" r="1.45"/><circle cx="318.0" cy="152.2" r="1.45"/><circle cx="329.9" cy="137.3" r="1.45"/><circle cx="312.6" cy="110.2" r="1.45"/><circle cx="332.8" cy="153.4" r="1.45"/><circle cx="344.6" cy="155.3" r="1.45"/><circle cx="335.1" cy="142.5" r="1.45"/><circle cx="317.0" cy="137.6" r="1.45"/><circle cx="310.8" cy="141.5" r="1.45"/><circle cx="326.8" cy="157.0" r="1.45"/><circle cx="352.5" cy="166.4" r="1.45"/><circle cx="329.7" cy="163.0" r="1.45"/><circle cx="339.2" cy="146.2" r="1.45"/><circle cx="351.2" cy="157.3" r="1.45"/><circle cx="340.0" cy="142.6" r="1.45"/><circle cx="339.8" cy="156.4" r="1.45"/><circle cx="327.5" cy="147.5" r="1.45"/><circle cx="318.6" cy="123.2" r="1.45"/><circle cx="332.2" cy="135.3" r="1.45"/><circle cx="328.1" cy="159.1" r="1.45"/><circle cx="343.0" cy="161.9" r="1.45"/><circle cx="326.6" cy="159.2" r="1.45"/><circle cx="325.8" cy="137.0" r="1.45"/><circle cx="349.3" cy="157.7" r="1.45"/><circle cx="345.1" cy="122.0" r="1.45"/><circle cx="342.8" cy="147.3" r="1.45"/><circle cx="327.9" cy="156.1" r="1.45"/><circle cx="351.1" cy="154.4" r="1.45"/><circle cx="342.2" cy="144.3" r="1.45"/><circle cx="342.8" cy="146.0" r="1.45"/><circle cx="337.0" cy="152.4" r="1.45"/><circle cx="323.1" cy="129.6" r="1.45"/><circle cx="315.0" cy="128.2" r="1.45"/><circle cx="323.8" cy="121.3" r="1.45"/><circle cx="324.3" cy="181.9" r="1.45"/><circle cx="337.5" cy="138.8" r="1.45"/><circle cx="309.6" cy="129.2" r="1.45"/><circle cx="348.0" cy="152.8" r="1.45"/><circle cx="324.0" cy="170.4" r="1.45"/><circle cx="316.3" cy="138.4" r="1.45"/><circle cx="306.5" cy="155.2" r="1.45"/><circle cx="345.5" cy="152.0" r="1.45"/><circle cx="381.3" cy="158.1" r="1.45"/><circle cx="319.0" cy="128.6" r="1.45"/><circle cx="291.6" cy="139.7" r="1.45"/><circle cx="295.0" cy="117.1" r="1.45"/><circle cx="335.1" cy="151.5" r="1.45"/><circle cx="340.7" cy="161.2" r="1.45"/><circle cx="322.7" cy="143.7" r="1.45"/><circle cx="333.1" cy="134.3" r="1.45"/><circle cx="326.3" cy="140.3" r="1.45"/><circle cx="322.6" cy="133.7" r="1.45"/><circle cx="331.6" cy="181.0" r="1.45"/><circle cx="312.3" cy="135.0" r="1.45"/><circle cx="342.1" cy="145.0" r="1.45"/><circle cx="348.4" cy="160.4" r="1.45"/><circle cx="313.9" cy="145.9" r="1.45"/><circle cx="310.4" cy="149.0" r="1.45"/><circle cx="321.9" cy="140.5" r="1.45"/><circle cx="327.9" cy="133.8" r="1.45"/><circle cx="342.0" cy="144.7" r="1.45"/><circle cx="334.3" cy="159.7" r="1.45"/><circle cx="323.8" cy="140.7" r="1.45"/><circle cx="332.9" cy="140.0" r="1.45"/><circle cx="310.7" cy="138.6" r="1.45"/><circle cx="325.9" cy="141.6" r="1.45"/><circle cx="301.0" cy="136.2" r="1.45"/><circle cx="313.4" cy="132.7" r="1.45"/><circle cx="304.1" cy="141.3" r="1.45"/><circle cx="338.0" cy="151.6" r="1.45"/><circle cx="305.1" cy="159.5" r="1.45"/><circle cx="353.5" cy="195.1" r="1.45"/><circle cx="319.1" cy="160.4" r="1.45"/><circle cx="319.5" cy="157.6" r="1.45"/><circle cx="316.3" cy="130.5" r="1.45"/><circle cx="318.0" cy="132.8" r="1.45"/><circle cx="323.7" cy="138.2" r="1.45"/><circle cx="328.5" cy="150.1" r="1.45"/><circle cx="328.4" cy="168.4" r="1.45"/><circle cx="346.5" cy="151.5" r="1.45"/><circle cx="304.1" cy="121.3" r="1.45"/><circle cx="324.0" cy="143.6" r="1.45"/><circle cx="327.6" cy="151.1" r="1.45"/><circle cx="318.5" cy="130.8" r="1.45"/><circle cx="318.0" cy="139.4" r="1.45"/><circle cx="340.7" cy="155.8" r="1.45"/><circle cx="337.1" cy="141.4" r="1.45"/><circle cx="337.1" cy="142.8" r="1.45"/><circle cx="326.4" cy="150.5" r="1.45"/><circle cx="304.8" cy="143.3" r="1.45"/><circle cx="303.2" cy="130.1" r="1.45"/><circle cx="308.6" cy="148.1" r="1.45"/><circle cx="321.2" cy="115.7" r="1.45"/><circle cx="327.9" cy="141.5" r="1.45"/><circle cx="331.9" cy="146.5" r="1.45"/><circle cx="327.6" cy="178.5" r="1.45"/><circle cx="306.7" cy="131.0" r="1.45"/><circle cx="330.9" cy="134.1" r="1.45"/><circle cx="327.8" cy="154.9" r="1.45"/><circle cx="323.0" cy="131.6" r="1.45"/><circle cx="334.4" cy="150.7" r="1.45"/><circle cx="334.8" cy="165.1" r="1.45"/><circle cx="363.1" cy="176.5" r="1.45"/><circle cx="299.0" cy="140.8" r="1.45"/><circle cx="337.7" cy="138.2" r="1.45"/><circle cx="319.2" cy="150.9" r="1.45"/><circle cx="339.0" cy="172.4" r="1.45"/><circle cx="313.6" cy="121.7" r="1.45"/><circle cx="328.4" cy="143.3" r="1.45"/><circle cx="349.4" cy="165.9" r="1.45"/><circle cx="308.1" cy="138.2" r="1.45"/><circle cx="319.6" cy="155.3" r="1.45"/><circle cx="319.9" cy="150.6" r="1.45"/><circle cx="308.7" cy="143.7" r="1.45"/><circle cx="339.3" cy="144.5" r="1.45"/><circle cx="322.7" cy="139.3" r="1.45"/><circle cx="323.5" cy="141.6" r="1.45"/><circle cx="334.9" cy="194.3" r="1.45"/><circle cx="320.3" cy="184.7" r="1.45"/><circle cx="330.9" cy="141.7" r="1.45"/><circle cx="340.0" cy="175.8" r="1.45"/><circle cx="311.0" cy="149.4" r="1.45"/><circle cx="300.3" cy="128.5" r="1.45"/><circle cx="325.3" cy="151.6" r="1.45"/><circle cx="340.7" cy="165.4" r="1.45"/><circle cx="336.1" cy="156.3" r="1.45"/><circle cx="301.4" cy="139.6" r="1.45"/><circle cx="325.1" cy="128.0" r="1.45"/><circle cx="333.1" cy="163.9" r="1.45"/><circle cx="327.0" cy="144.2" r="1.45"/><circle cx="376.0" cy="150.7" r="1.45"/><circle cx="324.4" cy="145.6" r="1.45"/><circle cx="282.9" cy="107.5" r="1.45"/><circle cx="329.7" cy="138.9" r="1.45"/><circle cx="327.8" cy="161.9" r="1.45"/><circle cx="311.1" cy="151.1" r="1.45"/><circle cx="298.1" cy="160.1" r="1.45"/><circle cx="331.8" cy="132.3" r="1.45"/><circle cx="305.5" cy="143.6" r="1.45"/><circle cx="316.0" cy="112.9" r="1.45"/><circle cx="318.4" cy="133.9" r="1.45"/><circle cx="326.3" cy="159.5" r="1.45"/><circle cx="312.5" cy="170.2" r="1.45"/><circle cx="289.1" cy="124.9" r="1.45"/><circle cx="333.9" cy="166.2" r="1.45"/><circle cx="310.7" cy="130.5" r="1.45"/><circle cx="332.5" cy="141.1" r="1.45"/><circle cx="341.3" cy="170.7" r="1.45"/><circle cx="285.2" cy="143.0" r="1.45"/><circle cx="356.4" cy="162.7" r="1.45"/><circle cx="354.4" cy="160.2" r="1.45"/><circle cx="334.6" cy="158.3" r="1.45"/><circle cx="343.5" cy="141.0" r="1.45"/><circle cx="340.8" cy="142.5" r="1.45"/><circle cx="377.5" cy="163.8" r="1.45"/><circle cx="346.3" cy="142.8" r="1.45"/><circle cx="346.1" cy="141.1" r="1.45"/><circle cx="334.1" cy="137.1" r="1.45"/><circle cx="312.9" cy="146.3" r="1.45"/><circle cx="281.7" cy="142.8" r="1.45"/><circle cx="339.4" cy="155.7" r="1.45"/><circle cx="358.0" cy="164.8" r="1.45"/><circle cx="339.7" cy="130.8" r="1.45"/><circle cx="358.9" cy="169.9" r="1.45"/><circle cx="334.0" cy="135.4" r="1.45"/><circle cx="327.1" cy="149.1" r="1.45"/><circle cx="308.0" cy="137.3" r="1.45"/><circle cx="320.0" cy="139.6" r="1.45"/><circle cx="356.5" cy="149.0" r="1.45"/><circle cx="338.7" cy="131.5" r="1.45"/><circle cx="332.6" cy="134.7" r="1.45"/><circle cx="315.8" cy="154.9" r="1.45"/><circle cx="329.6" cy="144.5" r="1.45"/><circle cx="316.9" cy="137.9" r="1.45"/><circle cx="328.2" cy="135.3" r="1.45"/><circle cx="312.3" cy="124.4" r="1.45"/><circle cx="341.3" cy="154.1" r="1.45"/><circle cx="312.2" cy="116.3" r="1.45"/><circle cx="320.5" cy="138.0" r="1.45"/><circle cx="304.0" cy="120.9" r="1.45"/><circle cx="332.1" cy="158.5" r="1.45"/><circle cx="300.7" cy="113.1" r="1.45"/><circle cx="346.4" cy="152.4" r="1.45"/><circle cx="320.6" cy="146.2" r="1.45"/><circle cx="344.1" cy="136.7" r="1.45"/><circle cx="309.9" cy="141.0" r="1.45"/><circle cx="313.4" cy="131.8" r="1.45"/><circle cx="346.0" cy="150.7" r="1.45"/><circle cx="328.1" cy="130.8" r="1.45"/><circle cx="326.5" cy="149.6" r="1.45"/><circle cx="311.4" cy="137.9" r="1.45"/><circle cx="327.7" cy="146.2" r="1.45"/><circle cx="309.3" cy="160.1" r="1.45"/><circle cx="326.3" cy="142.8" r="1.45"/><circle cx="347.7" cy="156.7" r="1.45"/><circle cx="323.2" cy="162.0" r="1.45"/><circle cx="323.8" cy="136.7" r="1.45"/><circle cx="339.5" cy="164.4" r="1.45"/><circle cx="327.7" cy="159.2" r="1.45"/><circle cx="319.7" cy="146.9" r="1.45"/><circle cx="321.5" cy="131.8" r="1.45"/><circle cx="356.0" cy="137.8" r="1.45"/><circle cx="352.1" cy="143.6" r="1.45"/><circle cx="364.8" cy="136.9" r="1.45"/><circle cx="375.9" cy="167.6" r="1.45"/><circle cx="326.8" cy="150.7" r="1.45"/><circle cx="317.2" cy="168.4" r="1.45"/><circle cx="332.6" cy="138.1" r="1.45"/><circle cx="321.7" cy="109.3" r="1.45"/><circle cx="345.5" cy="157.6" r="1.45"/><circle cx="327.1" cy="155.7" r="1.45"/><circle cx="336.0" cy="107.6" r="1.45"/><circle cx="309.8" cy="133.4" r="1.45"/><circle cx="367.4" cy="170.6" r="1.45"/><circle cx="316.0" cy="136.5" r="1.45"/><circle cx="336.7" cy="134.0" r="1.45"/><circle cx="344.1" cy="151.4" r="1.45"/><circle cx="302.7" cy="144.3" r="1.45"/><circle cx="348.3" cy="175.7" r="1.45"/><circle cx="316.3" cy="153.6" r="1.45"/><circle cx="348.8" cy="148.0" r="1.45"/><circle cx="326.6" cy="154.1" r="1.45"/><circle cx="384.9" cy="131.4" r="1.45"/><circle cx="353.7" cy="152.5" r="1.45"/><circle cx="334.0" cy="135.0" r="1.45"/><circle cx="319.4" cy="127.6" r="1.45"/><circle cx="348.3" cy="137.9" r="1.45"/><circle cx="335.5" cy="111.4" r="1.45"/><circle cx="323.0" cy="169.9" r="1.45"/><circle cx="326.9" cy="145.1" r="1.45"/><circle cx="351.0" cy="170.6" r="1.45"/><circle cx="327.6" cy="131.5" r="1.45"/><circle cx="326.2" cy="149.4" r="1.45"/><circle cx="320.0" cy="148.3" r="1.45"/><circle cx="300.4" cy="138.5" r="1.45"/><circle cx="326.8" cy="135.3" r="1.45"/><circle cx="319.8" cy="146.4" r="1.45"/><circle cx="345.0" cy="163.6" r="1.45"/><circle cx="323.5" cy="130.1" r="1.45"/><circle cx="325.8" cy="145.3" r="1.45"/><circle cx="337.4" cy="156.1" r="1.45"/><circle cx="322.2" cy="134.7" r="1.45"/><circle cx="320.1" cy="157.2" r="1.45"/><circle cx="338.5" cy="147.2" r="1.45"/><circle cx="337.1" cy="144.3" r="1.45"/><circle cx="332.7" cy="134.9" r="1.45"/><circle cx="320.9" cy="147.8" r="1.45"/><circle cx="306.9" cy="139.5" r="1.45"/><circle cx="327.1" cy="143.1" r="1.45"/><circle cx="340.7" cy="137.2" r="1.45"/><circle cx="337.7" cy="157.1" r="1.45"/><circle cx="290.7" cy="129.6" r="1.45"/><circle cx="317.1" cy="156.3" r="1.45"/><circle cx="323.1" cy="135.3" r="1.45"/><circle cx="338.6" cy="130.2" r="1.45"/><circle cx="317.6" cy="135.8" r="1.45"/><circle cx="296.8" cy="116.3" r="1.45"/><circle cx="308.3" cy="132.1" r="1.45"/><circle cx="347.4" cy="159.8" r="1.45"/><circle cx="355.4" cy="162.1" r="1.45"/><circle cx="342.1" cy="109.3" r="1.45"/><circle cx="309.2" cy="122.5" r="1.45"/><circle cx="358.4" cy="170.3" r="1.45"/><circle cx="320.9" cy="176.0" r="1.45"/><circle cx="323.1" cy="145.4" r="1.45"/><circle cx="327.9" cy="129.8" r="1.45"/><circle cx="324.5" cy="148.9" r="1.45"/><circle cx="329.2" cy="154.5" r="1.45"/><circle cx="351.4" cy="142.0" r="1.45"/><circle cx="317.6" cy="124.0" r="1.45"/><circle cx="315.0" cy="139.6" r="1.45"/><circle cx="335.8" cy="146.9" r="1.45"/><circle cx="334.2" cy="150.7" r="1.45"/><circle cx="310.4" cy="129.5" r="1.45"/><circle cx="313.8" cy="129.0" r="1.45"/><circle cx="314.1" cy="150.1" r="1.45"/><circle cx="320.5" cy="150.9" r="1.45"/><circle cx="338.1" cy="136.0" r="1.45"/><circle cx="335.6" cy="147.5" r="1.45"/><circle cx="308.6" cy="142.5" r="1.45"/><circle cx="353.3" cy="154.5" r="1.45"/><circle cx="362.8" cy="190.4" r="1.45"/><circle cx="348.5" cy="163.1" r="1.45"/><circle cx="307.0" cy="131.3" r="1.45"/><circle cx="331.8" cy="129.4" r="1.45"/><circle cx="327.6" cy="141.8" r="1.45"/><circle cx="316.0" cy="154.6" r="1.45"/><circle cx="334.5" cy="109.2" r="1.45"/><circle cx="324.7" cy="151.4" r="1.45"/><circle cx="356.0" cy="134.2" r="1.45"/><circle cx="309.9" cy="114.9" r="1.45"/><circle cx="312.8" cy="154.0" r="1.45"/><circle cx="331.7" cy="148.9" r="1.45"/><circle cx="300.8" cy="148.7" r="1.45"/><circle cx="306.7" cy="128.2" r="1.45"/><circle cx="364.6" cy="151.9" r="1.45"/><circle cx="311.4" cy="141.3" r="1.45"/><circle cx="304.9" cy="142.1" r="1.45"/><circle cx="327.1" cy="159.5" r="1.45"/><circle cx="335.7" cy="136.7" r="1.45"/><circle cx="316.4" cy="122.3" r="1.45"/><circle cx="306.0" cy="133.5" r="1.45"/><circle cx="328.1" cy="154.5" r="1.45"/><circle cx="316.3" cy="138.6" r="1.45"/><circle cx="334.4" cy="154.5" r="1.45"/><circle cx="310.8" cy="120.8" r="1.45"/><circle cx="322.2" cy="168.8" r="1.45"/><circle cx="326.7" cy="137.9" r="1.45"/><circle cx="318.4" cy="137.9" r="1.45"/><circle cx="305.6" cy="129.7" r="1.45"/><circle cx="290.6" cy="118.8" r="1.45"/><circle cx="317.9" cy="157.4" r="1.45"/><circle cx="332.9" cy="157.9" r="1.45"/><circle cx="308.8" cy="154.1" r="1.45"/><circle cx="316.1" cy="142.3" r="1.45"/><circle cx="341.8" cy="132.8" r="1.45"/><circle cx="322.9" cy="155.3" r="1.45"/><circle cx="309.8" cy="140.4" r="1.45"/><circle cx="354.5" cy="167.0" r="1.45"/><circle cx="317.8" cy="144.4" r="1.45"/><circle cx="325.2" cy="136.4" r="1.45"/><circle cx="318.4" cy="149.9" r="1.45"/><circle cx="328.4" cy="151.4" r="1.45"/><circle cx="329.1" cy="162.2" r="1.45"/><circle cx="332.5" cy="129.2" r="1.45"/><circle cx="322.0" cy="133.2" r="1.45"/><circle cx="307.8" cy="158.4" r="1.45"/><circle cx="339.6" cy="155.7" r="1.45"/><circle cx="344.0" cy="165.8" r="1.45"/><circle cx="319.6" cy="162.0" r="1.45"/><circle cx="327.0" cy="115.9" r="1.45"/><circle cx="298.9" cy="165.6" r="1.45"/><circle cx="335.9" cy="172.9" r="1.45"/><circle cx="320.4" cy="139.0" r="1.45"/><circle cx="338.5" cy="133.4" r="1.45"/><circle cx="342.5" cy="128.3" r="1.45"/><circle cx="309.0" cy="131.5" r="1.45"/><circle cx="346.4" cy="152.9" r="1.45"/><circle cx="317.5" cy="134.8" r="1.45"/><circle cx="306.1" cy="161.0" r="1.45"/><circle cx="326.8" cy="149.6" r="1.45"/><circle cx="306.4" cy="128.8" r="1.45"/><circle cx="321.0" cy="123.8" r="1.45"/><circle cx="333.9" cy="143.6" r="1.45"/><circle cx="300.2" cy="122.2" r="1.45"/><circle cx="316.7" cy="157.0" r="1.45"/><circle cx="331.8" cy="165.2" r="1.45"/><circle cx="335.7" cy="124.9" r="1.45"/><circle cx="298.7" cy="139.0" r="1.45"/><circle cx="302.3" cy="116.6" r="1.45"/><circle cx="313.5" cy="150.6" r="1.45"/><circle cx="321.0" cy="131.9" r="1.45"/><circle cx="319.4" cy="163.3" r="1.45"/><circle cx="379.3" cy="169.8" r="1.45"/><circle cx="304.7" cy="142.1" r="1.45"/><circle cx="314.8" cy="152.4" r="1.45"/><circle cx="320.1" cy="140.5" r="1.45"/><circle cx="334.8" cy="140.3" r="1.45"/><circle cx="312.8" cy="146.7" r="1.45"/><circle cx="325.9" cy="168.1" r="1.45"/><circle cx="321.1" cy="132.7" r="1.45"/><circle cx="332.6" cy="150.9" r="1.45"/><circle cx="301.8" cy="155.9" r="1.45"/><circle cx="340.9" cy="160.4" r="1.45"/><circle cx="326.1" cy="144.6" r="1.45"/><circle cx="353.4" cy="155.8" r="1.45"/><circle cx="335.8" cy="144.1" r="1.45"/><circle cx="325.0" cy="128.9" r="1.45"/><circle cx="313.1" cy="141.8" r="1.45"/><circle cx="315.9" cy="130.4" r="1.45"/><circle cx="350.5" cy="137.3" r="1.45"/><circle cx="374.8" cy="165.5" r="1.45"/><circle cx="297.5" cy="115.1" r="1.45"/><circle cx="308.4" cy="129.8" r="1.45"/><circle cx="329.0" cy="149.1" r="1.45"/><circle cx="320.5" cy="146.1" r="1.45"/><circle cx="313.9" cy="142.3" r="1.45"/><circle cx="364.1" cy="125.9" r="1.45"/><circle cx="298.4" cy="160.6" r="1.45"/><circle cx="341.2" cy="132.8" r="1.45"/><circle cx="359.1" cy="147.1" r="1.45"/><circle cx="330.9" cy="157.9" r="1.45"/><circle cx="307.7" cy="139.4" r="1.45"/><circle cx="322.0" cy="150.0" r="1.45"/><circle cx="314.0" cy="156.3" r="1.45"/><circle cx="319.5" cy="166.9" r="1.45"/><circle cx="345.2" cy="149.3" r="1.45"/><circle cx="360.5" cy="164.0" r="1.45"/><circle cx="321.4" cy="144.5" r="1.45"/><circle cx="353.3" cy="151.0" r="1.45"/><circle cx="317.6" cy="136.2" r="1.45"/><circle cx="310.9" cy="159.5" r="1.45"/><circle cx="342.1" cy="166.4" r="1.45"/><circle cx="320.8" cy="141.2" r="1.45"/><circle cx="352.9" cy="176.0" r="1.45"/><circle cx="331.4" cy="171.2" r="1.45"/><circle cx="313.1" cy="115.1" r="1.45"/><circle cx="321.3" cy="152.2" r="1.45"/><circle cx="303.6" cy="116.4" r="1.45"/><circle cx="367.6" cy="143.0" r="1.45"/><circle cx="343.2" cy="168.9" r="1.45"/><circle cx="330.6" cy="186.5" r="1.45"/><circle cx="353.7" cy="152.5" r="1.45"/><circle cx="312.7" cy="152.3" r="1.45"/><circle cx="299.0" cy="126.9" r="1.45"/><circle cx="331.5" cy="139.3" r="1.45"/><circle cx="364.4" cy="152.2" r="1.45"/><circle cx="333.4" cy="143.4" r="1.45"/><circle cx="338.2" cy="169.6" r="1.45"/><circle cx="335.5" cy="129.0" r="1.45"/><circle cx="352.0" cy="159.0" r="1.45"/><circle cx="304.3" cy="131.3" r="1.45"/><circle cx="353.8" cy="135.3" r="1.45"/><circle cx="311.4" cy="122.4" r="1.45"/><circle cx="329.6" cy="170.2" r="1.45"/><circle cx="317.9" cy="134.7" r="1.45"/><circle cx="313.6" cy="134.7" r="1.45"/><circle cx="317.6" cy="147.7" r="1.45"/><circle cx="321.9" cy="173.6" r="1.45"/><circle cx="366.2" cy="145.6" r="1.45"/><circle cx="322.6" cy="130.5" r="1.45"/><circle cx="328.5" cy="142.5" r="1.45"/><circle cx="313.6" cy="156.6" r="1.45"/><circle cx="304.4" cy="157.8" r="1.45"/><circle cx="319.6" cy="136.0" r="1.45"/><circle cx="361.9" cy="167.4" r="1.45"/><circle cx="335.8" cy="131.8" r="1.45"/><circle cx="335.9" cy="164.4" r="1.45"/><circle cx="345.1" cy="166.2" r="1.45"/><circle cx="324.0" cy="147.4" r="1.45"/><circle cx="333.9" cy="149.0" r="1.45"/><circle cx="336.0" cy="140.8" r="1.45"/><circle cx="307.2" cy="140.7" r="1.45"/><circle cx="328.1" cy="137.5" r="1.45"/><circle cx="325.5" cy="150.0" r="1.45"/><circle cx="333.0" cy="168.5" r="1.45"/><circle cx="348.0" cy="132.9" r="1.45"/><circle cx="324.7" cy="153.2" r="1.45"/><circle cx="303.7" cy="151.3" r="1.45"/><circle cx="332.6" cy="122.8" r="1.45"/><circle cx="348.2" cy="142.6" r="1.45"/><circle cx="345.7" cy="130.3" r="1.45"/><circle cx="338.3" cy="150.6" r="1.45"/><circle cx="352.0" cy="167.8" r="1.45"/><circle cx="336.4" cy="152.2" r="1.45"/><circle cx="317.1" cy="130.3" r="1.45"/><circle cx="327.0" cy="156.2" r="1.45"/><circle cx="342.0" cy="153.4" r="1.45"/><circle cx="354.9" cy="155.9" r="1.45"/><circle cx="327.9" cy="141.7" r="1.45"/><circle cx="316.6" cy="162.4" r="1.45"/><circle cx="331.5" cy="143.9" r="1.45"/><circle cx="325.7" cy="137.0" r="1.45"/><circle cx="277.4" cy="113.8" r="1.45"/><circle cx="327.1" cy="153.2" r="1.45"/><circle cx="364.5" cy="174.6" r="1.45"/><circle cx="324.3" cy="127.8" r="1.45"/><circle cx="319.3" cy="174.9" r="1.45"/><circle cx="321.7" cy="139.5" r="1.45"/><circle cx="317.0" cy="124.6" r="1.45"/><circle cx="340.8" cy="160.5" r="1.45"/><circle cx="315.3" cy="151.2" r="1.45"/><circle cx="336.8" cy="151.6" r="1.45"/><circle cx="318.3" cy="128.3" r="1.45"/><circle cx="346.0" cy="151.6" r="1.45"/><circle cx="305.4" cy="117.2" r="1.45"/><circle cx="336.4" cy="137.0" r="1.45"/><circle cx="330.1" cy="176.2" r="1.45"/><circle cx="310.3" cy="144.2" r="1.45"/><circle cx="310.7" cy="143.5" r="1.45"/><circle cx="320.1" cy="148.5" r="1.45"/><circle cx="326.2" cy="138.5" r="1.45"/><circle cx="321.8" cy="158.5" r="1.45"/><circle cx="337.4" cy="128.1" r="1.45"/><circle cx="328.5" cy="160.3" r="1.45"/><circle cx="323.0" cy="138.7" r="1.45"/><circle cx="341.7" cy="153.4" r="1.45"/><circle cx="334.8" cy="152.8" r="1.45"/><circle cx="345.0" cy="153.2" r="1.45"/><circle cx="382.3" cy="150.3" r="1.45"/><circle cx="323.4" cy="159.9" r="1.45"/><circle cx="336.0" cy="138.1" r="1.45"/><circle cx="334.3" cy="139.3" r="1.45"/><circle cx="339.7" cy="150.4" r="1.45"/><circle cx="301.1" cy="126.6" r="1.45"/><circle cx="349.2" cy="137.8" r="1.45"/><circle cx="322.5" cy="134.2" r="1.45"/><circle cx="365.9" cy="173.8" r="1.45"/><circle cx="335.5" cy="155.6" r="1.45"/><circle cx="340.8" cy="122.3" r="1.45"/><circle cx="330.5" cy="165.1" r="1.45"/><circle cx="359.4" cy="182.0" r="1.45"/><circle cx="321.9" cy="122.1" r="1.45"/><circle cx="348.4" cy="158.5" r="1.45"/><circle cx="342.9" cy="170.7" r="1.45"/><circle cx="324.7" cy="111.2" r="1.45"/><circle cx="344.8" cy="171.8" r="1.45"/><circle cx="319.0" cy="164.5" r="1.45"/><circle cx="321.6" cy="126.5" r="1.45"/><circle cx="317.3" cy="136.8" r="1.45"/><circle cx="312.7" cy="158.1" r="1.45"/><circle cx="351.7" cy="145.5" r="1.45"/><circle cx="304.6" cy="165.3" r="1.45"/><circle cx="365.2" cy="163.0" r="1.45"/><circle cx="337.5" cy="136.5" r="1.45"/><circle cx="280.5" cy="136.1" r="1.45"/><circle cx="324.2" cy="137.6" r="1.45"/><circle cx="357.6" cy="173.2" r="1.45"/><circle cx="322.0" cy="146.4" r="1.45"/><circle cx="323.9" cy="156.0" r="1.45"/><circle cx="339.6" cy="140.1" r="1.45"/><circle cx="326.1" cy="149.2" r="1.45"/><circle cx="334.9" cy="159.9" r="1.45"/><circle cx="344.3" cy="147.3" r="1.45"/><circle cx="314.6" cy="156.8" r="1.45"/><circle cx="331.0" cy="149.6" r="1.45"/><circle cx="339.9" cy="159.3" r="1.45"/><circle cx="335.7" cy="147.5" r="1.45"/><circle cx="334.1" cy="143.6" r="1.45"/><circle cx="344.3" cy="169.1" r="1.45"/><circle cx="349.3" cy="156.8" r="1.45"/><circle cx="326.2" cy="150.8" r="1.45"/><circle cx="328.0" cy="134.5" r="1.45"/><circle cx="310.0" cy="145.9" r="1.45"/><circle cx="347.2" cy="139.1" r="1.45"/><circle cx="321.1" cy="133.3" r="1.45"/><circle cx="348.8" cy="160.4" r="1.45"/><circle cx="332.6" cy="123.2" r="1.45"/><circle cx="322.0" cy="134.6" r="1.45"/><circle cx="330.3" cy="128.4" r="1.45"/><circle cx="349.9" cy="164.5" r="1.45"/><circle cx="335.5" cy="138.8" r="1.45"/><circle cx="333.7" cy="168.6" r="1.45"/><circle cx="348.6" cy="154.3" r="1.45"/><circle cx="317.0" cy="153.8" r="1.45"/><circle cx="312.3" cy="136.3" r="1.45"/><circle cx="326.5" cy="148.7" r="1.45"/><circle cx="337.6" cy="165.6" r="1.45"/><circle cx="335.9" cy="163.5" r="1.45"/><circle cx="314.9" cy="161.7" r="1.45"/><circle cx="352.7" cy="149.4" r="1.45"/><circle cx="315.5" cy="159.1" r="1.45"/><circle cx="358.1" cy="170.2" r="1.45"/><circle cx="306.6" cy="113.7" r="1.45"/><circle cx="325.0" cy="159.5" r="1.45"/><circle cx="302.5" cy="162.2" r="1.45"/><circle cx="349.2" cy="160.9" r="1.45"/><circle cx="328.1" cy="124.1" r="1.45"/><circle cx="381.7" cy="164.5" r="1.45"/><circle cx="344.9" cy="159.4" r="1.45"/><circle cx="329.6" cy="154.2" r="1.45"/><circle cx="359.5" cy="152.8" r="1.45"/><circle cx="322.4" cy="161.4" r="1.45"/><circle cx="348.4" cy="159.0" r="1.45"/><circle cx="331.5" cy="151.6" r="1.45"/><circle cx="317.0" cy="148.6" r="1.45"/><circle cx="325.0" cy="118.0" r="1.45"/><circle cx="346.9" cy="133.5" r="1.45"/><circle cx="314.6" cy="137.5" r="1.45"/><circle cx="347.1" cy="134.7" r="1.45"/><circle cx="372.8" cy="175.4" r="1.45"/><circle cx="305.8" cy="125.2" r="1.45"/><circle cx="320.6" cy="123.0" r="1.45"/><circle cx="339.9" cy="140.3" r="1.45"/><circle cx="331.7" cy="158.6" r="1.45"/><circle cx="303.9" cy="121.3" r="1.45"/><circle cx="329.9" cy="157.4" r="1.45"/><circle cx="319.6" cy="161.7" r="1.45"/><circle cx="315.9" cy="150.3" r="1.45"/><circle cx="330.6" cy="134.8" r="1.45"/><circle cx="285.8" cy="146.8" r="1.45"/><circle cx="344.2" cy="171.6" r="1.45"/><circle cx="363.8" cy="158.4" r="1.45"/><circle cx="328.0" cy="178.0" r="1.45"/><circle cx="339.9" cy="163.2" r="1.45"/><circle cx="326.2" cy="113.9" r="1.45"/><circle cx="351.6" cy="167.7" r="1.45"/><circle cx="335.3" cy="160.4" r="1.45"/><circle cx="368.6" cy="169.7" r="1.45"/><circle cx="342.0" cy="146.8" r="1.45"/><circle cx="315.3" cy="134.2" r="1.45"/><circle cx="321.5" cy="106.0" r="1.45"/><circle cx="345.9" cy="181.1" r="1.45"/><circle cx="308.6" cy="142.5" r="1.45"/><circle cx="360.8" cy="167.4" r="1.45"/><circle cx="350.4" cy="146.9" r="1.45"/><circle cx="328.7" cy="133.7" r="1.45"/><circle cx="320.6" cy="127.3" r="1.45"/><circle cx="327.9" cy="139.4" r="1.45"/><circle cx="347.2" cy="157.2" r="1.45"/><circle cx="339.5" cy="143.9" r="1.45"/><circle cx="309.5" cy="115.3" r="1.45"/><circle cx="334.1" cy="128.4" r="1.45"/><circle cx="305.7" cy="125.5" r="1.45"/><circle cx="325.2" cy="132.9" r="1.45"/><circle cx="317.9" cy="164.9" r="1.45"/><circle cx="323.0" cy="129.3" r="1.45"/><circle cx="304.8" cy="142.5" r="1.45"/><circle cx="337.8" cy="124.3" r="1.45"/><circle cx="326.5" cy="149.8" r="1.45"/><circle cx="329.1" cy="161.3" r="1.45"/><circle cx="339.2" cy="160.1" r="1.45"/><circle cx="318.5" cy="130.6" r="1.45"/><circle cx="310.6" cy="140.2" r="1.45"/><circle cx="296.0" cy="109.7" r="1.45"/><circle cx="323.8" cy="131.1" r="1.45"/><circle cx="317.3" cy="145.4" r="1.45"/><circle cx="297.4" cy="108.6" r="1.45"/><circle cx="325.9" cy="140.5" r="1.45"/><circle cx="341.9" cy="159.4" r="1.45"/><circle cx="325.6" cy="158.8" r="1.45"/><circle cx="377.5" cy="181.5" r="1.45"/><circle cx="340.1" cy="164.3" r="1.45"/><circle cx="313.7" cy="161.1" r="1.45"/><circle cx="340.8" cy="149.9" r="1.45"/><circle cx="319.6" cy="126.7" r="1.45"/><circle cx="342.7" cy="133.6" r="1.45"/><circle cx="337.8" cy="152.7" r="1.45"/><circle cx="313.5" cy="147.3" r="1.45"/><circle cx="337.8" cy="155.7" r="1.45"/><circle cx="311.8" cy="164.1" r="1.45"/><circle cx="343.3" cy="169.7" r="1.45"/><circle cx="340.2" cy="142.6" r="1.45"/><circle cx="321.2" cy="136.3" r="1.45"/><circle cx="316.2" cy="143.8" r="1.45"/><circle cx="333.4" cy="152.1" r="1.45"/><circle cx="327.6" cy="125.0" r="1.45"/><circle cx="326.7" cy="131.1" r="1.45"/><circle cx="287.7" cy="175.6" r="1.45"/><circle cx="346.7" cy="169.9" r="1.45"/><circle cx="317.2" cy="118.5" r="1.45"/><circle cx="329.7" cy="163.7" r="1.45"/><circle cx="327.6" cy="166.0" r="1.45"/><circle cx="316.8" cy="143.0" r="1.45"/><circle cx="337.8" cy="158.2" r="1.45"/><circle cx="318.6" cy="145.9" r="1.45"/><circle cx="332.3" cy="144.0" r="1.45"/><circle cx="344.6" cy="145.1" r="1.45"/><circle cx="335.5" cy="160.6" r="1.45"/><circle cx="305.8" cy="121.0" r="1.45"/><circle cx="331.4" cy="155.9" r="1.45"/><circle cx="325.2" cy="150.0" r="1.45"/><circle cx="320.2" cy="130.9" r="1.45"/><circle cx="322.3" cy="133.5" r="1.45"/><circle cx="318.5" cy="146.8" r="1.45"/><circle cx="305.6" cy="122.4" r="1.45"/><circle cx="304.1" cy="162.3" r="1.45"/><circle cx="318.1" cy="138.9" r="1.45"/><circle cx="313.0" cy="110.2" r="1.45"/><circle cx="314.7" cy="156.7" r="1.45"/><circle cx="307.4" cy="127.4" r="1.45"/><circle cx="320.8" cy="135.8" r="1.45"/><circle cx="305.0" cy="118.2" r="1.45"/><circle cx="319.2" cy="144.9" r="1.45"/><circle cx="325.2" cy="153.5" r="1.45"/><circle cx="368.7" cy="139.5" r="1.45"/><circle cx="334.7" cy="135.9" r="1.45"/><circle cx="321.8" cy="138.8" r="1.45"/><circle cx="313.1" cy="149.3" r="1.45"/><circle cx="323.3" cy="141.4" r="1.45"/><circle cx="315.4" cy="107.7" r="1.45"/><circle cx="311.5" cy="136.1" r="1.45"/><circle cx="334.9" cy="166.6" r="1.45"/><circle cx="364.4" cy="165.7" r="1.45"/><circle cx="341.0" cy="149.2" r="1.45"/><circle cx="347.3" cy="168.0" r="1.45"/><circle cx="312.9" cy="124.0" r="1.45"/><circle cx="316.7" cy="123.5" r="1.45"/><circle cx="341.3" cy="146.5" r="1.45"/><circle cx="324.4" cy="157.4" r="1.45"/><circle cx="341.8" cy="140.1" r="1.45"/><circle cx="306.0" cy="118.3" r="1.45"/><circle cx="307.4" cy="141.4" r="1.45"/><circle cx="313.5" cy="110.4" r="1.45"/><circle cx="329.1" cy="159.3" r="1.45"/><circle cx="319.8" cy="139.7" r="1.45"/><circle cx="330.4" cy="133.9" r="1.45"/><circle cx="289.1" cy="112.2" r="1.45"/><circle cx="332.4" cy="138.4" r="1.45"/><circle cx="321.1" cy="129.4" r="1.45"/><circle cx="335.9" cy="169.9" r="1.45"/><circle cx="331.7" cy="150.1" r="1.45"/><circle cx="333.9" cy="140.6" r="1.45"/><circle cx="320.5" cy="158.2" r="1.45"/><circle cx="325.1" cy="155.2" r="1.45"/><circle cx="314.2" cy="153.6" r="1.45"/><circle cx="320.9" cy="148.3" r="1.45"/><circle cx="320.8" cy="130.2" r="1.45"/><circle cx="311.6" cy="175.7" r="1.45"/><circle cx="314.9" cy="156.9" r="1.45"/><circle cx="297.8" cy="137.5" r="1.45"/><circle cx="325.6" cy="133.7" r="1.45"/><circle cx="308.3" cy="127.8" r="1.45"/><circle cx="357.8" cy="164.6" r="1.45"/><circle cx="318.7" cy="143.6" r="1.45"/><circle cx="354.3" cy="141.0" r="1.45"/><circle cx="337.2" cy="133.8" r="1.45"/><circle cx="302.9" cy="147.6" r="1.45"/><circle cx="308.9" cy="131.2" r="1.45"/><circle cx="324.8" cy="154.3" r="1.45"/><circle cx="314.0" cy="141.8" r="1.45"/><circle cx="365.3" cy="163.4" r="1.45"/><circle cx="321.9" cy="124.0" r="1.45"/><circle cx="348.3" cy="146.6" r="1.45"/><circle cx="350.0" cy="133.7" r="1.45"/><circle cx="333.5" cy="148.4" r="1.45"/><circle cx="318.5" cy="118.3" r="1.45"/><circle cx="349.8" cy="146.0" r="1.45"/><circle cx="341.3" cy="162.4" r="1.45"/><circle cx="337.0" cy="138.8" r="1.45"/><circle cx="336.3" cy="151.5" r="1.45"/><circle cx="315.4" cy="140.7" r="1.45"/><circle cx="326.2" cy="138.7" r="1.45"/><circle cx="317.3" cy="134.3" r="1.45"/><circle cx="358.6" cy="161.5" r="1.45"/><circle cx="326.7" cy="147.6" r="1.45"/><circle cx="353.4" cy="145.5" r="1.45"/><circle cx="313.5" cy="135.6" r="1.45"/><circle cx="298.4" cy="121.6" r="1.45"/><circle cx="310.1" cy="142.9" r="1.45"/><circle cx="337.0" cy="139.6" r="1.45"/><circle cx="342.7" cy="147.7" r="1.45"/><circle cx="313.2" cy="135.7" r="1.45"/><circle cx="329.9" cy="130.0" r="1.45"/><circle cx="337.2" cy="126.6" r="1.45"/><circle cx="340.0" cy="176.8" r="1.45"/><circle cx="315.6" cy="130.1" r="1.45"/><circle cx="363.7" cy="135.5" r="1.45"/><circle cx="318.0" cy="125.4" r="1.45"/><circle cx="297.2" cy="115.3" r="1.45"/><circle cx="357.3" cy="156.4" r="1.45"/><circle cx="333.2" cy="129.0" r="1.45"/><circle cx="355.8" cy="142.6" r="1.45"/><circle cx="332.0" cy="150.3" r="1.45"/><circle cx="336.0" cy="139.6" r="1.45"/><circle cx="343.6" cy="164.1" r="1.45"/><circle cx="333.9" cy="140.7" r="1.45"/><circle cx="310.8" cy="145.1" r="1.45"/><circle cx="332.0" cy="146.9" r="1.45"/><circle cx="361.6" cy="161.9" r="1.45"/><circle cx="323.0" cy="119.7" r="1.45"/><circle cx="328.9" cy="154.4" r="1.45"/><circle cx="340.7" cy="151.9" r="1.45"/><circle cx="327.3" cy="125.1" r="1.45"/><circle cx="288.9" cy="135.7" r="1.45"/><circle cx="283.0" cy="149.8" r="1.45"/><circle cx="369.4" cy="166.4" r="1.45"/><circle cx="342.8" cy="154.6" r="1.45"/><circle cx="325.1" cy="150.4" r="1.45"/><circle cx="327.3" cy="155.3" r="1.45"/><circle cx="313.5" cy="137.4" r="1.45"/><circle cx="338.4" cy="155.9" r="1.45"/><circle cx="299.5" cy="149.5" r="1.45"/><circle cx="341.4" cy="151.1" r="1.45"/><circle cx="350.8" cy="151.7" r="1.45"/><circle cx="302.8" cy="126.0" r="1.45"/><circle cx="305.0" cy="111.7" r="1.45"/><circle cx="296.5" cy="122.6" r="1.45"/><circle cx="322.7" cy="141.7" r="1.45"/><circle cx="322.6" cy="152.4" r="1.45"/><circle cx="308.9" cy="129.0" r="1.45"/><circle cx="315.7" cy="155.8" r="1.45"/><circle cx="309.1" cy="115.2" r="1.45"/><circle cx="319.9" cy="151.0" r="1.45"/><circle cx="330.1" cy="133.7" r="1.45"/><circle cx="314.3" cy="162.3" r="1.45"/><circle cx="369.1" cy="160.2" r="1.45"/><circle cx="302.4" cy="121.3" r="1.45"/><circle cx="292.8" cy="128.6" r="1.45"/><circle cx="319.4" cy="144.9" r="1.45"/><circle cx="321.7" cy="122.9" r="1.45"/><circle cx="318.3" cy="148.2" r="1.45"/><circle cx="337.0" cy="142.6" r="1.45"/><circle cx="316.8" cy="141.1" r="1.45"/><circle cx="327.2" cy="163.2" r="1.45"/><circle cx="320.8" cy="161.5" r="1.45"/><circle cx="303.3" cy="116.2" r="1.45"/><circle cx="328.0" cy="175.7" r="1.45"/><circle cx="317.5" cy="152.4" r="1.45"/><circle cx="299.2" cy="109.1" r="1.45"/><circle cx="321.7" cy="147.3" r="1.45"/><circle cx="314.2" cy="140.7" r="1.45"/><circle cx="323.7" cy="127.4" r="1.45"/><circle cx="310.4" cy="137.4" r="1.45"/><circle cx="326.3" cy="154.9" r="1.45"/><circle cx="307.1" cy="135.5" r="1.45"/><circle cx="346.2" cy="139.6" r="1.45"/><circle cx="337.3" cy="145.0" r="1.45"/><circle cx="302.2" cy="126.5" r="1.45"/><circle cx="318.9" cy="147.4" r="1.45"/><circle cx="353.8" cy="169.6" r="1.45"/><circle cx="296.2" cy="172.0" r="1.45"/><circle cx="322.5" cy="161.4" r="1.45"/><circle cx="320.2" cy="155.9" r="1.45"/><circle cx="298.6" cy="149.5" r="1.45"/><circle cx="299.9" cy="124.9" r="1.45"/><circle cx="314.0" cy="135.8" r="1.45"/><circle cx="335.8" cy="165.1" r="1.45"/><circle cx="329.3" cy="127.5" r="1.45"/><circle cx="331.3" cy="161.6" r="1.45"/><circle cx="339.3" cy="170.2" r="1.45"/><circle cx="339.1" cy="144.5" r="1.45"/><circle cx="326.4" cy="127.5" r="1.45"/><circle cx="347.9" cy="151.3" r="1.45"/><circle cx="302.1" cy="153.6" r="1.45"/><circle cx="313.6" cy="164.7" r="1.45"/><circle cx="314.2" cy="131.1" r="1.45"/><circle cx="317.2" cy="133.3" r="1.45"/><circle cx="323.5" cy="142.6" r="1.45"/><circle cx="347.6" cy="157.7" r="1.45"/><circle cx="338.9" cy="135.3" r="1.45"/><circle cx="336.3" cy="136.1" r="1.45"/><circle cx="343.8" cy="166.4" r="1.45"/><circle cx="336.5" cy="180.7" r="1.45"/><circle cx="310.0" cy="132.3" r="1.45"/><circle cx="291.7" cy="147.7" r="1.45"/><circle cx="316.7" cy="136.4" r="1.45"/><circle cx="341.9" cy="174.3" r="1.45"/><circle cx="319.8" cy="143.0" r="1.45"/><circle cx="311.0" cy="119.3" r="1.45"/><circle cx="340.9" cy="134.6" r="1.45"/><circle cx="303.2" cy="173.6" r="1.45"/><circle cx="329.1" cy="147.2" r="1.45"/><circle cx="322.9" cy="132.1" r="1.45"/><circle cx="342.1" cy="172.5" r="1.45"/><circle cx="330.6" cy="146.9" r="1.45"/><circle cx="359.8" cy="153.7" r="1.45"/><circle cx="310.8" cy="147.4" r="1.45"/><circle cx="331.5" cy="141.5" r="1.45"/><circle cx="343.4" cy="157.7" r="1.45"/><circle cx="336.6" cy="160.5" r="1.45"/><circle cx="330.1" cy="148.9" r="1.45"/><circle cx="320.1" cy="129.0" r="1.45"/><circle cx="351.6" cy="153.6" r="1.45"/><circle cx="342.4" cy="168.1" r="1.45"/><circle cx="321.4" cy="133.2" r="1.45"/><circle cx="331.4" cy="176.1" r="1.45"/><circle cx="313.4" cy="144.3" r="1.45"/><circle cx="310.0" cy="159.1" r="1.45"/><circle cx="347.3" cy="140.0" r="1.45"/><circle cx="313.2" cy="150.7" r="1.45"/><circle cx="339.5" cy="166.7" r="1.45"/><circle cx="317.9" cy="137.9" r="1.45"/><circle cx="299.8" cy="104.9" r="1.45"/><circle cx="335.9" cy="137.6" r="1.45"/><circle cx="344.5" cy="169.9" r="1.45"/><circle cx="328.2" cy="161.3" r="1.45"/><circle cx="340.0" cy="157.6" r="1.45"/><circle cx="336.0" cy="171.2" r="1.45"/><circle cx="351.4" cy="160.0" r="1.45"/><circle cx="303.7" cy="141.8" r="1.45"/><circle cx="335.0" cy="145.8" r="1.45"/><circle cx="357.9" cy="144.1" r="1.45"/><circle cx="303.6" cy="117.9" r="1.45"/><circle cx="329.0" cy="123.6" r="1.45"/><circle cx="316.6" cy="122.2" r="1.45"/><circle cx="331.1" cy="152.2" r="1.45"/><circle cx="344.9" cy="156.7" r="1.45"/><circle cx="319.2" cy="161.7" r="1.45"/><circle cx="336.9" cy="192.2" r="1.45"/><circle cx="329.9" cy="136.7" r="1.45"/><circle cx="344.2" cy="153.1" r="1.45"/><circle cx="340.3" cy="127.8" r="1.45"/><circle cx="319.1" cy="124.2" r="1.45"/><circle cx="345.8" cy="142.2" r="1.45"/><circle cx="342.2" cy="132.7" r="1.45"/><circle cx="315.9" cy="137.2" r="1.45"/><circle cx="336.1" cy="159.7" r="1.45"/><circle cx="330.1" cy="154.8" r="1.45"/><circle cx="388.0" cy="185.2" r="1.45"/><circle cx="319.7" cy="124.3" r="1.45"/><circle cx="307.6" cy="127.6" r="1.45"/><circle cx="342.1" cy="151.9" r="1.45"/><circle cx="329.6" cy="163.2" r="1.45"/><circle cx="314.0" cy="146.0" r="1.45"/><circle cx="337.7" cy="140.0" r="1.45"/><circle cx="330.7" cy="145.2" r="1.45"/><circle cx="342.6" cy="166.9" r="1.45"/><circle cx="315.8" cy="130.7" r="1.45"/><circle cx="317.8" cy="149.6" r="1.45"/><circle cx="325.4" cy="155.7" r="1.45"/><circle cx="316.9" cy="146.5" r="1.45"/><circle cx="317.1" cy="142.2" r="1.45"/><circle cx="298.8" cy="151.3" r="1.45"/><circle cx="326.0" cy="132.9" r="1.45"/><circle cx="318.5" cy="152.2" r="1.45"/><circle cx="327.0" cy="151.7" r="1.45"/><circle cx="314.4" cy="131.7" r="1.45"/><circle cx="323.6" cy="158.5" r="1.45"/><circle cx="326.3" cy="36.4" r="1.45"/><circle cx="329.8" cy="40.6" r="1.45"/><circle cx="329.4" cy="47.3" r="1.45"/><circle cx="331.5" cy="55.7" r="1.45"/><circle cx="324.5" cy="58.2" r="1.45"/><circle cx="333.3" cy="62.2" r="1.45"/><circle cx="337.7" cy="62.2" r="1.45"/><circle cx="326.6" cy="66.2" r="1.45"/><circle cx="330.1" cy="68.7" r="1.45"/><circle cx="336.8" cy="65.7" r="1.45"/><circle cx="338.9" cy="68.3" r="1.45"/><circle cx="344.7" cy="66.2" r="1.45"/><circle cx="348.7" cy="68.3" r="1.45"/><circle cx="346.4" cy="71.5" r="1.45"/><circle cx="352.6" cy="72.7" r="1.45"/><circle cx="366.2" cy="62.5" r="1.45"/><circle cx="373.9" cy="66.9" r="1.45"/><circle cx="381.6" cy="66.9" r="1.45"/><circle cx="366.2" cy="71.8" r="1.45"/><circle cx="326.3" cy="80.6" r="1.45"/><circle cx="332.4" cy="80.6" r="1.45"/><circle cx="337.7" cy="82.3" r="1.45"/><circle cx="343.8" cy="78.8" r="1.45"/><circle cx="345.5" cy="80.6" r="1.45"/><circle cx="364.8" cy="82.3" r="1.45"/><circle cx="361.3" cy="86.7" r="1.45"/><circle cx="359.6" cy="89.0" r="1.45"/><circle cx="371.8" cy="89.3" r="1.45"/><circle cx="363.1" cy="94.3" r="1.45"/><circle cx="350.8" cy="94.6" r="1.45"/><circle cx="353.0" cy="94.6" r="1.45"/><circle cx="356.0" cy="96.4" r="1.45"/><circle cx="328.9" cy="88.5" r="1.45"/><circle cx="332.4" cy="89.3" r="1.45"/><circle cx="335.0" cy="92.9" r="1.45"/><circle cx="331.5" cy="95.5" r="1.45"/><circle cx="328.9" cy="98.1" r="1.45"/><circle cx="324.5" cy="97.2" r="1.45"/><circle cx="338.5" cy="99.0" r="1.45"/><circle cx="345.5" cy="97.2" r="1.45"/><circle cx="355.2" cy="98.1" r="1.45"/><circle cx="323.5" cy="75.0" r="1.45"/><circle cx="325.0" cy="86.0" r="1.45"/><circle cx="334.0" cy="76.0" r="1.45"/><circle cx="340.0" cy="86.0" r="1.45"/><circle cx="327.0" cy="92.0" r="1.45"/><circle cx="336.0" cy="97.0" r="1.45"/><circle cx="342.0" cy="100.0" r="1.45"/><circle cx="349.0" cy="101.0" r="1.45"/><circle cx="360.0" cy="100.5" r="1.45"/><circle cx="323.0" cy="101.0" r="1.45"/><circle cx="330.0" cy="101.5" r="1.45"/><circle cx="370.0" cy="97.0" r="1.45"/><circle cx="376.0" cy="95.0" r="1.45"/></g>
<path fill="none" stroke="#e8202a" stroke-width="3" stroke-linecap="round" d="M311.6 28.0h0M297.3 42.7h0M287.4 58.7h0M291.5 61.3h0M291.8 62.2h0M299.2 58.2h0M308.1 56.4h0M314.6 62.5h0M290.1 65.2h0M286.2 70.8h0M290.4 73.6h0M301.1 69.4h0M318.1 71.0h0M271.7 84.1h0M275.7 90.4h0M282.2 80.1h0M290.1 87.6h0M291.0 85.8h0M295.7 81.6h0M298.8 79.2h0M300.6 82.3h0M296.2 85.8h0M306.7 74.8h0M309.0 75.7h0M304.1 80.9h0M307.6 81.5h0M312.0 78.8h0M315.5 77.1h0M316.4 78.0h0M317.2 79.7h0M307.2 86.7h0M311.1 87.6h0M313.7 85.8h0M316.0 88.5h0M291.0 91.1h0M298.5 91.1h0M305.5 91.1h0M290.6 95.5h0M300.6 94.6h0M303.7 95.5h0M308.5 96.4h0M297.1 99.5h0M299.7 99.9h0M301.5 100.2h0M289.2 100.7h0M312.9 98.1h0M315.5 97.2h0M317.2 99.0h0M318.1 91.1h0M319.0 77.1h0M318.1 80.6h0M319.0 100.7h0M311.1 100.7h0M305.8 99.0h0M294.0 100.5h0M303.0 100.7h0M314.0 100.2h0M309.5 92.0h0M319.5 95.0h0M302.0 89.0h0M288.0 78.0h0M296.0 75.0h0M312.0 67.0h0"/>
<line x1="320.6" y1="19.8" x2="320.6" y2="220.0" stroke="#000" stroke-width="2.5"/>
<line x1="342.15" y1="19.8" x2="342.15" y2="220.0" stroke="#000" stroke-width="2.5"/>
<line x1="248.4" y1="102.4" x2="410.1" y2="102.4" stroke="#000" stroke-width="2.6"/>
<rect x="248.4" y="19.8" width="161.7" height="200.2" fill="none" stroke="#333" stroke-width="1.2"/>
<line x1="244.9" y1="40.3" x2="248.4" y2="40.3" stroke="#333" stroke-width="1.2"/>
<text x="242.60" y="44.11" font-size="10.5" text-anchor="end" fill="#4d4d4d">3</text>
<line x1="244.9" y1="82.7" x2="248.4" y2="82.7" stroke="#333" stroke-width="1.2"/>
<text x="242.60" y="86.51" font-size="10.5" text-anchor="end" fill="#4d4d4d">2</text>
<line x1="244.9" y1="125.1" x2="248.4" y2="125.1" stroke="#333" stroke-width="1.2"/>
<text x="242.60" y="128.91" font-size="10.5" text-anchor="end" fill="#4d4d4d">1</text>
<line x1="244.9" y1="167.5" x2="248.4" y2="167.5" stroke="#333" stroke-width="1.2"/>
<text x="242.60" y="171.31" font-size="10.5" text-anchor="end" fill="#4d4d4d">0</text>
<line x1="244.9" y1="209.9" x2="248.4" y2="209.9" stroke="#333" stroke-width="1.2"/>
<text x="242.60" y="213.71" font-size="10.5" text-anchor="end" fill="#4d4d4d">−1</text>
<line x1="287.1" y1="220.0" x2="287.1" y2="223.0" stroke="#333" stroke-width="1"/>
<text x="287.10" y="234.01" font-size="10.5" text-anchor="middle" fill="#4d4d4d">−1</text>
<line x1="331.0" y1="220.0" x2="331.0" y2="223.0" stroke="#333" stroke-width="1"/>
<text x="331.00" y="234.01" font-size="10.5" text-anchor="middle" fill="#4d4d4d">0</text>
<line x1="374.9" y1="220.0" x2="374.9" y2="223.0" stroke="#333" stroke-width="1"/>
<text x="374.90" y="234.01" font-size="10.5" text-anchor="middle" fill="#4d4d4d">1</text>
<text x="258.90" y="34.80" font-size="9.55" fill="#333">n=63</text>
<rect x="334.9" y="177.1" width="93.2" height="35.8" fill="#fff" stroke="#555" stroke-width="1"/>
<circle cx="340.7" cy="185.4" r="3.3" fill="#e8202a"/>
<text x="346.30" y="187.82" font-size="9.5" fill="#222">Nudt21-dependent</text>
<text x="346.30" y="198.82" font-size="9.5" fill="#222">co-co-translational</text>
<text x="346.30" y="209.82" font-size="9.5" fill="#222">assembly</text>
<text x="334.30" y="247.90" font-size="11.9" text-anchor="middle" fill="#111">Co-co assembly score change</text>
<text x="335.90" y="261.70" font-size="11.9" text-anchor="middle" fill="#111">log(Nudt21 KO vs Control)</text>
<text x="228.20" y="119.70" font-size="9.5" text-anchor="middle" fill="#111" transform="rotate(-90 228.2 119.7)">Co−co−assembly score (Control)</text>
<line x1="516.8" y1="49.00" x2="520.6" y2="49.00" stroke="#222" stroke-width="1.2"/>
<text x="514.90" y="52.70" font-size="10.6" text-anchor="end" font-style="italic" fill="#4d4d4d">Zmym2</text>
<line x1="516.8" y1="58.84" x2="520.6" y2="58.84" stroke="#222" stroke-width="1.2"/>
<text x="514.90" y="62.54" font-size="10.6" text-anchor="end" font-style="italic" fill="#4d4d4d">Zfp800</text>
<line x1="516.8" y1="68.68" x2="520.6" y2="68.68" stroke="#222" stroke-width="1.2"/>
<text x="514.90" y="72.38" font-size="10.6" text-anchor="end" font-style="italic" fill="#4d4d4d">Zfp282</text>
<line x1="516.8" y1="78.53" x2="520.6" y2="78.53" stroke="#222" stroke-width="1.2"/>
<text x="514.90" y="82.23" font-size="10.6" text-anchor="end" font-style="italic" fill="#4d4d4d">Zfp106</text>
<line x1="516.8" y1="88.37" x2="520.6" y2="88.37" stroke="#222" stroke-width="1.2"/>
<text x="514.90" y="92.07" font-size="10.6" text-anchor="end" font-style="italic" fill="#4d4d4d">Zcchc8</text>
<line x1="516.8" y1="98.21" x2="520.6" y2="98.21" stroke="#222" stroke-width="1.2"/>
<text x="514.90" y="101.91" font-size="10.6" text-anchor="end" font-style="italic" fill="#4d4d4d">Trappc5</text>
<line x1="516.8" y1="108.05" x2="520.6" y2="108.05" stroke="#222" stroke-width="1.2"/>
<text x="514.90" y="111.75" font-size="10.6" text-anchor="end" font-style="italic" fill="#4d4d4d">Tmf1</text>
<line x1="516.8" y1="117.89" x2="520.6" y2="117.89" stroke="#222" stroke-width="1.2"/>
<text x="514.90" y="121.59" font-size="10.6" text-anchor="end" fill="#4d4d4d">Tle3</text>
<line x1="516.8" y1="127.74" x2="520.6" y2="127.74" stroke="#222" stroke-width="1.2"/>
<text x="514.90" y="131.44" font-size="10.6" text-anchor="end" font-style="italic" fill="#4d4d4d">Tjap1</text>
<line x1="516.8" y1="137.58" x2="520.6" y2="137.58" stroke="#222" stroke-width="1.2"/>
<text x="514.90" y="141.28" font-size="10.6" text-anchor="end" font-style="italic" fill="#4d4d4d">Thbs1</text>
<line x1="516.8" y1="147.42" x2="520.6" y2="147.42" stroke="#222" stroke-width="1.2"/>
<text x="514.90" y="151.12" font-size="10.6" text-anchor="end" font-style="italic" fill="#4d4d4d">Tbl1xr1</text>
<line x1="516.8" y1="157.26" x2="520.6" y2="157.26" stroke="#222" stroke-width="1.2"/>
<text x="514.90" y="160.96" font-size="10.6" text-anchor="end" font-style="italic" fill="#4d4d4d">Tbl1x</text>
<line x1="516.8" y1="167.10" x2="520.6" y2="167.10" stroke="#222" stroke-width="1.2"/>
<text x="514.90" y="170.80" font-size="10.6" text-anchor="end" font-style="italic" fill="#4d4d4d">Stat5a</text>
<line x1="516.8" y1="176.95" x2="520.6" y2="176.95" stroke="#222" stroke-width="1.2"/>
<text x="514.90" y="180.65" font-size="10.6" text-anchor="end" font-style="italic" fill="#4d4d4d">Ssbp3</text>
<line x1="516.8" y1="186.79" x2="520.6" y2="186.79" stroke="#222" stroke-width="1.2"/>
<text x="514.90" y="190.49" font-size="10.6" text-anchor="end" font-style="italic" fill="#4d4d4d">Spg21</text>
<line x1="516.8" y1="196.63" x2="520.6" y2="196.63" stroke="#222" stroke-width="1.2"/>
<text x="514.90" y="200.33" font-size="10.6" text-anchor="end" font-style="italic" fill="#4d4d4d">Specc1</text>
<line x1="516.8" y1="206.47" x2="520.6" y2="206.47" stroke="#222" stroke-width="1.2"/>
<text x="514.90" y="210.17" font-size="10.6" text-anchor="end" font-style="italic" fill="#4d4d4d">Spdl1</text>
<line x1="516.8" y1="216.31" x2="520.6" y2="216.31" stroke="#222" stroke-width="1.2"/>
<text x="514.90" y="220.01" font-size="10.6" text-anchor="end" font-style="italic" fill="#4d4d4d">Smc5</text>
<line x1="516.8" y1="226.16" x2="520.6" y2="226.16" stroke="#222" stroke-width="1.2"/>
<text x="514.90" y="229.86" font-size="10.6" text-anchor="end" font-style="italic" fill="#4d4d4d">Shtn1</text>
<line x1="516.8" y1="236.00" x2="520.6" y2="236.00" stroke="#222" stroke-width="1.2"/>
<text x="514.90" y="239.70" font-size="10.6" text-anchor="end" font-style="italic" fill="#4d4d4d">Scaf1</text>
<line x1="516.8" y1="245.84" x2="520.6" y2="245.84" stroke="#222" stroke-width="1.2"/>
<text x="514.90" y="249.54" font-size="10.6" text-anchor="end" font-style="italic" fill="#4d4d4d">Sass6</text>
<line x1="516.8" y1="255.68" x2="520.6" y2="255.68" stroke="#222" stroke-width="1.2"/>
<text x="514.90" y="259.38" font-size="10.6" text-anchor="end" font-style="italic" fill="#4d4d4d">Rock1</text>
<line x1="516.8" y1="265.52" x2="520.6" y2="265.52" stroke="#222" stroke-width="1.2"/>
<text x="514.90" y="269.22" font-size="10.6" text-anchor="end" font-style="italic" fill="#4d4d4d">Rint1</text>
<line x1="516.8" y1="275.37" x2="520.6" y2="275.37" stroke="#222" stroke-width="1.2"/>
<text x="514.90" y="279.07" font-size="10.6" text-anchor="end" font-style="italic" fill="#4d4d4d">Pqlc3</text>
<line x1="516.8" y1="285.21" x2="520.6" y2="285.21" stroke="#222" stroke-width="1.2"/>
<text x="514.90" y="288.91" font-size="10.6" text-anchor="end" font-style="italic" fill="#4d4d4d">Ppfibp1</text>
<line x1="516.8" y1="295.05" x2="520.6" y2="295.05" stroke="#222" stroke-width="1.2"/>
<text x="514.90" y="298.75" font-size="10.6" text-anchor="end" fill="#4d4d4d">Pcnt</text>
<line x1="516.8" y1="304.89" x2="520.6" y2="304.89" stroke="#222" stroke-width="1.2"/>
<text x="514.90" y="308.59" font-size="10.6" text-anchor="end" fill="#4d4d4d">Odf2</text>
<line x1="516.8" y1="314.73" x2="520.6" y2="314.73" stroke="#222" stroke-width="1.2"/>
<text x="514.90" y="318.43" font-size="10.6" text-anchor="end" font-style="italic" fill="#4d4d4d">Nup153</text>
<line x1="516.8" y1="324.58" x2="520.6" y2="324.58" stroke="#222" stroke-width="1.2"/>
<text x="514.90" y="328.28" font-size="10.6" text-anchor="end" font-style="italic" fill="#4d4d4d">Nudcd3</text>
<line x1="516.8" y1="334.42" x2="520.6" y2="334.42" stroke="#222" stroke-width="1.2"/>
<text x="514.90" y="338.12" font-size="10.6" text-anchor="end" font-style="italic" fill="#4d4d4d">Nolc1</text>
<line x1="516.8" y1="344.26" x2="520.6" y2="344.26" stroke="#222" stroke-width="1.2"/>
<text x="514.90" y="347.96" font-size="10.6" text-anchor="end" font-style="italic" fill="#4d4d4d">Nfat5</text>
<line x1="516.8" y1="354.10" x2="520.6" y2="354.10" stroke="#222" stroke-width="1.2"/>
<text x="514.90" y="357.80" font-size="10.6" text-anchor="end" font-style="italic" fill="#4d4d4d">Myo10</text>
<line x1="516.8" y1="363.94" x2="520.6" y2="363.94" stroke="#222" stroke-width="1.2"/>
<text x="514.90" y="367.64" font-size="10.6" text-anchor="end" fill="#4d4d4d">Myc</text>
<line x1="516.8" y1="373.79" x2="520.6" y2="373.79" stroke="#222" stroke-width="1.2"/>
<text x="514.90" y="377.49" font-size="10.6" text-anchor="end" font-style="italic" fill="#4d4d4d">Mrtfa</text>
<line x1="516.8" y1="383.63" x2="520.6" y2="383.63" stroke="#222" stroke-width="1.2"/>
<text x="514.90" y="387.33" font-size="10.6" text-anchor="end" font-style="italic" fill="#4d4d4d">Mrpl32</text>
<line x1="516.8" y1="393.47" x2="520.6" y2="393.47" stroke="#222" stroke-width="1.2"/>
<text x="514.90" y="397.17" font-size="10.6" text-anchor="end" font-style="italic" fill="#4d4d4d">Mis12</text>
<line x1="516.8" y1="403.31" x2="520.6" y2="403.31" stroke="#222" stroke-width="1.2"/>
<text x="514.90" y="407.01" font-size="10.6" text-anchor="end" font-style="italic" fill="#4d4d4d">Mettl7a1</text>
<line x1="516.8" y1="413.15" x2="520.6" y2="413.15" stroke="#222" stroke-width="1.2"/>
<text x="514.90" y="416.85" font-size="10.6" text-anchor="end" font-style="italic" fill="#4d4d4d">Mad1l1</text>
<line x1="516.8" y1="423.00" x2="520.6" y2="423.00" stroke="#222" stroke-width="1.2"/>
<text x="514.90" y="426.70" font-size="10.6" text-anchor="end" font-style="italic" fill="#4d4d4d">Luzp1</text>
<line x1="516.8" y1="432.84" x2="520.6" y2="432.84" stroke="#222" stroke-width="1.2"/>
<text x="514.90" y="436.54" font-size="10.6" text-anchor="end" font-style="italic" fill="#4d4d4d">Lancl1</text>
<line x1="516.8" y1="442.68" x2="520.6" y2="442.68" stroke="#222" stroke-width="1.2"/>
<text x="514.90" y="446.38" font-size="10.6" text-anchor="end" fill="#4d4d4d">Klc1</text>
<line x1="516.8" y1="452.52" x2="520.6" y2="452.52" stroke="#222" stroke-width="1.2"/>
<text x="514.90" y="456.22" font-size="10.6" text-anchor="end" font-style="italic" fill="#4d4d4d">Kif21a</text>
<line x1="516.8" y1="462.36" x2="520.6" y2="462.36" stroke="#222" stroke-width="1.2"/>
<text x="514.90" y="466.06" font-size="10.6" text-anchor="end" font-style="italic" fill="#4d4d4d">Kif15</text>
<line x1="516.8" y1="472.21" x2="520.6" y2="472.21" stroke="#222" stroke-width="1.2"/>
<text x="514.90" y="475.91" font-size="10.6" text-anchor="end" font-style="italic" fill="#4d4d4d">Hax1</text>
<line x1="516.8" y1="482.05" x2="520.6" y2="482.05" stroke="#222" stroke-width="1.2"/>
<text x="514.90" y="485.75" font-size="10.6" text-anchor="end" font-style="italic" fill="#4d4d4d">Gm6551</text>
<line x1="516.8" y1="491.89" x2="520.6" y2="491.89" stroke="#222" stroke-width="1.2"/>
<text x="514.90" y="495.59" font-size="10.6" text-anchor="end" fill="#4d4d4d">Ggh</text>
<line x1="516.8" y1="501.73" x2="520.6" y2="501.73" stroke="#222" stroke-width="1.2"/>
<text x="514.90" y="505.43" font-size="10.6" text-anchor="end" font-style="italic" fill="#4d4d4d">G3bp2</text>
<line x1="516.8" y1="511.57" x2="520.6" y2="511.57" stroke="#222" stroke-width="1.2"/>
<text x="514.90" y="515.27" font-size="10.6" text-anchor="end" font-style="italic" fill="#4d4d4d">Fnbp4</text>
<line x1="516.8" y1="521.42" x2="520.6" y2="521.42" stroke="#222" stroke-width="1.2"/>
<text x="514.90" y="525.12" font-size="10.6" text-anchor="end" font-style="italic" fill="#4d4d4d">Dctn1</text>
<line x1="516.8" y1="531.26" x2="520.6" y2="531.26" stroke="#222" stroke-width="1.2"/>
<text x="514.90" y="534.96" font-size="10.6" text-anchor="end" font-style="italic" fill="#4d4d4d">Daam1</text>
<line x1="516.8" y1="541.10" x2="520.6" y2="541.10" stroke="#222" stroke-width="1.2"/>
<text x="514.90" y="544.80" font-size="10.6" text-anchor="end" font-style="italic" fill="#4d4d4d">Cpox</text>
<line x1="516.8" y1="550.94" x2="520.6" y2="550.94" stroke="#222" stroke-width="1.2"/>
<text x="514.90" y="554.64" font-size="10.6" text-anchor="end" fill="#4d4d4d">Clpp</text>
<line x1="516.8" y1="560.78" x2="520.6" y2="560.78" stroke="#222" stroke-width="1.2"/>
<text x="514.90" y="564.48" font-size="10.6" text-anchor="end" font-style="italic" fill="#4d4d4d">Chd2</text>
<line x1="516.8" y1="570.63" x2="520.6" y2="570.63" stroke="#222" stroke-width="1.2"/>
<text x="514.90" y="574.33" font-size="10.6" text-anchor="end" font-style="italic" fill="#4d4d4d">Cenpf</text>
<line x1="516.8" y1="580.47" x2="520.6" y2="580.47" stroke="#222" stroke-width="1.2"/>
<text x="514.90" y="584.17" font-size="10.6" text-anchor="end" font-style="italic" fill="#4d4d4d">Cdc42bpb</text>
<line x1="516.8" y1="590.31" x2="520.6" y2="590.31" stroke="#222" stroke-width="1.2"/>
<text x="514.90" y="594.01" font-size="10.6" text-anchor="end" font-style="italic" fill="#4d4d4d">Ccnb2</text>
<line x1="516.8" y1="600.15" x2="520.6" y2="600.15" stroke="#222" stroke-width="1.2"/>
<text x="514.90" y="603.85" font-size="10.6" text-anchor="end" font-style="italic" fill="#4d4d4d">Ccdc186</text>
<line x1="516.8" y1="609.99" x2="520.6" y2="609.99" stroke="#222" stroke-width="1.2"/>
<text x="514.90" y="613.69" font-size="10.6" text-anchor="end" font-style="italic" fill="#4d4d4d">Card10</text>
<line x1="516.8" y1="619.84" x2="520.6" y2="619.84" stroke="#222" stroke-width="1.2"/>
<text x="514.90" y="623.54" font-size="10.6" text-anchor="end" font-style="italic" fill="#4d4d4d">Bnc1</text>
<line x1="516.8" y1="629.68" x2="520.6" y2="629.68" stroke="#222" stroke-width="1.2"/>
<text x="514.90" y="633.38" font-size="10.6" text-anchor="end" fill="#4d4d4d">Blm</text>
<line x1="516.8" y1="639.52" x2="520.6" y2="639.52" stroke="#222" stroke-width="1.2"/>
<text x="514.90" y="643.22" font-size="10.6" text-anchor="end" font-style="italic" fill="#4d4d4d">Baiap2l1</text>
<line x1="516.8" y1="649.36" x2="520.6" y2="649.36" stroke="#222" stroke-width="1.2"/>
<text x="514.90" y="653.06" font-size="10.6" text-anchor="end" font-style="italic" fill="#4d4d4d">Atp6v1c1</text>
<line x1="516.8" y1="659.20" x2="520.6" y2="659.20" stroke="#222" stroke-width="1.2"/>
<text x="514.90" y="662.90" font-size="10.6" text-anchor="end" font-style="italic" fill="#4d4d4d">Arhgap10</text>
<g fill="#174a86"><circle cx="538.2" cy="68.68" r="7.20"/><circle cx="538.2" cy="127.74" r="5.35"/><circle cx="538.2" cy="167.10" r="8.55"/><circle cx="538.2" cy="186.79" r="2.45"/><circle cx="538.2" cy="196.63" r="6.10"/><circle cx="538.2" cy="206.47" r="7.45"/><circle cx="538.2" cy="236.00" r="7.00"/><circle cx="538.2" cy="245.84" r="7.75"/><circle cx="538.2" cy="265.52" r="7.45"/><circle cx="538.2" cy="275.37" r="6.55"/><circle cx="538.2" cy="295.05" r="6.40"/><circle cx="538.2" cy="324.58" r="5.00"/><circle cx="538.2" cy="344.26" r="5.00"/><circle cx="538.2" cy="354.10" r="6.10"/><circle cx="538.2" cy="363.94" r="4.15"/><circle cx="538.2" cy="373.79" r="6.90"/><circle cx="538.2" cy="383.63" r="4.90"/><circle cx="538.2" cy="413.15" r="6.10"/><circle cx="538.2" cy="432.84" r="4.45"/><circle cx="538.2" cy="462.36" r="5.70"/><circle cx="538.2" cy="472.21" r="6.40"/><circle cx="538.2" cy="482.05" r="6.10"/><circle cx="538.2" cy="491.89" r="8.40"/><circle cx="538.2" cy="521.42" r="6.55"/><circle cx="538.2" cy="541.10" r="6.30"/><circle cx="538.2" cy="550.94" r="5.50"/><circle cx="538.2" cy="560.78" r="4.90"/><circle cx="538.2" cy="580.47" r="4.10"/><circle cx="538.2" cy="590.31" r="7.40"/><circle cx="538.2" cy="609.99" r="4.80"/><circle cx="538.2" cy="629.68" r="7.40"/><circle cx="538.2" cy="659.20" r="5.95"/></g>
<g fill="#ef4b20"><circle cx="559.8" cy="49.00" r="5.25"/><circle cx="559.8" cy="58.84" r="7.25"/><circle cx="559.8" cy="78.53" r="5.35"/><circle cx="559.8" cy="88.37" r="6.10"/><circle cx="559.8" cy="98.21" r="4.25"/><circle cx="559.8" cy="108.05" r="7.95"/><circle cx="559.8" cy="117.89" r="5.35"/><circle cx="559.8" cy="137.58" r="5.85"/><circle cx="559.8" cy="147.42" r="7.50"/><circle cx="559.8" cy="157.26" r="4.25"/><circle cx="559.8" cy="176.95" r="3.05"/><circle cx="559.8" cy="216.31" r="6.70"/><circle cx="559.8" cy="226.16" r="5.60"/><circle cx="559.8" cy="255.68" r="7.15"/><circle cx="559.8" cy="285.21" r="2.95"/><circle cx="559.8" cy="304.89" r="3.50"/><circle cx="559.8" cy="314.73" r="2.65"/><circle cx="559.8" cy="334.42" r="3.65"/><circle cx="559.8" cy="393.47" r="5.35"/><circle cx="559.8" cy="403.31" r="6.45"/><circle cx="559.8" cy="423.00" r="4.40"/><circle cx="559.8" cy="442.68" r="4.05"/><circle cx="559.8" cy="452.52" r="4.90"/><circle cx="559.8" cy="501.73" r="5.25"/><circle cx="559.8" cy="511.57" r="7.35"/><circle cx="559.8" cy="531.26" r="5.70"/><circle cx="559.8" cy="570.63" r="6.60"/><circle cx="559.8" cy="600.15" r="7.25"/><circle cx="559.8" cy="619.84" r="5.60"/><circle cx="559.8" cy="639.52" r="3.75"/><circle cx="559.8" cy="649.36" r="3.75"/></g>
<rect x="520.6" y="37.9" width="51.8" height="634.4" fill="none" stroke="#222" stroke-width="1.1"/>
<text x="536.05" y="685.30" font-size="11.4" text-anchor="middle" fill="#3d65a0">no</text>
<text x="561.10" y="685.30" font-size="11.4" text-anchor="middle" fill="#ee5533">yes</text>
<text x="536.05" y="698.60" font-size="11.4" text-anchor="middle" fill="#3d65a0">(32)</text>
<text x="561.35" y="698.60" font-size="11.4" text-anchor="middle" fill="#ee5533">(31)</text>
<text x="553.40" y="716.90" font-size="13.1" text-anchor="middle" fill="#222">Nudt21 target</text>
<text x="642.30" y="243.00" font-size="11.9" text-anchor="middle" fill="#111">Co-co assembly</text>
<text x="642.40" y="257.20" font-size="11.9" text-anchor="middle" fill="#111">score change</text>
<text x="642.50" y="271.40" font-size="11.9" text-anchor="middle" fill="#111">log(Nudt21 KO</text>
<text x="643.70" y="285.60" font-size="11.9" text-anchor="middle" fill="#111">vs Control)</text>
<circle cx="629.0" cy="311.3" r="8.3" fill="#000"/>
<text x="645.30" y="314.95" font-size="10.6" fill="#222">−1.25</text>
<circle cx="629.0" cy="332.2" r="7.65" fill="#000"/>
<text x="645.30" y="335.85" font-size="10.6" fill="#222">−1.00</text>
<circle cx="629.0" cy="352.8" r="6.5" fill="#000"/>
<text x="645.30" y="356.45" font-size="10.6" fill="#222">−0.75</text>
<circle cx="629.0" cy="373.4" r="5.25" fill="#000"/>
<text x="645.30" y="377.05" font-size="10.6" fill="#222">−0.50</text>
<circle cx="629.0" cy="394.0" r="2.9" fill="#000"/>
<text x="645.30" y="397.65" font-size="10.6" fill="#222">−0.25</text>
<rect x="126.7" y="353.50" width="142.0" height="26.3" fill="#e06664"/>
<line x1="117.4" y1="366.65" x2="119.8" y2="366.65" stroke="#333" stroke-width="1"/>
<rect x="126.7" y="382.75" width="76.5" height="26.3" fill="#527db3"/>
<line x1="117.4" y1="395.90" x2="119.8" y2="395.90" stroke="#333" stroke-width="1"/>
<rect x="126.7" y="412.00" width="75.2" height="26.3" fill="#2f7dba"/>
<line x1="117.4" y1="425.15" x2="119.8" y2="425.15" stroke="#333" stroke-width="1"/>
<rect x="126.7" y="441.25" width="75.2" height="26.3" fill="#2f7dba"/>
<line x1="117.4" y1="454.40" x2="119.8" y2="454.40" stroke="#333" stroke-width="1"/>
<rect x="126.7" y="470.50" width="75.2" height="26.3" fill="#2f7dba"/>
<line x1="117.4" y1="483.65" x2="119.8" y2="483.65" stroke="#333" stroke-width="1"/>
<rect x="119.8" y="349.8" width="155.6" height="150.2" fill="none" stroke="#444" stroke-width="1"/>
<line x1="126.6" y1="500.0" x2="126.6" y2="502.8" stroke="#333" stroke-width="1"/>
<text x="126.60" y="514.25" font-size="11.2" text-anchor="middle" fill="#222">0</text>
<line x1="170.5" y1="500.0" x2="170.5" y2="502.8" stroke="#333" stroke-width="1"/>
<text x="170.50" y="514.25" font-size="11.2" text-anchor="middle" fill="#222">1</text>
<line x1="214.4" y1="500.0" x2="214.4" y2="502.8" stroke="#333" stroke-width="1"/>
<text x="214.40" y="514.25" font-size="11.2" text-anchor="middle" fill="#222">2</text>
<line x1="258.3" y1="500.0" x2="258.3" y2="502.8" stroke="#333" stroke-width="1"/>
<text x="258.30" y="514.25" font-size="11.2" text-anchor="middle" fill="#222">3</text>
<text x="157.80" y="529.30" font-size="9.4" text-anchor="middle" fill="#222">-Log10(FDR)</text>
<text x="111.00" y="364.50" font-size="9.5" text-anchor="end" fill="#222">mitotic cell cycle phase</text>
<text x="111.00" y="376.80" font-size="9.5" text-anchor="end" fill="#222">transition</text>
<text x="108.40" y="400.10" font-size="9.5" text-anchor="end" fill="#222">chromosome</text>
<text x="111.00" y="411.20" font-size="9.5" text-anchor="end" fill="#222">segregation</text>
<text x="108.40" y="428.80" font-size="9.5" text-anchor="end" fill="#222">metaphase chromosome</text>
<text x="111.00" y="440.40" font-size="9.5" text-anchor="end" fill="#222">alignment</text>
<text x="111.00" y="451.80" font-size="9.5" text-anchor="end" fill="#222">establishment of organelle</text>
<text x="111.00" y="464.30" font-size="9.5" text-anchor="end" fill="#222">localization</text>
<text x="111.00" y="481.10" font-size="9.5" text-anchor="end" fill="#222">regulation of mitotic cell</text>
<text x="111.00" y="493.00" font-size="9.5" text-anchor="end" fill="#222">cycle phase transition</text>
<rect x="69.2" y="602.00" width="25.1" height="19.05" fill="#ef8e6f" shape-rendering="crispEdges"/>
<rect x="94.0" y="602.00" width="25.6" height="19.05" fill="#f9e5dd" shape-rendering="crispEdges"/>
<rect x="119.3" y="602.00" width="25.3" height="19.05" fill="#5764a8" shape-rendering="crispEdges"/>
<rect x="144.3" y="602.00" width="25.6" height="19.05" fill="#d6d9e9" shape-rendering="crispEdges"/>
<text x="173.60" y="614.48" font-size="9" font-style="italic" fill="#222">Blm</text>
<rect x="69.2" y="620.75" width="25.1" height="19.05" fill="#ef8e6f" shape-rendering="crispEdges"/>
<rect x="94.0" y="620.75" width="25.6" height="19.05" fill="#f9e5dd" shape-rendering="crispEdges"/>
<rect x="119.3" y="620.75" width="25.3" height="19.05" fill="#4c60a9" shape-rendering="crispEdges"/>
<rect x="144.3" y="620.75" width="25.6" height="19.05" fill="#e8e8f1" shape-rendering="crispEdges"/>
<text x="173.60" y="633.23" font-size="9" font-style="italic" fill="#222">Sass6</text>
<rect x="69.2" y="639.50" width="25.1" height="19.05" fill="#f6dbd0" shape-rendering="crispEdges"/>
<rect x="94.0" y="639.50" width="25.6" height="19.05" fill="#f0a184" shape-rendering="crispEdges"/>
<rect x="119.3" y="639.50" width="25.3" height="19.05" fill="#4c5fa8" shape-rendering="crispEdges"/>
<rect x="144.3" y="639.50" width="25.6" height="19.05" fill="#f9eeeb" shape-rendering="crispEdges"/>
<text x="173.60" y="651.98" font-size="9" font-style="italic" fill="#222">Mad1l1</text>
<rect x="69.2" y="658.25" width="25.1" height="19.05" fill="#f6cfc1" shape-rendering="crispEdges"/>
<rect x="94.0" y="658.25" width="25.6" height="19.05" fill="#efa68d" shape-rendering="crispEdges"/>
<rect x="119.3" y="658.25" width="25.3" height="19.05" fill="#4c5fa8" shape-rendering="crispEdges"/>
<rect x="144.3" y="658.25" width="25.6" height="19.05" fill="#f9eeeb" shape-rendering="crispEdges"/>
<text x="173.60" y="670.73" font-size="9" font-weight="bold" font-style="italic" fill="#222">Smc5</text>
<rect x="69.2" y="677.00" width="25.1" height="19.05" fill="#f4bba5" shape-rendering="crispEdges"/>
<rect x="94.0" y="677.00" width="25.6" height="19.05" fill="#f4bba5" shape-rendering="crispEdges"/>
<rect x="119.3" y="677.00" width="25.3" height="19.05" fill="#f9efec" shape-rendering="crispEdges"/>
<rect x="144.3" y="677.00" width="25.6" height="19.05" fill="#4b5fa8" shape-rendering="crispEdges"/>
<text x="173.60" y="689.48" font-size="9" font-style="italic" fill="#222">Myc</text>
<rect x="69.2" y="695.75" width="25.1" height="19.05" fill="#d8dbe9" shape-rendering="crispEdges"/>
<rect x="94.0" y="695.75" width="25.6" height="19.05" fill="#ed7b53" shape-rendering="crispEdges"/>
<rect x="119.3" y="695.75" width="25.3" height="19.05" fill="#a3a6cb" shape-rendering="crispEdges"/>
<rect x="144.3" y="695.75" width="25.6" height="19.05" fill="#8b8bbc" shape-rendering="crispEdges"/>
<text x="173.60" y="708.23" font-size="9" font-style="italic" fill="#222">Ccnb2</text>
<rect x="69.2" y="714.50" width="25.1" height="19.05" fill="#f4c4b1" shape-rendering="crispEdges"/>
<rect x="94.0" y="714.50" width="25.6" height="19.05" fill="#ef997b" shape-rendering="crispEdges"/>
<rect x="119.3" y="714.50" width="25.3" height="19.05" fill="#5a66a8" shape-rendering="crispEdges"/>
<rect x="144.3" y="714.50" width="25.6" height="19.05" fill="#adb0d2" shape-rendering="crispEdges"/>
<text x="173.60" y="726.98" font-size="9" font-weight="bold" font-style="italic" fill="#222">Cenpf</text>
<rect x="69.2" y="733.25" width="25.1" height="19.05" fill="#f4c4b1" shape-rendering="crispEdges"/>
<rect x="94.0" y="733.25" width="25.6" height="19.05" fill="#ef8d6e" shape-rendering="crispEdges"/>
<rect x="119.3" y="733.25" width="25.3" height="19.05" fill="#6d74ae" shape-rendering="crispEdges"/>
<rect x="144.3" y="733.25" width="25.6" height="19.05" fill="#8a8bbb" shape-rendering="crispEdges"/>
<text x="173.60" y="745.73" font-size="9" font-style="italic" fill="#222">Rint1</text>
<rect x="69.2" y="752.00" width="25.1" height="19.05" fill="#f4c2ae" shape-rendering="crispEdges"/>
<rect x="94.0" y="752.00" width="25.6" height="19.05" fill="#ef9a7c" shape-rendering="crispEdges"/>
<rect x="119.3" y="752.00" width="25.3" height="19.05" fill="#6d74ae" shape-rendering="crispEdges"/>
<rect x="144.3" y="752.00" width="25.6" height="19.05" fill="#8a8bbb" shape-rendering="crispEdges"/>
<text x="173.60" y="764.48" font-size="9" font-style="italic" fill="#222">Spdl1</text>
<rect x="69.2" y="602.0" width="100.4" height="168.8" fill="none" stroke="#222" stroke-width="1.2"/>
<line x1="119.3" y1="602.0" x2="119.3" y2="770.8" stroke="#111" stroke-width="1.2"/>
<path fill="none" stroke="#222" stroke-width="1" d="M69.2,611.4 H67.8 V630.1 H69.2 M69.2,648.9 H67.8 V667.6 H69.2 M67.8,620.8 H62 V658.2 H67.8 M62,639.4 H54.7 V704.2 H58.7 M69.2,686.4 H58.7 V722 H62.4 M69.2,705.1 H62.4 V738.3 H66.4 M69.2,723.9 H66.4 V752.0 H67.6 M69.2,742.6 H67.6 V761.4 H69.2"/>
<text x="117.50" y="563.90" font-size="11.9" text-anchor="middle" fill="#111">Mitotic cell cycle</text>
<text x="119.00" y="578.20" font-size="11.9" text-anchor="middle" fill="#111">phase transition</text>
<line x1="65" y1="584.9" x2="169.1" y2="584.9" stroke="#222" stroke-width="1.2"/>
<text x="91.25" y="597.90" font-size="9.45" text-anchor="middle" fill="#222">Control</text>
<text x="142.50" y="597.90" font-size="9.5" text-anchor="middle" fill="#222">Nudt21 KO</text>
<defs><linearGradient id="cb" x1="0" x2="1" y1="0" y2="0"><stop offset="0" stop-color="#3d55a6"/><stop offset="0.2" stop-color="#5a68b1"/><stop offset="0.35" stop-color="#979ccc"/><stop offset="0.5" stop-color="#ffffff"/><stop offset="0.65" stop-color="#f4c3b0"/><stop offset="0.8" stop-color="#ef916f"/><stop offset="1" stop-color="#e8552a"/></linearGradient></defs>
<rect x="76.6" y="778.8" width="86.8" height="6.1" fill="url(#cb)" stroke="#333" stroke-width="0.7"/>
<text x="78.60" y="795.10" font-size="9.3" text-anchor="middle" fill="#222">−2</text>
<text x="99.80" y="795.10" font-size="9.3" text-anchor="middle" fill="#222">−1</text>
<text x="121.00" y="795.10" font-size="9.3" text-anchor="middle" fill="#222">0</text>
<text x="142.20" y="795.10" font-size="9.3" text-anchor="middle" fill="#222">1</text>
<text x="163.40" y="795.10" font-size="9.3" text-anchor="middle" fill="#222">2</text>
<text x="120.80" y="807.60" font-size="9.5" text-anchor="middle" fill="#333">Co-co assembly</text>
<text x="120.80" y="818.30" font-size="9.5" text-anchor="middle" fill="#333">z-score</text>
</svg>
</body></html>
